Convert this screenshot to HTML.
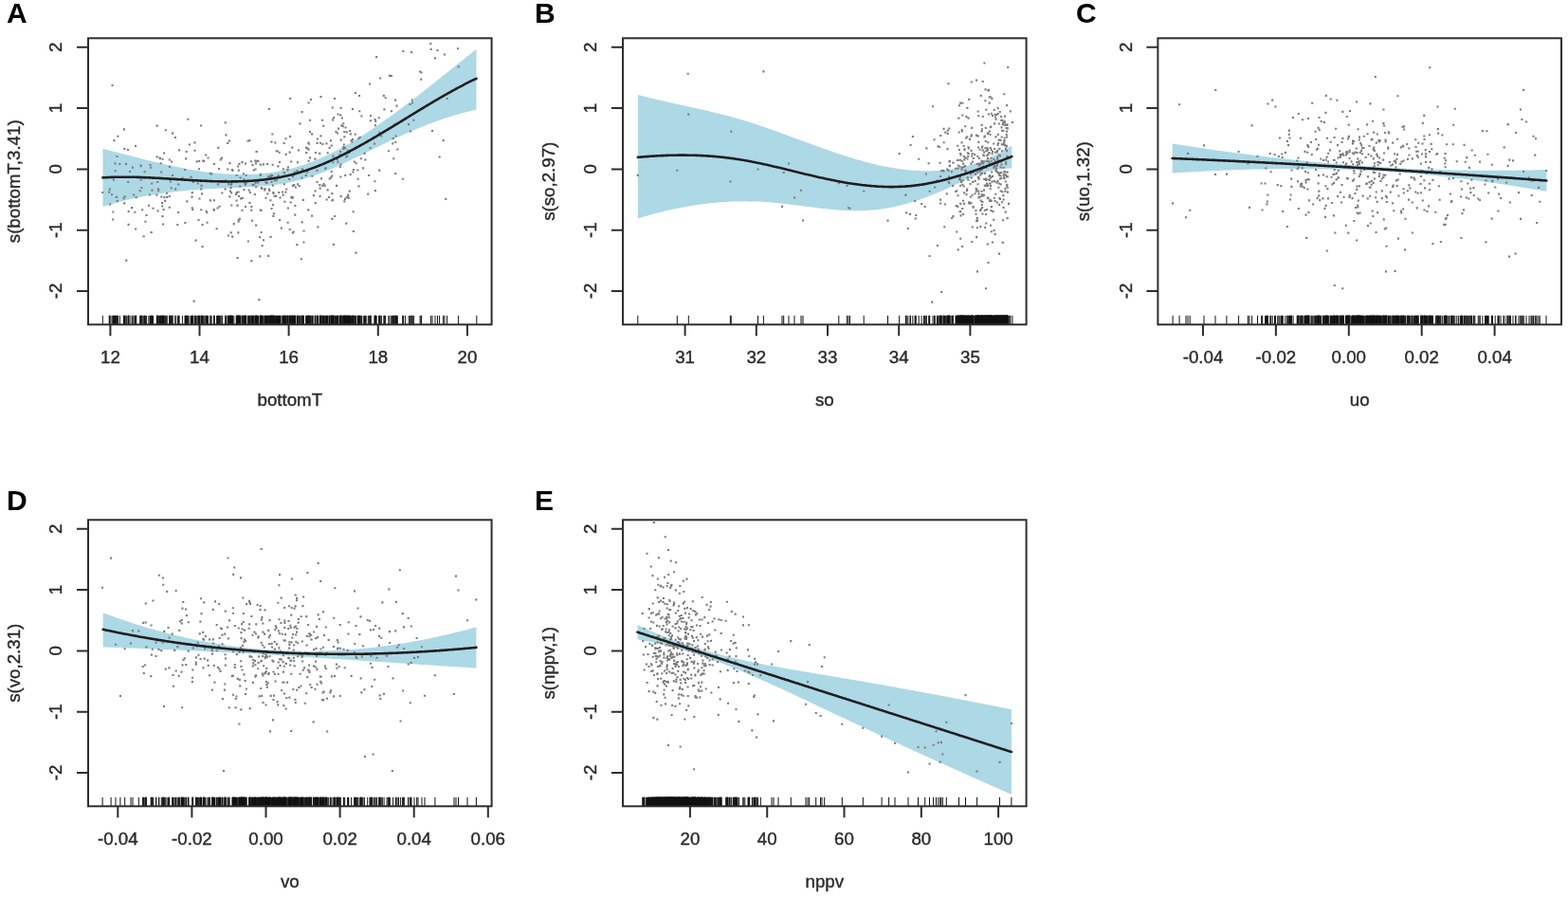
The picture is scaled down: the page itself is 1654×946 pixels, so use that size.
<!DOCTYPE html><html><head><meta charset="utf-8"><title>GAM smooths</title><style>html,body{margin:0;padding:0;background:#fff;}svg{display:block;}text{font-family:"Liberation Sans",Arial,sans-serif;}text.t{stroke:#2a2a2a;stroke-width:0.4px;}</style></head><body><svg width="1654" height="946" viewBox="0 0 1654 946"><defs><filter id="bl" x="0" y="0" width="1" height="1"><feGaussianBlur stdDeviation="0.0"/></filter></defs><rect width="1654" height="946" fill="#ffffff"/><g><g><path d="M108.5 156.9 L109.5 157.1 L110.5 157.4 L111.5 157.6 L112.5 157.9 L113.5 158.1 L114.5 158.4 L115.5 158.7 L116.5 158.9 L117.5 159.2 L118.5 159.4 L119.5 159.7 L120.5 159.9 L121.5 160.2 L122.5 160.5 L123.5 160.7 L124.5 161 L125.5 161.2 L126.5 161.5 L127.5 161.8 L128.5 162 L129.5 162.3 L130.5 162.5 L131.5 162.8 L132.5 163 L133.5 163.3 L134.5 163.6 L135.5 163.8 L136.5 164.1 L137.5 164.3 L138.5 164.6 L139.5 164.9 L140.5 165.1 L141.5 165.4 L142.5 165.6 L143.5 165.9 L144.5 166.1 L145.5 166.4 L146.5 166.6 L147.5 166.9 L148.5 167.2 L149.5 167.4 L150.5 167.7 L151.5 167.9 L152.5 168.2 L153.5 168.4 L154.5 168.7 L155.5 168.9 L156.5 169.2 L157.5 169.4 L158.5 169.6 L159.5 169.9 L160.5 170.1 L161.5 170.4 L162.5 170.6 L163.5 170.9 L164.5 171.1 L165.5 171.3 L166.5 171.6 L167.5 171.8 L168.5 172.1 L169.5 172.3 L170.5 172.5 L171.5 172.7 L172.5 173 L173.5 173.2 L174.5 173.4 L175.5 173.7 L176.5 173.9 L177.5 174.1 L178.5 174.3 L179.5 174.5 L180.5 174.8 L181.5 175 L182.5 175.2 L183.5 175.4 L184.5 175.6 L185.5 175.8 L186.5 176 L187.5 176.2 L188.5 176.4 L189.5 176.6 L190.5 176.8 L191.5 177 L192.5 177.2 L193.5 177.4 L194.5 177.6 L195.5 177.8 L196.5 178 L197.5 178.2 L198.5 178.4 L199.5 178.5 L200.5 178.7 L201.5 178.9 L202.5 179.1 L203.5 179.2 L204.5 179.4 L205.5 179.6 L206.5 179.7 L207.5 179.9 L208.5 180.1 L209.5 180.2 L210.5 180.4 L211.5 180.5 L212.5 180.7 L213.5 180.8 L214.5 181 L215.5 181.1 L216.5 181.2 L217.5 181.4 L218.5 181.5 L219.5 181.6 L220.5 181.7 L221.5 181.9 L222.5 182 L223.5 182.1 L224.5 182.2 L225.5 182.3 L226.5 182.4 L227.5 182.5 L228.5 182.6 L229.5 182.7 L230.5 182.8 L231.5 182.9 L232.5 183 L233.5 183.1 L234.5 183.2 L235.5 183.2 L236.5 183.3 L237.5 183.4 L238.5 183.5 L239.5 183.5 L240.5 183.6 L241.5 183.6 L242.5 183.7 L243.5 183.7 L244.5 183.8 L245.5 183.8 L246.5 183.9 L247.5 183.9 L248.5 183.9 L249.5 183.9 L250.5 184 L251.5 184 L252.5 184 L253.5 184 L254.5 184 L255.5 184 L256.5 184 L257.5 184 L258.5 184 L259.5 184 L260.5 184 L261.5 183.9 L262.5 183.9 L263.5 183.9 L264.5 183.8 L265.5 183.8 L266.5 183.7 L267.5 183.7 L268.5 183.6 L269.5 183.6 L270.5 183.5 L271.5 183.5 L272.5 183.4 L273.5 183.3 L274.5 183.2 L275.5 183.1 L276.5 183 L277.5 182.9 L278.5 182.8 L279.5 182.7 L280.5 182.6 L281.5 182.5 L282.5 182.4 L283.5 182.3 L284.5 182.1 L285.5 182 L286.5 181.8 L287.5 181.7 L288.5 181.5 L289.5 181.4 L290.5 181.2 L291.5 181.1 L292.5 180.9 L293.5 180.7 L294.5 180.5 L295.5 180.3 L296.5 180.1 L297.5 179.9 L298.5 179.7 L299.5 179.5 L300.5 179.3 L301.5 179.1 L302.5 178.8 L303.5 178.6 L304.5 178.4 L305.5 178.1 L306.5 177.9 L307.5 177.6 L308.5 177.4 L309.5 177.1 L310.5 176.8 L311.5 176.5 L312.5 176.2 L313.5 176 L314.5 175.7 L315.5 175.3 L316.5 175 L317.5 174.7 L318.5 174.4 L319.5 174.1 L320.5 173.7 L321.5 173.4 L322.5 173 L323.5 172.7 L324.5 172.3 L325.5 172 L326.5 171.6 L327.5 171.2 L328.5 170.8 L329.5 170.4 L330.5 170.1 L331.5 169.7 L332.5 169.2 L333.5 168.8 L334.5 168.4 L335.5 168 L336.5 167.6 L337.5 167.1 L338.5 166.7 L339.5 166.3 L340.5 165.8 L341.5 165.4 L342.5 164.9 L343.5 164.4 L344.5 164 L345.5 163.5 L346.5 163 L347.5 162.5 L348.5 162 L349.5 161.5 L350.5 161 L351.5 160.5 L352.5 160 L353.5 159.5 L354.5 159 L355.5 158.5 L356.5 158 L357.5 157.4 L358.5 156.9 L359.5 156.3 L360.5 155.8 L361.5 155.2 L362.5 154.7 L363.5 154.1 L364.5 153.6 L365.5 153 L366.5 152.4 L367.5 151.9 L368.5 151.3 L369.5 150.7 L370.5 150.1 L371.5 149.5 L372.5 148.9 L373.5 148.3 L374.5 147.7 L375.5 147.1 L376.5 146.5 L377.5 145.9 L378.5 145.3 L379.5 144.6 L380.5 144 L381.5 143.4 L382.5 142.7 L383.5 142.1 L384.5 141.5 L385.5 140.8 L386.5 140.2 L387.5 139.5 L388.5 138.9 L389.5 138.2 L390.5 137.5 L391.5 136.9 L392.5 136.2 L393.5 135.5 L394.5 134.9 L395.5 134.2 L396.5 133.5 L397.5 132.8 L398.5 132.1 L399.5 131.4 L400.5 130.7 L401.5 130 L402.5 129.3 L403.5 128.6 L404.5 127.9 L405.5 127.2 L406.5 126.5 L407.5 125.8 L408.5 125.1 L409.5 124.4 L410.5 123.7 L411.5 122.9 L412.5 122.2 L413.5 121.5 L414.5 120.8 L415.5 120 L416.5 119.3 L417.5 118.6 L418.5 117.8 L419.5 117.1 L420.5 116.3 L421.5 115.6 L422.5 114.8 L423.5 114.1 L424.5 113.3 L425.5 112.6 L426.5 111.8 L427.5 111.1 L428.5 110.3 L429.5 109.6 L430.5 108.8 L431.5 108 L432.5 107.3 L433.5 106.5 L434.5 105.7 L435.5 105 L436.5 104.2 L437.5 103.4 L438.5 102.6 L439.5 101.9 L440.5 101.1 L441.5 100.3 L442.5 99.5 L443.5 98.8 L444.5 98 L445.5 97.2 L446.5 96.4 L447.5 95.6 L448.5 94.8 L449.5 94 L450.5 93.3 L451.5 92.5 L452.5 91.7 L453.5 90.9 L454.5 90.1 L455.5 89.3 L456.5 88.5 L457.5 87.7 L458.5 86.9 L459.5 86.1 L460.5 85.3 L461.5 84.5 L462.5 83.7 L463.5 82.9 L464.5 82.2 L465.5 81.4 L466.5 80.6 L467.5 79.8 L468.5 79 L469.5 78.2 L470.5 77.4 L471.5 76.6 L472.5 75.8 L473.5 75 L474.5 74.2 L475.5 73.4 L476.5 72.6 L477.5 71.8 L478.5 71 L479.5 70.2 L480.5 69.4 L481.5 68.6 L482.5 67.8 L483.5 67 L484.5 66.2 L485.5 65.4 L486.5 64.6 L487.5 63.8 L488.5 63 L489.5 62.2 L490.5 61.4 L491.5 60.6 L492.5 59.8 L493.5 59 L494.5 58.2 L495.5 57.5 L496.5 56.7 L497.5 55.9 L498.5 55.1 L499.5 54.3 L500.5 53.5 L501.5 52.7 L502.5 52 L502.5 115.6 L501.5 115.8 L500.5 116.1 L499.5 116.3 L498.5 116.5 L497.5 116.7 L496.5 117 L495.5 117.2 L494.5 117.5 L493.5 117.7 L492.5 118 L491.5 118.2 L490.5 118.5 L489.5 118.8 L488.5 119 L487.5 119.3 L486.5 119.6 L485.5 119.8 L484.5 120.1 L483.5 120.4 L482.5 120.7 L481.5 121 L480.5 121.3 L479.5 121.6 L478.5 121.9 L477.5 122.2 L476.5 122.5 L475.5 122.8 L474.5 123.1 L473.5 123.5 L472.5 123.8 L471.5 124.1 L470.5 124.4 L469.5 124.8 L468.5 125.1 L467.5 125.4 L466.5 125.8 L465.5 126.1 L464.5 126.5 L463.5 126.8 L462.5 127.2 L461.5 127.5 L460.5 127.9 L459.5 128.2 L458.5 128.6 L457.5 129 L456.5 129.3 L455.5 129.7 L454.5 130.1 L453.5 130.5 L452.5 130.8 L451.5 131.2 L450.5 131.6 L449.5 132 L448.5 132.4 L447.5 132.8 L446.5 133.2 L445.5 133.6 L444.5 134 L443.5 134.4 L442.5 134.8 L441.5 135.2 L440.5 135.6 L439.5 136 L438.5 136.4 L437.5 136.9 L436.5 137.3 L435.5 137.7 L434.5 138.1 L433.5 138.6 L432.5 139 L431.5 139.4 L430.5 139.9 L429.5 140.3 L428.5 140.7 L427.5 141.2 L426.5 141.6 L425.5 142.1 L424.5 142.5 L423.5 143 L422.5 143.4 L421.5 143.9 L420.5 144.3 L419.5 144.8 L418.5 145.2 L417.5 145.7 L416.5 146.2 L415.5 146.6 L414.5 147.1 L413.5 147.6 L412.5 148 L411.5 148.5 L410.5 149 L409.5 149.5 L408.5 149.9 L407.5 150.4 L406.5 150.9 L405.5 151.4 L404.5 151.8 L403.5 152.3 L402.5 152.8 L401.5 153.3 L400.5 153.8 L399.5 154.3 L398.5 154.8 L397.5 155.3 L396.5 155.8 L395.5 156.3 L394.5 156.7 L393.5 157.2 L392.5 157.7 L391.5 158.2 L390.5 158.7 L389.5 159.2 L388.5 159.7 L387.5 160.2 L386.5 160.7 L385.5 161.2 L384.5 161.7 L383.5 162.2 L382.5 162.7 L381.5 163.2 L380.5 163.7 L379.5 164.2 L378.5 164.7 L377.5 165.2 L376.5 165.7 L375.5 166.1 L374.5 166.6 L373.5 167.1 L372.5 167.6 L371.5 168.1 L370.5 168.6 L369.5 169 L368.5 169.5 L367.5 170 L366.5 170.5 L365.5 170.9 L364.5 171.4 L363.5 171.9 L362.5 172.4 L361.5 172.8 L360.5 173.3 L359.5 173.7 L358.5 174.2 L357.5 174.6 L356.5 175.1 L355.5 175.5 L354.5 176 L353.5 176.4 L352.5 176.9 L351.5 177.3 L350.5 177.7 L349.5 178.2 L348.5 178.6 L347.5 179 L346.5 179.4 L345.5 179.8 L344.5 180.2 L343.5 180.7 L342.5 181.1 L341.5 181.4 L340.5 181.8 L339.5 182.2 L338.5 182.6 L337.5 183 L336.5 183.4 L335.5 183.7 L334.5 184.1 L333.5 184.5 L332.5 184.8 L331.5 185.2 L330.5 185.5 L329.5 185.9 L328.5 186.2 L327.5 186.5 L326.5 186.9 L325.5 187.2 L324.5 187.5 L323.5 187.8 L322.5 188.1 L321.5 188.4 L320.5 188.7 L319.5 189 L318.5 189.3 L317.5 189.6 L316.5 189.8 L315.5 190.1 L314.5 190.3 L313.5 190.6 L312.5 190.8 L311.5 191.1 L310.5 191.3 L309.5 191.5 L308.5 191.8 L307.5 192 L306.5 192.2 L305.5 192.4 L304.5 192.6 L303.5 192.8 L302.5 193 L301.5 193.2 L300.5 193.3 L299.5 193.5 L298.5 193.7 L297.5 193.8 L296.5 194 L295.5 194.2 L294.5 194.3 L293.5 194.5 L292.5 194.6 L291.5 194.7 L290.5 194.9 L289.5 195 L288.5 195.1 L287.5 195.3 L286.5 195.4 L285.5 195.5 L284.5 195.6 L283.5 195.7 L282.5 195.8 L281.5 195.9 L280.5 196 L279.5 196.1 L278.5 196.2 L277.5 196.3 L276.5 196.4 L275.5 196.5 L274.5 196.6 L273.5 196.6 L272.5 196.7 L271.5 196.8 L270.5 196.9 L269.5 196.9 L268.5 197 L267.5 197.1 L266.5 197.1 L265.5 197.2 L264.5 197.2 L263.5 197.3 L262.5 197.3 L261.5 197.4 L260.5 197.5 L259.5 197.5 L258.5 197.6 L257.5 197.6 L256.5 197.6 L255.5 197.7 L254.5 197.7 L253.5 197.8 L252.5 197.8 L251.5 197.9 L250.5 197.9 L249.5 197.9 L248.5 198 L247.5 198 L246.5 198.1 L245.5 198.1 L244.5 198.1 L243.5 198.2 L242.5 198.2 L241.5 198.3 L240.5 198.3 L239.5 198.3 L238.5 198.4 L237.5 198.4 L236.5 198.5 L235.5 198.5 L234.5 198.5 L233.5 198.6 L232.5 198.6 L231.5 198.7 L230.5 198.7 L229.5 198.8 L228.5 198.8 L227.5 198.8 L226.5 198.9 L225.5 198.9 L224.5 199 L223.5 199 L222.5 199.1 L221.5 199.2 L220.5 199.2 L219.5 199.3 L218.5 199.3 L217.5 199.4 L216.5 199.4 L215.5 199.5 L214.5 199.6 L213.5 199.6 L212.5 199.7 L211.5 199.8 L210.5 199.8 L209.5 199.9 L208.5 200 L207.5 200.1 L206.5 200.1 L205.5 200.2 L204.5 200.3 L203.5 200.4 L202.5 200.5 L201.5 200.5 L200.5 200.6 L199.5 200.7 L198.5 200.8 L197.5 200.9 L196.5 201 L195.5 201.1 L194.5 201.2 L193.5 201.3 L192.5 201.4 L191.5 201.5 L190.5 201.6 L189.5 201.7 L188.5 201.8 L187.5 201.9 L186.5 202 L185.5 202.1 L184.5 202.2 L183.5 202.3 L182.5 202.5 L181.5 202.6 L180.5 202.7 L179.5 202.8 L178.5 203 L177.5 203.1 L176.5 203.2 L175.5 203.3 L174.5 203.5 L173.5 203.6 L172.5 203.8 L171.5 203.9 L170.5 204 L169.5 204.2 L168.5 204.3 L167.5 204.5 L166.5 204.6 L165.5 204.8 L164.5 204.9 L163.5 205.1 L162.5 205.3 L161.5 205.4 L160.5 205.6 L159.5 205.8 L158.5 205.9 L157.5 206.1 L156.5 206.3 L155.5 206.5 L154.5 206.7 L153.5 206.8 L152.5 207 L151.5 207.2 L150.5 207.4 L149.5 207.6 L148.5 207.8 L147.5 208 L146.5 208.2 L145.5 208.4 L144.5 208.6 L143.5 208.8 L142.5 209 L141.5 209.3 L140.5 209.5 L139.5 209.7 L138.5 209.9 L137.5 210.1 L136.5 210.4 L135.5 210.6 L134.5 210.8 L133.5 211.1 L132.5 211.3 L131.5 211.6 L130.5 211.8 L129.5 212.1 L128.5 212.3 L127.5 212.6 L126.5 212.8 L125.5 213.1 L124.5 213.4 L123.5 213.6 L122.5 213.9 L121.5 214.2 L120.5 214.5 L119.5 214.8 L118.5 215 L117.5 215.3 L116.5 215.6 L115.5 215.9 L114.5 216.2 L113.5 216.5 L112.5 216.8 L111.5 217.1 L110.5 217.4 L109.5 217.8 L108.5 218.1Z" fill="#add8e6"/><path d="M107.2 202h2.1v2.1h-2.1zM453.2 45h2.1v2.1h-2.1zM454.9 137h2.1v2.1h-2.1zM457.9 60.3h2.1v2.1h-2.1zM460.4 51.9h2.1v2.1h-2.1zM462.6 164.5h2.1v2.1h-2.1zM466.6 147.1h2.1v2.1h-2.1zM467.9 56.4h2.1v2.1h-2.1zM470.6 102.9h2.1v2.1h-2.1zM482.6 69.5h2.1v2.1h-2.1zM123.3 142.7h2.1v2.1h-2.1zM209.1 169h2.1v2.1h-2.1zM167.4 165.4h2.1v2.1h-2.1zM202.2 220h2.1v2.1h-2.1zM233.3 202.4h2.1v2.1h-2.1zM179.6 197.2h2.1v2.1h-2.1zM175.1 206.8h2.1v2.1h-2.1zM122.7 210.9h2.1v2.1h-2.1zM146.7 200.2h2.1v2.1h-2.1zM174.9 202.7h2.1v2.1h-2.1zM196.8 188.8h2.1v2.1h-2.1zM212 203.3h2.1v2.1h-2.1zM160.4 218.7h2.1v2.1h-2.1zM122 206.9h2.1v2.1h-2.1zM149.1 220.2h2.1v2.1h-2.1zM224.9 220.7h2.1v2.1h-2.1zM140 204.5h2.1v2.1h-2.1zM169.1 180.4h2.1v2.1h-2.1zM227.6 240.2h2.1v2.1h-2.1zM117 204.2h2.1v2.1h-2.1zM187.2 193.5h2.1v2.1h-2.1zM229.9 177h2.1v2.1h-2.1zM142 153h2.1v2.1h-2.1zM180.9 183.9h2.1v2.1h-2.1zM224.9 171.9h2.1v2.1h-2.1zM130.2 155.9h2.1v2.1h-2.1zM177.8 205.9h2.1v2.1h-2.1zM205.5 252.6h2.1v2.1h-2.1zM195.6 158.9h2.1v2.1h-2.1zM171 235.4h2.1v2.1h-2.1zM138.9 175.6h2.1v2.1h-2.1zM173.8 136.2h2.1v2.1h-2.1zM159.4 199.6h2.1v2.1h-2.1zM172.2 207.1h2.1v2.1h-2.1zM158.6 243.9h2.1v2.1h-2.1zM216.2 162.5h2.1v2.1h-2.1zM207.7 192.4h2.1v2.1h-2.1zM152.3 232.7h2.1v2.1h-2.1zM183.8 143.9h2.1v2.1h-2.1zM147.6 188.7h2.1v2.1h-2.1zM169.2 206.5h2.1v2.1h-2.1zM157 204.4h2.1v2.1h-2.1zM194.2 177.9h2.1v2.1h-2.1zM159.1 192.5h2.1v2.1h-2.1zM170 213.1h2.1v2.1h-2.1zM201.7 218.2h2.1v2.1h-2.1zM164.3 204.6h2.1v2.1h-2.1zM224.5 219.8h2.1v2.1h-2.1zM136 180h2.1v2.1h-2.1zM204.4 149.3h2.1v2.1h-2.1zM165.5 221.3h2.1v2.1h-2.1zM166 198.2h2.1v2.1h-2.1zM191.3 186.8h2.1v2.1h-2.1zM177.7 217.7h2.1v2.1h-2.1zM164.6 131.6h2.1v2.1h-2.1zM114.1 201.6h2.1v2.1h-2.1zM125.2 171.9h2.1v2.1h-2.1zM200.5 185.7h2.1v2.1h-2.1zM177.9 174.8h2.1v2.1h-2.1zM198.9 151.5h2.1v2.1h-2.1zM230.5 216.7h2.1v2.1h-2.1zM197.3 124.7h2.1v2.1h-2.1zM120.4 171.3h2.1v2.1h-2.1zM151.6 180.2h2.1v2.1h-2.1zM186.2 236h2.1v2.1h-2.1zM142.6 207.1h2.1v2.1h-2.1zM231.7 167.3h2.1v2.1h-2.1zM229.2 154.8h2.1v2.1h-2.1zM217.5 233.7h2.1v2.1h-2.1zM171.6 219.9h2.1v2.1h-2.1zM216.6 221.7h2.1v2.1h-2.1zM129.9 135.3h2.1v2.1h-2.1zM151.6 186.3h2.1v2.1h-2.1zM170.4 227.1h2.1v2.1h-2.1zM204.5 157.7h2.1v2.1h-2.1zM173.2 210.8h2.1v2.1h-2.1zM130.6 206.2h2.1v2.1h-2.1zM155.9 215.7h2.1v2.1h-2.1zM153.5 226h2.1v2.1h-2.1zM150.6 248.2h2.1v2.1h-2.1zM134.1 191h2.1v2.1h-2.1zM164.6 164.3h2.1v2.1h-2.1zM168.6 171.2h2.1v2.1h-2.1zM208.5 231h2.1v2.1h-2.1zM211.1 131.5h2.1v2.1h-2.1zM177.7 167.4h2.1v2.1h-2.1zM170.1 216.4h2.1v2.1h-2.1zM208.9 177.2h2.1v2.1h-2.1zM222.2 182.4h2.1v2.1h-2.1zM196.3 211.3h2.1v2.1h-2.1zM211.6 194.8h2.1v2.1h-2.1zM228.5 218.4h2.1v2.1h-2.1zM118.9 188.6h2.1v2.1h-2.1zM220.8 181.8h2.1v2.1h-2.1zM147.7 174.2h2.1v2.1h-2.1zM172 160.4h2.1v2.1h-2.1zM211.2 198.3h2.1v2.1h-2.1zM201.5 206.6h2.1v2.1h-2.1zM131.9 171.8h2.1v2.1h-2.1zM194.3 234h2.1v2.1h-2.1zM122.4 164h2.1v2.1h-2.1zM157.5 172.9h2.1v2.1h-2.1zM213.1 168.5h2.1v2.1h-2.1zM166.1 200.2h2.1v2.1h-2.1zM187.1 222.9h2.1v2.1h-2.1zM202.8 191h2.1v2.1h-2.1zM214.1 168.8h2.1v2.1h-2.1zM206.7 169.3h2.1v2.1h-2.1zM114.8 198.6h2.1v2.1h-2.1zM165.2 191h2.1v2.1h-2.1zM170.5 166.7h2.1v2.1h-2.1zM120.7 179.2h2.1v2.1h-2.1zM180 169.4h2.1v2.1h-2.1zM188.1 157.3h2.1v2.1h-2.1zM215 189.5h2.1v2.1h-2.1zM228.9 193.3h2.1v2.1h-2.1zM129.6 208.1h2.1v2.1h-2.1zM142.1 240.4h2.1v2.1h-2.1zM194.4 188.4h2.1v2.1h-2.1zM130.1 213.3h2.1v2.1h-2.1zM141.3 222.7h2.1v2.1h-2.1zM184.1 198.3h2.1v2.1h-2.1zM134.6 222h2.1v2.1h-2.1zM209.4 208.4h2.1v2.1h-2.1zM218.5 165.4h2.1v2.1h-2.1zM118.1 230.4h2.1v2.1h-2.1zM178.9 190.3h2.1v2.1h-2.1zM211.2 220.2h2.1v2.1h-2.1zM232.9 165.6h2.1v2.1h-2.1zM147.4 173.5h2.1v2.1h-2.1zM134.6 185.9h2.1v2.1h-2.1zM220.9 210.3h2.1v2.1h-2.1zM224.9 210.2h2.1v2.1h-2.1zM138 218.1h2.1v2.1h-2.1zM167.8 166.1h2.1v2.1h-2.1zM201.7 202.1h2.1v2.1h-2.1zM217.1 223.2h2.1v2.1h-2.1zM134.5 235.8h2.1v2.1h-2.1zM195.1 166.3h2.1v2.1h-2.1zM212.5 236h2.1v2.1h-2.1zM181 139.6h2.1v2.1h-2.1zM134 156.9h2.1v2.1h-2.1zM118.3 222.4h2.1v2.1h-2.1zM148.3 196.9h2.1v2.1h-2.1zM212.5 259.1h2.1v2.1h-2.1zM119.4 147.1h2.1v2.1h-2.1zM115 214.5h2.1v2.1h-2.1zM158.1 175.7h2.1v2.1h-2.1zM121.7 206.8h2.1v2.1h-2.1zM132.2 273.6h2.1v2.1h-2.1zM239.1 150h2.1v2.1h-2.1zM307.8 194.8h2.1v2.1h-2.1zM331.4 166.6h2.1v2.1h-2.1zM294.5 207.4h2.1v2.1h-2.1zM254.4 220.7h2.1v2.1h-2.1zM281.3 203.3h2.1v2.1h-2.1zM316.8 272.2h2.1v2.1h-2.1zM364.8 138.2h2.1v2.1h-2.1zM371.9 178h2.1v2.1h-2.1zM269 171.3h2.1v2.1h-2.1zM237.4 141.3h2.1v2.1h-2.1zM349.7 112.4h2.1v2.1h-2.1zM362.9 209h2.1v2.1h-2.1zM298.8 193.2h2.1v2.1h-2.1zM341.6 194.8h2.1v2.1h-2.1zM354.6 166.9h2.1v2.1h-2.1zM319.5 242.4h2.1v2.1h-2.1zM355.5 119.5h2.1v2.1h-2.1zM239.2 177.5h2.1v2.1h-2.1zM273.2 269.3h2.1v2.1h-2.1zM273.9 182.7h2.1v2.1h-2.1zM252.5 186.4h2.1v2.1h-2.1zM360.7 132.1h2.1v2.1h-2.1zM240.1 192.9h2.1v2.1h-2.1zM328.1 140.3h2.1v2.1h-2.1zM245.7 235.1h2.1v2.1h-2.1zM285.4 190.9h2.1v2.1h-2.1zM293.2 202h2.1v2.1h-2.1zM260.8 253.4h2.1v2.1h-2.1zM307.3 208h2.1v2.1h-2.1zM309.2 194.1h2.1v2.1h-2.1zM279.4 207.7h2.1v2.1h-2.1zM336.9 149.7h2.1v2.1h-2.1zM257.9 217.1h2.1v2.1h-2.1zM262.3 147.1h2.1v2.1h-2.1zM284.5 248.8h2.1v2.1h-2.1zM287.8 224.3h2.1v2.1h-2.1zM264.2 220.7h2.1v2.1h-2.1zM361.8 151.5h2.1v2.1h-2.1zM349.4 229.8h2.1v2.1h-2.1zM250.6 232.7h2.1v2.1h-2.1zM286.6 172.7h2.1v2.1h-2.1zM267.8 204h2.1v2.1h-2.1zM297.7 177.3h2.1v2.1h-2.1zM273.8 172.6h2.1v2.1h-2.1zM304.7 241h2.1v2.1h-2.1zM362.3 143.3h2.1v2.1h-2.1zM288.4 205.7h2.1v2.1h-2.1zM325 150.7h2.1v2.1h-2.1zM317.6 233.3h2.1v2.1h-2.1zM339 125.7h2.1v2.1h-2.1zM244.4 178.8h2.1v2.1h-2.1zM338 187.3h2.1v2.1h-2.1zM365.6 157.8h2.1v2.1h-2.1zM318.6 179.5h2.1v2.1h-2.1zM275.3 198h2.1v2.1h-2.1zM328.1 226.6h2.1v2.1h-2.1zM333.5 149.8h2.1v2.1h-2.1zM325.9 125.7h2.1v2.1h-2.1zM256.1 189h2.1v2.1h-2.1zM369.3 147.2h2.1v2.1h-2.1zM366.8 207.9h2.1v2.1h-2.1zM294.1 231.1h2.1v2.1h-2.1zM317.3 186.4h2.1v2.1h-2.1zM241.4 171.1h2.1v2.1h-2.1zM371.4 180.5h2.1v2.1h-2.1zM348.1 186.3h2.1v2.1h-2.1zM323.2 180.5h2.1v2.1h-2.1zM340.2 131.7h2.1v2.1h-2.1zM261.7 199.6h2.1v2.1h-2.1zM278.1 199.4h2.1v2.1h-2.1zM269.7 159h2.1v2.1h-2.1zM317.6 117.1h2.1v2.1h-2.1zM248.5 210.5h2.1v2.1h-2.1zM358.6 112.9h2.1v2.1h-2.1zM299.3 211.7h2.1v2.1h-2.1zM296.9 201.5h2.1v2.1h-2.1zM250.3 244.3h2.1v2.1h-2.1zM329.8 205.1h2.1v2.1h-2.1zM347.9 147.3h2.1v2.1h-2.1zM322.2 160h2.1v2.1h-2.1zM269.1 196.2h2.1v2.1h-2.1zM343.6 209.4h2.1v2.1h-2.1zM255.9 182.2h2.1v2.1h-2.1zM349.3 203.1h2.1v2.1h-2.1zM315.5 129.3h2.1v2.1h-2.1zM275.6 257.9h2.1v2.1h-2.1zM306.3 206.8h2.1v2.1h-2.1zM322.1 154.8h2.1v2.1h-2.1zM271.4 168.8h2.1v2.1h-2.1zM352 103h2.1v2.1h-2.1zM293.7 159.7h2.1v2.1h-2.1zM358.2 120.3h2.1v2.1h-2.1zM350.4 163.6h2.1v2.1h-2.1zM249.6 215.7h2.1v2.1h-2.1zM324.5 156.6h2.1v2.1h-2.1zM278.5 198.1h2.1v2.1h-2.1zM339.3 151h2.1v2.1h-2.1zM310.3 216h2.1v2.1h-2.1zM298.6 149.9h2.1v2.1h-2.1zM358.6 206.1h2.1v2.1h-2.1zM243.8 177.9h2.1v2.1h-2.1zM312.3 257.1h2.1v2.1h-2.1zM280.9 172h2.1v2.1h-2.1zM240.8 147.6h2.1v2.1h-2.1zM339.2 194.7h2.1v2.1h-2.1zM312.9 170.2h2.1v2.1h-2.1zM358.4 172.6h2.1v2.1h-2.1zM317.9 177.3h2.1v2.1h-2.1zM282.1 185h2.1v2.1h-2.1zM370.9 114h2.1v2.1h-2.1zM251.8 229.8h2.1v2.1h-2.1zM243.2 215.4h2.1v2.1h-2.1zM336.3 194.1h2.1v2.1h-2.1zM286.8 194.6h2.1v2.1h-2.1zM285.5 218.9h2.1v2.1h-2.1zM356 134.6h2.1v2.1h-2.1zM280.8 191.7h2.1v2.1h-2.1zM357.7 175h2.1v2.1h-2.1zM324.2 220.3h2.1v2.1h-2.1zM281 187.5h2.1v2.1h-2.1zM244.1 248.6h2.1v2.1h-2.1zM269.5 158.9h2.1v2.1h-2.1zM368.6 183.1h2.1v2.1h-2.1zM291.5 158.2h2.1v2.1h-2.1zM257.9 171.5h2.1v2.1h-2.1zM276.8 172.3h2.1v2.1h-2.1zM359.2 131.3h2.1v2.1h-2.1zM258.6 183.7h2.1v2.1h-2.1zM342.5 176.2h2.1v2.1h-2.1zM254.4 170.1h2.1v2.1h-2.1zM367.7 200.6h2.1v2.1h-2.1zM308.6 243.4h2.1v2.1h-2.1zM241.9 200.6h2.1v2.1h-2.1zM363.5 133.5h2.1v2.1h-2.1zM285 185.2h2.1v2.1h-2.1zM336.2 160.8h2.1v2.1h-2.1zM307.7 206.9h2.1v2.1h-2.1zM248.6 183.9h2.1v2.1h-2.1zM250.5 201.5h2.1v2.1h-2.1zM256.4 199.1h2.1v2.1h-2.1zM258 192.1h2.1v2.1h-2.1zM243.2 192.6h2.1v2.1h-2.1zM242.4 193.9h2.1v2.1h-2.1zM365.9 206.6h2.1v2.1h-2.1zM248.5 202.1h2.1v2.1h-2.1zM305.6 212.4h2.1v2.1h-2.1zM252.2 195.5h2.1v2.1h-2.1zM265.4 172.9h2.1v2.1h-2.1zM340.5 193.1h2.1v2.1h-2.1zM364.5 207.2h2.1v2.1h-2.1zM300.3 201.6h2.1v2.1h-2.1zM236.7 128.3h2.1v2.1h-2.1zM372.8 169.5h2.1v2.1h-2.1zM242.5 197.1h2.1v2.1h-2.1zM289.3 149.5h2.1v2.1h-2.1zM309.8 181.8h2.1v2.1h-2.1zM358.1 159h2.1v2.1h-2.1zM348.7 152.5h2.1v2.1h-2.1zM319.4 254.4h2.1v2.1h-2.1zM290.6 189.1h2.1v2.1h-2.1zM350.3 170.2h2.1v2.1h-2.1zM355 139.4h2.1v2.1h-2.1zM355.4 169.6h2.1v2.1h-2.1zM334.3 238.3h2.1v2.1h-2.1zM249.3 215.4h2.1v2.1h-2.1zM276.9 252.2h2.1v2.1h-2.1zM302.5 177.9h2.1v2.1h-2.1zM305.1 103h2.1v2.1h-2.1zM350.1 125.3h2.1v2.1h-2.1zM268.5 177.5h2.1v2.1h-2.1zM327 104h2.1v2.1h-2.1zM287.2 201.9h2.1v2.1h-2.1zM342.2 176.8h2.1v2.1h-2.1zM262.8 201.9h2.1v2.1h-2.1zM301.2 198.4h2.1v2.1h-2.1zM250.1 174.5h2.1v2.1h-2.1zM265 231.7h2.1v2.1h-2.1zM364.1 164.5h2.1v2.1h-2.1zM279.2 190.9h2.1v2.1h-2.1zM358.3 185.5h2.1v2.1h-2.1zM307.8 244.5h2.1v2.1h-2.1zM241.3 206.3h2.1v2.1h-2.1zM344.6 199.3h2.1v2.1h-2.1zM243.1 202.5h2.1v2.1h-2.1zM349.2 184.6h2.1v2.1h-2.1zM237.2 189.4h2.1v2.1h-2.1zM328.3 184.7h2.1v2.1h-2.1zM258.7 191.7h2.1v2.1h-2.1zM282.9 113.9h2.1v2.1h-2.1zM366.5 158.5h2.1v2.1h-2.1zM302.6 233.7h2.1v2.1h-2.1zM326 165.3h2.1v2.1h-2.1zM337.4 100.9h2.1v2.1h-2.1zM251 205.9h2.1v2.1h-2.1zM350.9 256.8h2.1v2.1h-2.1zM361.2 129.2h2.1v2.1h-2.1zM257.2 192.7h2.1v2.1h-2.1zM310.8 196.4h2.1v2.1h-2.1zM274.8 197.1h2.1v2.1h-2.1zM337.4 142.3h2.1v2.1h-2.1zM239.8 247.5h2.1v2.1h-2.1zM306.2 169.5h2.1v2.1h-2.1zM344.6 160.2h2.1v2.1h-2.1zM336.6 197.6h2.1v2.1h-2.1zM250.8 178.6h2.1v2.1h-2.1zM350.1 209.7h2.1v2.1h-2.1zM268.5 192.1h2.1v2.1h-2.1zM346.6 187.5h2.1v2.1h-2.1zM304.1 187.9h2.1v2.1h-2.1zM258 193.6h2.1v2.1h-2.1zM336.5 205.9h2.1v2.1h-2.1zM346.6 154.8h2.1v2.1h-2.1zM331.7 213.1h2.1v2.1h-2.1zM368.1 136.9h2.1v2.1h-2.1zM271 191.3h2.1v2.1h-2.1zM268.2 168.6h2.1v2.1h-2.1zM256.1 188.4h2.1v2.1h-2.1zM309.8 180.5h2.1v2.1h-2.1zM290.7 158.3h2.1v2.1h-2.1zM284.8 183.8h2.1v2.1h-2.1zM299 180.9h2.1v2.1h-2.1zM273.6 183.9h2.1v2.1h-2.1zM236.5 198.5h2.1v2.1h-2.1zM300.6 161.8h2.1v2.1h-2.1zM273.7 220.5h2.1v2.1h-2.1zM297.6 204.6h2.1v2.1h-2.1zM363.2 184h2.1v2.1h-2.1zM260.5 147.7h2.1v2.1h-2.1zM323.3 155.5h2.1v2.1h-2.1zM324.2 149.5h2.1v2.1h-2.1zM274.5 220.9h2.1v2.1h-2.1zM300.5 145.2h2.1v2.1h-2.1zM368.8 140.3h2.1v2.1h-2.1zM282.9 198.4h2.1v2.1h-2.1zM333.5 178.8h2.1v2.1h-2.1zM351.1 123h2.1v2.1h-2.1zM285.4 148.6h2.1v2.1h-2.1zM371.6 222.2h2.1v2.1h-2.1zM321.7 183.8h2.1v2.1h-2.1zM304.6 159.6h2.1v2.1h-2.1zM333.9 145.5h2.1v2.1h-2.1zM294 169.9h2.1v2.1h-2.1zM333.5 191h2.1v2.1h-2.1zM273.6 172.7h2.1v2.1h-2.1zM363 155.1h2.1v2.1h-2.1zM310.2 225.6h2.1v2.1h-2.1zM269.1 236.6h2.1v2.1h-2.1zM295.8 239.6h2.1v2.1h-2.1zM358.6 146.6h2.1v2.1h-2.1zM302.3 178.1h2.1v2.1h-2.1zM284.1 186.6h2.1v2.1h-2.1zM287.5 202.8h2.1v2.1h-2.1zM370.4 148.5h2.1v2.1h-2.1zM251.3 171.8h2.1v2.1h-2.1zM357.7 162.1h2.1v2.1h-2.1zM353.4 137.8h2.1v2.1h-2.1zM266.7 193.9h2.1v2.1h-2.1zM283.8 185.5h2.1v2.1h-2.1zM314 157.5h2.1v2.1h-2.1zM345.9 206.9h2.1v2.1h-2.1zM366.2 204.5h2.1v2.1h-2.1zM371.8 243h2.1v2.1h-2.1zM274.5 243.9h2.1v2.1h-2.1zM262.3 212.8h2.1v2.1h-2.1zM302.8 218.4h2.1v2.1h-2.1zM312.3 179h2.1v2.1h-2.1zM325.9 137.9h2.1v2.1h-2.1zM250.7 231h2.1v2.1h-2.1zM324.5 107.4h2.1v2.1h-2.1zM362.2 137.9h2.1v2.1h-2.1zM361.3 156h2.1v2.1h-2.1zM365.2 163.6h2.1v2.1h-2.1zM362.3 211.3h2.1v2.1h-2.1zM367.6 159.3h2.1v2.1h-2.1zM242.6 244.3h2.1v2.1h-2.1zM361.4 154.1h2.1v2.1h-2.1zM273.1 249.1h2.1v2.1h-2.1zM279.9 191.9h2.1v2.1h-2.1zM298.8 181.1h2.1v2.1h-2.1zM366.8 159.9h2.1v2.1h-2.1zM318.8 209.8h2.1v2.1h-2.1zM284.3 210.2h2.1v2.1h-2.1zM287.2 227h2.1v2.1h-2.1zM359.9 123.5h2.1v2.1h-2.1zM348.6 179.9h2.1v2.1h-2.1zM254.8 208h2.1v2.1h-2.1zM270 189.3h2.1v2.1h-2.1zM286.9 215.1h2.1v2.1h-2.1zM265.6 193.8h2.1v2.1h-2.1zM313.1 193.3h2.1v2.1h-2.1zM266.6 178.4h2.1v2.1h-2.1zM314.7 195.2h2.1v2.1h-2.1zM364.2 234.6h2.1v2.1h-2.1zM352.2 227h2.1v2.1h-2.1zM249.5 271.1h2.1v2.1h-2.1zM264.3 216.9h2.1v2.1h-2.1zM292.5 183.8h2.1v2.1h-2.1zM324.5 168.7h2.1v2.1h-2.1zM288.9 189.3h2.1v2.1h-2.1zM270.4 168.8h2.1v2.1h-2.1zM283.2 199.9h2.1v2.1h-2.1zM263.9 169.2h2.1v2.1h-2.1zM354 194.8h2.1v2.1h-2.1zM331.5 200.5h2.1v2.1h-2.1zM292.3 174.3h2.1v2.1h-2.1zM331.9 160h2.1v2.1h-2.1zM307.2 154.6h2.1v2.1h-2.1zM308 185.1h2.1v2.1h-2.1zM286.3 140.5h2.1v2.1h-2.1zM302.8 175.3h2.1v2.1h-2.1zM371 145.9h2.1v2.1h-2.1zM343.4 150.3h2.1v2.1h-2.1zM349.3 210.5h2.1v2.1h-2.1zM253 208.4h2.1v2.1h-2.1zM305 142.8h2.1v2.1h-2.1zM286.2 184.1h2.1v2.1h-2.1zM248.1 204h2.1v2.1h-2.1zM290.1 205.8h2.1v2.1h-2.1zM376.3 178.5h2.1v2.1h-2.1zM383.5 160.8h2.1v2.1h-2.1zM408.9 158.2h2.1v2.1h-2.1zM403.8 99.8h2.1v2.1h-2.1zM404.4 114.3h2.1v2.1h-2.1zM376.5 187.7h2.1v2.1h-2.1zM380.3 121.4h2.1v2.1h-2.1zM373.9 96.9h2.1v2.1h-2.1zM377.3 144.8h2.1v2.1h-2.1zM377.5 195.3h2.1v2.1h-2.1zM416.2 181.9h2.1v2.1h-2.1zM413.2 150.3h2.1v2.1h-2.1zM382.1 176.3h2.1v2.1h-2.1zM384.4 167.4h2.1v2.1h-2.1zM416.2 149h2.1v2.1h-2.1zM398.6 123.2h2.1v2.1h-2.1zM389.5 155h2.1v2.1h-2.1zM393.9 150.6h2.1v2.1h-2.1zM385.2 148.8h2.1v2.1h-2.1zM399.2 178.6h2.1v2.1h-2.1zM405.6 102.2h2.1v2.1h-2.1zM396.1 59.1h2.1v2.1h-2.1zM409.9 78.8h2.1v2.1h-2.1zM378 99.9h2.1v2.1h-2.1zM400.1 81.5h2.1v2.1h-2.1zM417.5 110.6h2.1v2.1h-2.1zM379.7 166.2h2.1v2.1h-2.1zM395.2 126.8h2.1v2.1h-2.1zM401.3 142.5h2.1v2.1h-2.1zM388.1 184h2.1v2.1h-2.1zM416.4 142.4h2.1v2.1h-2.1zM394.8 200.1h2.1v2.1h-2.1zM394.5 125h2.1v2.1h-2.1zM413.6 145.1h2.1v2.1h-2.1zM373.7 140.7h2.1v2.1h-2.1zM412 116.2h2.1v2.1h-2.1zM378.8 143.7h2.1v2.1h-2.1zM390 120.9h2.1v2.1h-2.1zM394.9 131.2h2.1v2.1h-2.1zM394.4 190.2h2.1v2.1h-2.1zM374.7 171.2h2.1v2.1h-2.1zM387.2 203.6h2.1v2.1h-2.1zM389 87.4h2.1v2.1h-2.1zM416 104.6h2.1v2.1h-2.1zM414.2 166.2h2.1v2.1h-2.1zM399.2 138.7h2.1v2.1h-2.1zM415 130.4h2.1v2.1h-2.1zM411.8 79h2.1v2.1h-2.1zM389.9 126.2h2.1v2.1h-2.1zM378.2 116.2h2.1v2.1h-2.1zM433.7 104.5h2.1v2.1h-2.1zM426.3 124.6h2.1v2.1h-2.1zM418.2 156.5h2.1v2.1h-2.1zM443.5 75.4h2.1v2.1h-2.1zM443.2 82.6h2.1v2.1h-2.1zM431.9 137.5h2.1v2.1h-2.1zM434 107.4h2.1v2.1h-2.1zM435.3 125.7h2.1v2.1h-2.1zM442 74.5h2.1v2.1h-2.1zM430.1 130.1h2.1v2.1h-2.1zM433.1 54.1h2.1v2.1h-2.1zM423.8 187.7h2.1v2.1h-2.1zM424.3 52.9h2.1v2.1h-2.1zM431.5 109h2.1v2.1h-2.1zM423.9 126.5h2.1v2.1h-2.1zM203.6 316.6h2.1v2.1h-2.1zM272.2 315.1h2.1v2.1h-2.1zM117.5 89h2.1v2.1h-2.1zM453.6 50.8h2.1v2.1h-2.1zM481.9 50.2h2.1v2.1h-2.1zM374.4 265.6h2.1v2.1h-2.1zM469.2 208.8h2.1v2.1h-2.1zM264.3 274.1h2.1v2.1h-2.1zM282.1 268.8h2.1v2.1h-2.1z" fill="#7d7d7d"/><path d="M108.5 187.4 L109.5 187.3 L110.5 187.3 L111.5 187.2 L112.5 187.1 L113.5 187.1 L114.5 187 L115.5 187 L116.5 187 L117.5 186.9 L118.5 186.9 L119.5 186.9 L120.5 186.8 L121.5 186.8 L122.5 186.8 L123.5 186.7 L124.5 186.7 L125.5 186.7 L126.5 186.7 L127.5 186.7 L128.5 186.7 L129.5 186.7 L130.5 186.7 L131.5 186.7 L132.5 186.7 L133.5 186.7 L134.5 186.7 L135.5 186.7 L136.5 186.7 L137.5 186.7 L138.5 186.7 L139.5 186.7 L140.5 186.8 L141.5 186.8 L142.5 186.8 L143.5 186.8 L144.5 186.9 L145.5 186.9 L146.5 186.9 L147.5 187 L148.5 187 L149.5 187 L150.5 187.1 L151.5 187.1 L152.5 187.1 L153.5 187.2 L154.5 187.2 L155.5 187.3 L156.5 187.3 L157.5 187.4 L158.5 187.4 L159.5 187.5 L160.5 187.5 L161.5 187.6 L162.5 187.6 L163.5 187.7 L164.5 187.7 L165.5 187.8 L166.5 187.8 L167.5 187.9 L168.5 187.9 L169.5 188 L170.5 188.1 L171.5 188.1 L172.5 188.2 L173.5 188.2 L174.5 188.3 L175.5 188.4 L176.5 188.4 L177.5 188.5 L178.5 188.6 L179.5 188.6 L180.5 188.7 L181.5 188.8 L182.5 188.8 L183.5 188.9 L184.5 188.9 L185.5 189 L186.5 189.1 L187.5 189.1 L188.5 189.2 L189.5 189.3 L190.5 189.3 L191.5 189.4 L192.5 189.5 L193.5 189.5 L194.5 189.6 L195.5 189.7 L196.5 189.7 L197.5 189.8 L198.5 189.8 L199.5 189.9 L200.5 190 L201.5 190 L202.5 190.1 L203.5 190.1 L204.5 190.2 L205.5 190.3 L206.5 190.3 L207.5 190.4 L208.5 190.4 L209.5 190.5 L210.5 190.5 L211.5 190.6 L212.5 190.6 L213.5 190.7 L214.5 190.7 L215.5 190.8 L216.5 190.8 L217.5 190.9 L218.5 190.9 L219.5 191 L220.5 191 L221.5 191 L222.5 191.1 L223.5 191.1 L224.5 191.2 L225.5 191.2 L226.5 191.2 L227.5 191.3 L228.5 191.3 L229.5 191.3 L230.5 191.3 L231.5 191.4 L232.5 191.4 L233.5 191.4 L234.5 191.4 L235.5 191.4 L236.5 191.4 L237.5 191.4 L238.5 191.5 L239.5 191.5 L240.5 191.5 L241.5 191.5 L242.5 191.5 L243.5 191.5 L244.5 191.4 L245.5 191.4 L246.5 191.4 L247.5 191.4 L248.5 191.4 L249.5 191.4 L250.5 191.4 L251.5 191.3 L252.5 191.3 L253.5 191.3 L254.5 191.2 L255.5 191.2 L256.5 191.2 L257.5 191.1 L258.5 191.1 L259.5 191 L260.5 191 L261.5 190.9 L262.5 190.9 L263.5 190.8 L264.5 190.7 L265.5 190.7 L266.5 190.6 L267.5 190.5 L268.5 190.5 L269.5 190.4 L270.5 190.3 L271.5 190.2 L272.5 190.1 L273.5 190 L274.5 189.9 L275.5 189.8 L276.5 189.7 L277.5 189.6 L278.5 189.5 L279.5 189.3 L280.5 189.2 L281.5 189.1 L282.5 189 L283.5 188.8 L284.5 188.7 L285.5 188.5 L286.5 188.4 L287.5 188.2 L288.5 188.1 L289.5 187.9 L290.5 187.8 L291.5 187.6 L292.5 187.4 L293.5 187.2 L294.5 187.1 L295.5 186.9 L296.5 186.7 L297.5 186.5 L298.5 186.3 L299.5 186.1 L300.5 185.8 L301.5 185.6 L302.5 185.4 L303.5 185.2 L304.5 184.9 L305.5 184.7 L306.5 184.5 L307.5 184.2 L308.5 184 L309.5 183.7 L310.5 183.4 L311.5 183.2 L312.5 182.9 L313.5 182.6 L314.5 182.3 L315.5 182 L316.5 181.7 L317.5 181.4 L318.5 181.1 L319.5 180.8 L320.5 180.5 L321.5 180.2 L322.5 179.9 L323.5 179.5 L324.5 179.2 L325.5 178.8 L326.5 178.5 L327.5 178.1 L328.5 177.8 L329.5 177.4 L330.5 177 L331.5 176.7 L332.5 176.3 L333.5 175.9 L334.5 175.5 L335.5 175.1 L336.5 174.7 L337.5 174.3 L338.5 173.9 L339.5 173.5 L340.5 173.1 L341.5 172.6 L342.5 172.2 L343.5 171.8 L344.5 171.3 L345.5 170.9 L346.5 170.5 L347.5 170 L348.5 169.6 L349.5 169.1 L350.5 168.6 L351.5 168.2 L352.5 167.7 L353.5 167.2 L354.5 166.8 L355.5 166.3 L356.5 165.8 L357.5 165.3 L358.5 164.8 L359.5 164.3 L360.5 163.8 L361.5 163.3 L362.5 162.8 L363.5 162.3 L364.5 161.8 L365.5 161.3 L366.5 160.8 L367.5 160.3 L368.5 159.7 L369.5 159.2 L370.5 158.7 L371.5 158.2 L372.5 157.6 L373.5 157.1 L374.5 156.5 L375.5 156 L376.5 155.5 L377.5 154.9 L378.5 154.4 L379.5 153.8 L380.5 153.2 L381.5 152.7 L382.5 152.1 L383.5 151.6 L384.5 151 L385.5 150.4 L386.5 149.9 L387.5 149.3 L388.5 148.7 L389.5 148.1 L390.5 147.6 L391.5 147 L392.5 146.4 L393.5 145.8 L394.5 145.2 L395.5 144.6 L396.5 144.1 L397.5 143.5 L398.5 142.9 L399.5 142.3 L400.5 141.7 L401.5 141.1 L402.5 140.5 L403.5 139.9 L404.5 139.3 L405.5 138.7 L406.5 138.1 L407.5 137.5 L408.5 136.9 L409.5 136.3 L410.5 135.7 L411.5 135.1 L412.5 134.5 L413.5 133.9 L414.5 133.3 L415.5 132.6 L416.5 132 L417.5 131.4 L418.5 130.8 L419.5 130.2 L420.5 129.6 L421.5 129 L422.5 128.4 L423.5 127.7 L424.5 127.1 L425.5 126.5 L426.5 125.9 L427.5 125.3 L428.5 124.7 L429.5 124.1 L430.5 123.5 L431.5 122.8 L432.5 122.2 L433.5 121.6 L434.5 121 L435.5 120.4 L436.5 119.8 L437.5 119.2 L438.5 118.6 L439.5 117.9 L440.5 117.3 L441.5 116.7 L442.5 116.1 L443.5 115.5 L444.5 114.9 L445.5 114.3 L446.5 113.7 L447.5 113.1 L448.5 112.5 L449.5 111.9 L450.5 111.3 L451.5 110.7 L452.5 110.1 L453.5 109.5 L454.5 108.9 L455.5 108.3 L456.5 107.7 L457.5 107.1 L458.5 106.5 L459.5 105.9 L460.5 105.3 L461.5 104.8 L462.5 104.2 L463.5 103.6 L464.5 103 L465.5 102.4 L466.5 101.9 L467.5 101.3 L468.5 100.7 L469.5 100.1 L470.5 99.6 L471.5 99 L472.5 98.4 L473.5 97.9 L474.5 97.3 L475.5 96.8 L476.5 96.2 L477.5 95.7 L478.5 95.1 L479.5 94.6 L480.5 94 L481.5 93.5 L482.5 92.9 L483.5 92.4 L484.5 91.9 L485.5 91.3 L486.5 90.8 L487.5 90.3 L488.5 89.8 L489.5 89.2 L490.5 88.7 L491.5 88.2 L492.5 87.7 L493.5 87.2 L494.5 86.7 L495.5 86.2 L496.5 85.7 L497.5 85.2 L498.5 84.7 L499.5 84.2 L500.5 83.8 L501.5 83.3 L502.5 82.8" fill="none" stroke="#1e1e1e" stroke-width="2.6" stroke-linejoin="round" stroke-linecap="round"/><path d="M108.3 332.8v9.5M454.3 332.8v9.5M456 332.8v9.5M459 332.8v9.5M461.5 332.8v9.5M463.6 332.8v9.5M467.6 332.8v9.5M469 332.8v9.5M471.6 332.8v9.5M483.6 332.8v9.5M502.8 332.8v9.5M124.3 332.8v9.5M210.2 332.8v9.5M168.5 332.8v9.5M203.3 332.8v9.5M234.3 332.8v9.5M180.7 332.8v9.5M176.1 332.8v9.5M123.8 332.8v9.5M147.7 332.8v9.5M176 332.8v9.5M197.9 332.8v9.5M213.1 332.8v9.5M161.5 332.8v9.5M123 332.8v9.5M150.2 332.8v9.5M226 332.8v9.5M141 332.8v9.5M170.2 332.8v9.5M228.6 332.8v9.5M118 332.8v9.5M188.3 332.8v9.5M230.9 332.8v9.5M143.1 332.8v9.5M181.9 332.8v9.5M225.9 332.8v9.5M131.2 332.8v9.5M178.9 332.8v9.5M206.6 332.8v9.5M196.6 332.8v9.5M172.1 332.8v9.5M140 332.8v9.5M174.9 332.8v9.5M160.4 332.8v9.5M173.2 332.8v9.5M159.6 332.8v9.5M217.2 332.8v9.5M208.8 332.8v9.5M153.3 332.8v9.5M184.9 332.8v9.5M148.7 332.8v9.5M170.2 332.8v9.5M158.1 332.8v9.5M195.2 332.8v9.5M160.2 332.8v9.5M171 332.8v9.5M202.8 332.8v9.5M165.4 332.8v9.5M225.6 332.8v9.5M137 332.8v9.5M205.4 332.8v9.5M166.5 332.8v9.5M167 332.8v9.5M192.4 332.8v9.5M178.8 332.8v9.5M165.6 332.8v9.5M115.2 332.8v9.5M126.3 332.8v9.5M201.5 332.8v9.5M179 332.8v9.5M199.9 332.8v9.5M231.6 332.8v9.5M198.3 332.8v9.5M121.5 332.8v9.5M152.7 332.8v9.5M187.3 332.8v9.5M143.7 332.8v9.5M232.7 332.8v9.5M230.3 332.8v9.5M218.5 332.8v9.5M172.6 332.8v9.5M217.7 332.8v9.5M131 332.8v9.5M152.7 332.8v9.5M171.5 332.8v9.5M205.5 332.8v9.5M174.3 332.8v9.5M131.7 332.8v9.5M156.9 332.8v9.5M154.6 332.8v9.5M151.7 332.8v9.5M135.2 332.8v9.5M165.6 332.8v9.5M169.7 332.8v9.5M209.5 332.8v9.5M212.2 332.8v9.5M178.7 332.8v9.5M171.2 332.8v9.5M209.9 332.8v9.5M223.2 332.8v9.5M197.3 332.8v9.5M212.7 332.8v9.5M229.6 332.8v9.5M120 332.8v9.5M221.8 332.8v9.5M148.7 332.8v9.5M173 332.8v9.5M212.2 332.8v9.5M202.5 332.8v9.5M133 332.8v9.5M195.4 332.8v9.5M123.4 332.8v9.5M158.6 332.8v9.5M214.2 332.8v9.5M167.2 332.8v9.5M188.2 332.8v9.5M203.8 332.8v9.5M215.2 332.8v9.5M207.8 332.8v9.5M115.9 332.8v9.5M166.3 332.8v9.5M171.5 332.8v9.5M121.8 332.8v9.5M181.1 332.8v9.5M189.1 332.8v9.5M216.1 332.8v9.5M229.9 332.8v9.5M130.6 332.8v9.5M143.1 332.8v9.5M195.4 332.8v9.5M131.2 332.8v9.5M142.3 332.8v9.5M185.1 332.8v9.5M135.7 332.8v9.5M210.4 332.8v9.5M219.6 332.8v9.5M119.1 332.8v9.5M180 332.8v9.5M212.2 332.8v9.5M234 332.8v9.5M148.5 332.8v9.5M135.6 332.8v9.5M222 332.8v9.5M225.9 332.8v9.5M139.1 332.8v9.5M168.9 332.8v9.5M202.7 332.8v9.5M218.1 332.8v9.5M135.5 332.8v9.5M196.1 332.8v9.5M213.6 332.8v9.5M182.1 332.8v9.5M135.1 332.8v9.5M119.3 332.8v9.5M149.3 332.8v9.5M213.6 332.8v9.5M120.5 332.8v9.5M116 332.8v9.5M159.1 332.8v9.5M122.8 332.8v9.5M133.2 332.8v9.5M240.2 332.8v9.5M308.9 332.8v9.5M332.4 332.8v9.5M295.5 332.8v9.5M255.4 332.8v9.5M282.4 332.8v9.5M317.9 332.8v9.5M365.9 332.8v9.5M373 332.8v9.5M270.1 332.8v9.5M238.4 332.8v9.5M350.8 332.8v9.5M363.9 332.8v9.5M299.8 332.8v9.5M342.7 332.8v9.5M355.7 332.8v9.5M320.5 332.8v9.5M356.5 332.8v9.5M240.3 332.8v9.5M274.2 332.8v9.5M275 332.8v9.5M253.5 332.8v9.5M361.8 332.8v9.5M241.2 332.8v9.5M329.1 332.8v9.5M246.8 332.8v9.5M286.4 332.8v9.5M294.3 332.8v9.5M261.9 332.8v9.5M308.4 332.8v9.5M310.3 332.8v9.5M280.4 332.8v9.5M338 332.8v9.5M258.9 332.8v9.5M263.4 332.8v9.5M285.6 332.8v9.5M288.8 332.8v9.5M265.3 332.8v9.5M362.9 332.8v9.5M350.4 332.8v9.5M251.6 332.8v9.5M287.6 332.8v9.5M268.9 332.8v9.5M298.8 332.8v9.5M274.9 332.8v9.5M305.7 332.8v9.5M363.4 332.8v9.5M289.4 332.8v9.5M326.1 332.8v9.5M318.6 332.8v9.5M340 332.8v9.5M245.4 332.8v9.5M339 332.8v9.5M366.6 332.8v9.5M319.7 332.8v9.5M276.4 332.8v9.5M329.1 332.8v9.5M334.6 332.8v9.5M326.9 332.8v9.5M257.1 332.8v9.5M370.4 332.8v9.5M367.9 332.8v9.5M295.2 332.8v9.5M318.3 332.8v9.5M242.4 332.8v9.5M372.4 332.8v9.5M349.2 332.8v9.5M324.2 332.8v9.5M341.3 332.8v9.5M262.8 332.8v9.5M279.1 332.8v9.5M270.8 332.8v9.5M318.7 332.8v9.5M249.6 332.8v9.5M359.7 332.8v9.5M300.3 332.8v9.5M297.9 332.8v9.5M251.3 332.8v9.5M330.8 332.8v9.5M348.9 332.8v9.5M323.2 332.8v9.5M270.2 332.8v9.5M344.6 332.8v9.5M257 332.8v9.5M350.3 332.8v9.5M316.6 332.8v9.5M276.6 332.8v9.5M307.3 332.8v9.5M323.2 332.8v9.5M272.4 332.8v9.5M353 332.8v9.5M294.7 332.8v9.5M359.3 332.8v9.5M351.5 332.8v9.5M250.6 332.8v9.5M325.5 332.8v9.5M279.5 332.8v9.5M340.3 332.8v9.5M311.3 332.8v9.5M299.7 332.8v9.5M359.7 332.8v9.5M244.8 332.8v9.5M313.4 332.8v9.5M281.9 332.8v9.5M241.8 332.8v9.5M340.2 332.8v9.5M314 332.8v9.5M359.5 332.8v9.5M319 332.8v9.5M283.2 332.8v9.5M372 332.8v9.5M252.9 332.8v9.5M244.2 332.8v9.5M337.4 332.8v9.5M287.8 332.8v9.5M286.5 332.8v9.5M357.1 332.8v9.5M281.8 332.8v9.5M358.8 332.8v9.5M325.2 332.8v9.5M282.1 332.8v9.5M245.2 332.8v9.5M270.6 332.8v9.5M369.7 332.8v9.5M292.5 332.8v9.5M258.9 332.8v9.5M277.8 332.8v9.5M360.2 332.8v9.5M259.6 332.8v9.5M343.6 332.8v9.5M255.5 332.8v9.5M368.7 332.8v9.5M309.6 332.8v9.5M242.9 332.8v9.5M364.5 332.8v9.5M286.1 332.8v9.5M337.2 332.8v9.5M308.7 332.8v9.5M249.7 332.8v9.5M251.5 332.8v9.5M257.4 332.8v9.5M259.1 332.8v9.5M244.2 332.8v9.5M243.4 332.8v9.5M366.9 332.8v9.5M249.5 332.8v9.5M306.6 332.8v9.5M253.3 332.8v9.5M266.4 332.8v9.5M341.5 332.8v9.5M365.5 332.8v9.5M301.4 332.8v9.5M237.8 332.8v9.5M373.9 332.8v9.5M243.5 332.8v9.5M290.4 332.8v9.5M310.9 332.8v9.5M359.2 332.8v9.5M349.8 332.8v9.5M320.5 332.8v9.5M291.6 332.8v9.5M351.3 332.8v9.5M356.1 332.8v9.5M356.5 332.8v9.5M335.3 332.8v9.5M250.4 332.8v9.5M277.9 332.8v9.5M303.6 332.8v9.5M306.2 332.8v9.5M351.1 332.8v9.5M269.6 332.8v9.5M328 332.8v9.5M288.3 332.8v9.5M343.2 332.8v9.5M263.8 332.8v9.5M302.3 332.8v9.5M251.2 332.8v9.5M266 332.8v9.5M365.1 332.8v9.5M280.3 332.8v9.5M359.3 332.8v9.5M308.8 332.8v9.5M242.3 332.8v9.5M345.6 332.8v9.5M244.1 332.8v9.5M350.3 332.8v9.5M238.2 332.8v9.5M329.4 332.8v9.5M259.7 332.8v9.5M284 332.8v9.5M367.5 332.8v9.5M303.6 332.8v9.5M327.1 332.8v9.5M338.5 332.8v9.5M252.1 332.8v9.5M351.9 332.8v9.5M362.2 332.8v9.5M258.3 332.8v9.5M311.8 332.8v9.5M275.8 332.8v9.5M338.5 332.8v9.5M240.9 332.8v9.5M307.2 332.8v9.5M345.6 332.8v9.5M337.7 332.8v9.5M251.8 332.8v9.5M351.1 332.8v9.5M269.6 332.8v9.5M347.7 332.8v9.5M305.1 332.8v9.5M259 332.8v9.5M337.6 332.8v9.5M347.7 332.8v9.5M332.7 332.8v9.5M369.2 332.8v9.5M272.1 332.8v9.5M269.3 332.8v9.5M257.2 332.8v9.5M310.9 332.8v9.5M291.7 332.8v9.5M285.9 332.8v9.5M300.1 332.8v9.5M274.6 332.8v9.5M237.6 332.8v9.5M301.6 332.8v9.5M274.8 332.8v9.5M298.6 332.8v9.5M364.3 332.8v9.5M261.5 332.8v9.5M324.3 332.8v9.5M325.3 332.8v9.5M275.5 332.8v9.5M301.5 332.8v9.5M369.8 332.8v9.5M283.9 332.8v9.5M334.6 332.8v9.5M352.1 332.8v9.5M286.4 332.8v9.5M372.6 332.8v9.5M322.7 332.8v9.5M305.6 332.8v9.5M334.9 332.8v9.5M295.1 332.8v9.5M334.6 332.8v9.5M274.6 332.8v9.5M364 332.8v9.5M311.2 332.8v9.5M270.1 332.8v9.5M296.9 332.8v9.5M359.6 332.8v9.5M347.6 332.8v9.5M303.4 332.8v9.5M285.2 332.8v9.5M288.5 332.8v9.5M371.4 332.8v9.5M252.4 332.8v9.5M358.8 332.8v9.5M354.5 332.8v9.5M267.7 332.8v9.5M284.9 332.8v9.5M315 332.8v9.5M346.9 332.8v9.5M367.2 332.8v9.5M372.9 332.8v9.5M275.5 332.8v9.5M263.4 332.8v9.5M303.8 332.8v9.5M313.4 332.8v9.5M327 332.8v9.5M251.7 332.8v9.5M325.6 332.8v9.5M363.2 332.8v9.5M362.4 332.8v9.5M366.3 332.8v9.5M363.4 332.8v9.5M368.6 332.8v9.5M243.7 332.8v9.5M362.5 332.8v9.5M274.2 332.8v9.5M280.9 332.8v9.5M299.8 332.8v9.5M367.9 332.8v9.5M319.9 332.8v9.5M285.3 332.8v9.5M288.3 332.8v9.5M361 332.8v9.5M349.7 332.8v9.5M255.8 332.8v9.5M271.1 332.8v9.5M288 332.8v9.5M266.7 332.8v9.5M314.2 332.8v9.5M267.6 332.8v9.5M315.8 332.8v9.5M365.2 332.8v9.5M353.3 332.8v9.5M250.6 332.8v9.5M265.3 332.8v9.5M293.5 332.8v9.5M325.5 332.8v9.5M290 332.8v9.5M271.5 332.8v9.5M284.2 332.8v9.5M264.9 332.8v9.5M355.1 332.8v9.5M332.5 332.8v9.5M293.3 332.8v9.5M333 332.8v9.5M308.2 332.8v9.5M309.1 332.8v9.5M287.3 332.8v9.5M303.9 332.8v9.5M372 332.8v9.5M344.5 332.8v9.5M350.4 332.8v9.5M254 332.8v9.5M306.1 332.8v9.5M287.3 332.8v9.5M249.2 332.8v9.5M291.2 332.8v9.5M377.3 332.8v9.5M384.5 332.8v9.5M409.9 332.8v9.5M404.9 332.8v9.5M405.4 332.8v9.5M377.6 332.8v9.5M381.4 332.8v9.5M375 332.8v9.5M378.4 332.8v9.5M378.6 332.8v9.5M417.2 332.8v9.5M414.2 332.8v9.5M383.2 332.8v9.5M385.4 332.8v9.5M417.2 332.8v9.5M399.6 332.8v9.5M390.6 332.8v9.5M395 332.8v9.5M386.2 332.8v9.5M400.3 332.8v9.5M406.6 332.8v9.5M397.2 332.8v9.5M410.9 332.8v9.5M379.1 332.8v9.5M401.2 332.8v9.5M418.5 332.8v9.5M380.7 332.8v9.5M396.3 332.8v9.5M402.4 332.8v9.5M389.2 332.8v9.5M417.4 332.8v9.5M395.8 332.8v9.5M395.5 332.8v9.5M414.6 332.8v9.5M374.7 332.8v9.5M413.1 332.8v9.5M379.8 332.8v9.5M391.1 332.8v9.5M396 332.8v9.5M395.4 332.8v9.5M375.8 332.8v9.5M388.3 332.8v9.5M390.1 332.8v9.5M417 332.8v9.5M415.3 332.8v9.5M400.3 332.8v9.5M416 332.8v9.5M412.9 332.8v9.5M390.9 332.8v9.5M379.3 332.8v9.5M434.8 332.8v9.5M427.4 332.8v9.5M419.3 332.8v9.5M444.5 332.8v9.5M444.2 332.8v9.5M433 332.8v9.5M435.1 332.8v9.5M436.4 332.8v9.5M443.1 332.8v9.5M431.2 332.8v9.5M434.2 332.8v9.5M424.9 332.8v9.5M425.3 332.8v9.5M432.6 332.8v9.5M425 332.8v9.5" stroke="#111" stroke-width="1.0" fill="none"/><rect x="93" y="40.3" width="425.6" height="302" fill="none" stroke="#2e2e2e" stroke-width="2"/><text class="t" x="65.3" y="307" transform="rotate(-90 65.3 307)" text-anchor="middle" font-size="18.7" fill="#2a2a2a">-2</text><text class="t" x="65.3" y="242.7" transform="rotate(-90 65.3 242.7)" text-anchor="middle" font-size="18.7" fill="#2a2a2a">-1</text><text class="t" x="65.3" y="178.4" transform="rotate(-90 65.3 178.4)" text-anchor="middle" font-size="18.7" fill="#2a2a2a">0</text><text class="t" x="65.3" y="114.1" transform="rotate(-90 65.3 114.1)" text-anchor="middle" font-size="18.7" fill="#2a2a2a">1</text><text class="t" x="65.3" y="49.8" transform="rotate(-90 65.3 49.8)" text-anchor="middle" font-size="18.7" fill="#2a2a2a">2</text><text class="t" x="116.4" y="383" text-anchor="middle" font-size="18.7" fill="#2a2a2a">12</text><text class="t" x="210.5" y="383" text-anchor="middle" font-size="18.7" fill="#2a2a2a">14</text><text class="t" x="304.6" y="383" text-anchor="middle" font-size="18.7" fill="#2a2a2a">16</text><text class="t" x="398.8" y="383" text-anchor="middle" font-size="18.7" fill="#2a2a2a">18</text><text class="t" x="492.9" y="383" text-anchor="middle" font-size="18.7" fill="#2a2a2a">20</text><path d="M81 307H93M81 242.7H93M81 178.4H93M81 114.1H93M81 49.8H93M116.4 342.3V354.3M210.5 342.3V354.3M304.6 342.3V354.3M398.8 342.3V354.3M492.9 342.3V354.3" stroke="#2e2e2e" stroke-width="2" fill="none"/><text class="t" x="305.8" y="427.9" text-anchor="middle" font-size="18.7" fill="#2a2a2a">bottomT</text><text class="t" x="21" y="191.3" transform="rotate(-90 21 191.3)" text-anchor="middle" font-size="18.7" fill="#2a2a2a">s(bottomT,3.41)</text></g><g><path d="M672.9 99.9 L673.9 100.2 L674.9 100.5 L675.9 100.7 L676.9 101 L677.9 101.3 L678.9 101.5 L679.9 101.8 L680.9 102 L681.9 102.3 L682.9 102.5 L683.9 102.8 L684.9 103 L685.9 103.3 L686.9 103.5 L687.9 103.8 L688.9 104 L689.9 104.2 L690.9 104.5 L691.9 104.7 L692.9 105 L693.9 105.2 L694.9 105.4 L695.9 105.7 L696.9 105.9 L697.9 106.1 L698.9 106.4 L699.9 106.6 L700.9 106.8 L701.9 107 L702.9 107.3 L703.9 107.5 L704.9 107.7 L705.9 107.9 L706.9 108.2 L707.9 108.4 L708.9 108.6 L709.9 108.8 L710.9 109 L711.9 109.3 L712.9 109.5 L713.9 109.7 L714.9 109.9 L715.9 110.1 L716.9 110.4 L717.9 110.6 L718.9 110.8 L719.9 111 L720.9 111.2 L721.9 111.5 L722.9 111.7 L723.9 111.9 L724.9 112.1 L725.9 112.3 L726.9 112.6 L727.9 112.8 L728.9 113 L729.9 113.2 L730.9 113.4 L731.9 113.7 L732.9 113.9 L733.9 114.1 L734.9 114.3 L735.9 114.6 L736.9 114.8 L737.9 115 L738.9 115.2 L739.9 115.5 L740.9 115.7 L741.9 115.9 L742.9 116.1 L743.9 116.4 L744.9 116.6 L745.9 116.8 L746.9 117.1 L747.9 117.3 L748.9 117.5 L749.9 117.8 L750.9 118 L751.9 118.2 L752.9 118.5 L753.9 118.7 L754.9 119 L755.9 119.2 L756.9 119.5 L757.9 119.7 L758.9 119.9 L759.9 120.2 L760.9 120.4 L761.9 120.7 L762.9 121 L763.9 121.2 L764.9 121.5 L765.9 121.7 L766.9 122 L767.9 122.3 L768.9 122.5 L769.9 122.8 L770.9 123.1 L771.9 123.3 L772.9 123.6 L773.9 123.9 L774.9 124.2 L775.9 124.5 L776.9 124.7 L777.9 125 L778.9 125.3 L779.9 125.6 L780.9 125.9 L781.9 126.2 L782.9 126.5 L783.9 126.8 L784.9 127.1 L785.9 127.4 L786.9 127.7 L787.9 128 L788.9 128.3 L789.9 128.6 L790.9 129 L791.9 129.3 L792.9 129.6 L793.9 129.9 L794.9 130.2 L795.9 130.6 L796.9 130.9 L797.9 131.2 L798.9 131.6 L799.9 131.9 L800.9 132.2 L801.9 132.6 L802.9 132.9 L803.9 133.2 L804.9 133.6 L805.9 133.9 L806.9 134.3 L807.9 134.6 L808.9 135 L809.9 135.3 L810.9 135.7 L811.9 136 L812.9 136.4 L813.9 136.7 L814.9 137.1 L815.9 137.4 L816.9 137.8 L817.9 138.1 L818.9 138.5 L819.9 138.8 L820.9 139.2 L821.9 139.6 L822.9 139.9 L823.9 140.3 L824.9 140.7 L825.9 141 L826.9 141.4 L827.9 141.8 L828.9 142.1 L829.9 142.5 L830.9 142.8 L831.9 143.2 L832.9 143.6 L833.9 144 L834.9 144.3 L835.9 144.7 L836.9 145.1 L837.9 145.4 L838.9 145.8 L839.9 146.2 L840.9 146.5 L841.9 146.9 L842.9 147.3 L843.9 147.6 L844.9 148 L845.9 148.4 L846.9 148.7 L847.9 149.1 L848.9 149.5 L849.9 149.9 L850.9 150.2 L851.9 150.6 L852.9 151 L853.9 151.3 L854.9 151.7 L855.9 152.1 L856.9 152.4 L857.9 152.8 L858.9 153.1 L859.9 153.5 L860.9 153.9 L861.9 154.2 L862.9 154.6 L863.9 155 L864.9 155.3 L865.9 155.7 L866.9 156 L867.9 156.4 L868.9 156.7 L869.9 157.1 L870.9 157.4 L871.9 157.8 L872.9 158.1 L873.9 158.5 L874.9 158.8 L875.9 159.2 L876.9 159.5 L877.9 159.9 L878.9 160.2 L879.9 160.6 L880.9 160.9 L881.9 161.2 L882.9 161.6 L883.9 161.9 L884.9 162.2 L885.9 162.6 L886.9 162.9 L887.9 163.2 L888.9 163.6 L889.9 163.9 L890.9 164.2 L891.9 164.5 L892.9 164.8 L893.9 165.2 L894.9 165.5 L895.9 165.8 L896.9 166.1 L897.9 166.4 L898.9 166.7 L899.9 167 L900.9 167.3 L901.9 167.6 L902.9 167.9 L903.9 168.2 L904.9 168.5 L905.9 168.8 L906.9 169.1 L907.9 169.3 L908.9 169.6 L909.9 169.9 L910.9 170.2 L911.9 170.4 L912.9 170.7 L913.9 171 L914.9 171.2 L915.9 171.5 L916.9 171.8 L917.9 172 L918.9 172.3 L919.9 172.5 L920.9 172.8 L921.9 173 L922.9 173.2 L923.9 173.5 L924.9 173.7 L925.9 173.9 L926.9 174.2 L927.9 174.4 L928.9 174.6 L929.9 174.8 L930.9 175 L931.9 175.2 L932.9 175.4 L933.9 175.6 L934.9 175.8 L935.9 176 L936.9 176.2 L937.9 176.4 L938.9 176.6 L939.9 176.8 L940.9 176.9 L941.9 177.1 L942.9 177.3 L943.9 177.4 L944.9 177.6 L945.9 177.8 L946.9 177.9 L947.9 178.1 L948.9 178.2 L949.9 178.3 L950.9 178.5 L951.9 178.6 L952.9 178.7 L953.9 178.8 L954.9 178.9 L955.9 179.1 L956.9 179.2 L957.9 179.3 L958.9 179.4 L959.9 179.5 L960.9 179.5 L961.9 179.6 L962.9 179.7 L963.9 179.8 L964.9 179.8 L965.9 179.9 L966.9 180 L967.9 180 L968.9 180.1 L969.9 180.1 L970.9 180.2 L971.9 180.2 L972.9 180.2 L973.9 180.2 L974.9 180.3 L975.9 180.3 L976.9 180.3 L977.9 180.3 L978.9 180.3 L979.9 180.3 L980.9 180.2 L981.9 180.2 L982.9 180.2 L983.9 180.2 L984.9 180.1 L985.9 180.1 L986.9 180 L987.9 180 L988.9 179.9 L989.9 179.8 L990.9 179.8 L991.9 179.7 L992.9 179.6 L993.9 179.5 L994.9 179.4 L995.9 179.3 L996.9 179.2 L997.9 179.1 L998.9 179 L999.9 178.8 L1000.9 178.7 L1001.9 178.6 L1002.9 178.4 L1003.9 178.3 L1004.9 178.1 L1005.9 177.9 L1006.9 177.8 L1007.9 177.6 L1008.9 177.4 L1009.9 177.2 L1010.9 177 L1011.9 176.8 L1012.9 176.6 L1013.9 176.4 L1014.9 176.1 L1015.9 175.9 L1016.9 175.7 L1017.9 175.4 L1018.9 175.2 L1019.9 174.9 L1020.9 174.6 L1021.9 174.4 L1022.9 174.1 L1023.9 173.8 L1024.9 173.5 L1025.9 173.2 L1026.9 172.9 L1027.9 172.6 L1028.9 172.2 L1029.9 171.9 L1030.9 171.5 L1031.9 171.2 L1032.9 170.8 L1033.9 170.5 L1034.9 170.1 L1035.9 169.7 L1036.9 169.3 L1037.9 168.9 L1038.9 168.5 L1039.9 168.1 L1040.9 167.7 L1041.9 167.3 L1042.9 166.8 L1043.9 166.4 L1044.9 165.9 L1045.9 165.5 L1046.9 165 L1047.9 164.5 L1048.9 164.1 L1049.9 163.6 L1050.9 163.1 L1051.9 162.5 L1052.9 162 L1053.9 161.5 L1054.9 161 L1055.9 160.4 L1056.9 159.9 L1057.9 159.3 L1058.9 158.7 L1059.9 158.2 L1060.9 157.6 L1061.9 157 L1062.9 156.4 L1063.9 155.8 L1064.9 155.1 L1065.9 154.5 L1066.9 153.9 L1067.3 153.6 L1067.3 177.7 L1066.9 177.7 L1065.9 177.6 L1064.9 177.6 L1063.9 177.6 L1062.9 177.6 L1061.9 177.7 L1060.9 177.7 L1059.9 177.8 L1058.9 177.8 L1057.9 177.9 L1056.9 178 L1055.9 178.2 L1054.9 178.3 L1053.9 178.4 L1052.9 178.6 L1051.9 178.7 L1050.9 178.9 L1049.9 179.1 L1048.9 179.3 L1047.9 179.5 L1046.9 179.8 L1045.9 180 L1044.9 180.3 L1043.9 180.5 L1042.9 180.8 L1041.9 181.1 L1040.9 181.4 L1039.9 181.7 L1038.9 182 L1037.9 182.3 L1036.9 182.6 L1035.9 183 L1034.9 183.3 L1033.9 183.7 L1032.9 184 L1031.9 184.4 L1030.9 184.8 L1029.9 185.2 L1028.9 185.5 L1027.9 185.9 L1026.9 186.3 L1025.9 186.7 L1024.9 187.1 L1023.9 187.6 L1022.9 188 L1021.9 188.4 L1020.9 188.8 L1019.9 189.3 L1018.9 189.7 L1017.9 190.2 L1016.9 190.6 L1015.9 191 L1014.9 191.5 L1013.9 192 L1012.9 192.4 L1011.9 192.9 L1010.9 193.3 L1009.9 193.8 L1008.9 194.2 L1007.9 194.7 L1006.9 195.2 L1005.9 195.6 L1004.9 196.1 L1003.9 196.6 L1002.9 197 L1001.9 197.5 L1000.9 197.9 L999.9 198.4 L998.9 198.9 L997.9 199.3 L996.9 199.8 L995.9 200.2 L994.9 200.7 L993.9 201.1 L992.9 201.5 L991.9 202 L990.9 202.4 L989.9 202.8 L988.9 203.3 L987.9 203.7 L986.9 204.1 L985.9 204.5 L984.9 204.9 L983.9 205.3 L982.9 205.7 L981.9 206.1 L980.9 206.5 L979.9 206.9 L978.9 207.3 L977.9 207.7 L976.9 208.1 L975.9 208.4 L974.9 208.8 L973.9 209.2 L972.9 209.5 L971.9 209.9 L970.9 210.2 L969.9 210.6 L968.9 210.9 L967.9 211.2 L966.9 211.6 L965.9 211.9 L964.9 212.2 L963.9 212.5 L962.9 212.9 L961.9 213.2 L960.9 213.5 L959.9 213.8 L958.9 214.1 L957.9 214.4 L956.9 214.6 L955.9 214.9 L954.9 215.2 L953.9 215.5 L952.9 215.7 L951.9 216 L950.9 216.2 L949.9 216.5 L948.9 216.7 L947.9 217 L946.9 217.2 L945.9 217.5 L944.9 217.7 L943.9 217.9 L942.9 218.1 L941.9 218.3 L940.9 218.5 L939.9 218.7 L938.9 218.9 L937.9 219.1 L936.9 219.3 L935.9 219.5 L934.9 219.6 L933.9 219.8 L932.9 220 L931.9 220.1 L930.9 220.3 L929.9 220.4 L928.9 220.6 L927.9 220.7 L926.9 220.8 L925.9 221 L924.9 221.1 L923.9 221.2 L922.9 221.3 L921.9 221.4 L920.9 221.5 L919.9 221.6 L918.9 221.6 L917.9 221.7 L916.9 221.8 L915.9 221.9 L914.9 221.9 L913.9 222 L912.9 222 L911.9 222.1 L910.9 222.1 L909.9 222.1 L908.9 222.2 L907.9 222.2 L906.9 222.2 L905.9 222.2 L904.9 222.2 L903.9 222.2 L902.9 222.2 L901.9 222.2 L900.9 222.2 L899.9 222.2 L898.9 222.2 L897.9 222.2 L896.9 222.1 L895.9 222.1 L894.9 222.1 L893.9 222 L892.9 222 L891.9 221.9 L890.9 221.9 L889.9 221.8 L888.9 221.8 L887.9 221.7 L886.9 221.7 L885.9 221.6 L884.9 221.5 L883.9 221.4 L882.9 221.4 L881.9 221.3 L880.9 221.2 L879.9 221.1 L878.9 221 L877.9 220.9 L876.9 220.8 L875.9 220.8 L874.9 220.7 L873.9 220.6 L872.9 220.5 L871.9 220.3 L870.9 220.2 L869.9 220.1 L868.9 220 L867.9 219.9 L866.9 219.8 L865.9 219.7 L864.9 219.6 L863.9 219.4 L862.9 219.3 L861.9 219.2 L860.9 219.1 L859.9 219 L858.9 218.8 L857.9 218.7 L856.9 218.6 L855.9 218.5 L854.9 218.3 L853.9 218.2 L852.9 218.1 L851.9 218 L850.9 217.8 L849.9 217.7 L848.9 217.6 L847.9 217.4 L846.9 217.3 L845.9 217.2 L844.9 217 L843.9 216.9 L842.9 216.8 L841.9 216.7 L840.9 216.5 L839.9 216.4 L838.9 216.3 L837.9 216.1 L836.9 216 L835.9 215.9 L834.9 215.8 L833.9 215.7 L832.9 215.5 L831.9 215.4 L830.9 215.3 L829.9 215.2 L828.9 215.1 L827.9 214.9 L826.9 214.8 L825.9 214.7 L824.9 214.6 L823.9 214.5 L822.9 214.4 L821.9 214.3 L820.9 214.2 L819.9 214.1 L818.9 214 L817.9 213.9 L816.9 213.8 L815.9 213.7 L814.9 213.6 L813.9 213.5 L812.9 213.4 L811.9 213.4 L810.9 213.3 L809.9 213.2 L808.9 213.1 L807.9 213.1 L806.9 213 L805.9 213 L804.9 212.9 L803.9 212.8 L802.9 212.8 L801.9 212.7 L800.9 212.7 L799.9 212.6 L798.9 212.6 L797.9 212.6 L796.9 212.5 L795.9 212.5 L794.9 212.5 L793.9 212.4 L792.9 212.4 L791.9 212.4 L790.9 212.4 L789.9 212.4 L788.9 212.4 L787.9 212.4 L786.9 212.3 L785.9 212.3 L784.9 212.3 L783.9 212.4 L782.9 212.4 L781.9 212.4 L780.9 212.4 L779.9 212.4 L778.9 212.4 L777.9 212.4 L776.9 212.5 L775.9 212.5 L774.9 212.5 L773.9 212.6 L772.9 212.6 L771.9 212.6 L770.9 212.7 L769.9 212.7 L768.9 212.8 L767.9 212.8 L766.9 212.9 L765.9 212.9 L764.9 213 L763.9 213 L762.9 213.1 L761.9 213.2 L760.9 213.3 L759.9 213.3 L758.9 213.4 L757.9 213.5 L756.9 213.6 L755.9 213.7 L754.9 213.7 L753.9 213.8 L752.9 213.9 L751.9 214 L750.9 214.1 L749.9 214.2 L748.9 214.3 L747.9 214.4 L746.9 214.6 L745.9 214.7 L744.9 214.8 L743.9 214.9 L742.9 215 L741.9 215.2 L740.9 215.3 L739.9 215.4 L738.9 215.5 L737.9 215.7 L736.9 215.8 L735.9 216 L734.9 216.1 L733.9 216.3 L732.9 216.4 L731.9 216.6 L730.9 216.7 L729.9 216.9 L728.9 217 L727.9 217.2 L726.9 217.4 L725.9 217.5 L724.9 217.7 L723.9 217.9 L722.9 218.1 L721.9 218.3 L720.9 218.4 L719.9 218.6 L718.9 218.8 L717.9 219 L716.9 219.2 L715.9 219.4 L714.9 219.6 L713.9 219.8 L712.9 220 L711.9 220.2 L710.9 220.4 L709.9 220.6 L708.9 220.9 L707.9 221.1 L706.9 221.3 L705.9 221.5 L704.9 221.8 L703.9 222 L702.9 222.2 L701.9 222.5 L700.9 222.7 L699.9 222.9 L698.9 223.2 L697.9 223.4 L696.9 223.7 L695.9 223.9 L694.9 224.2 L693.9 224.4 L692.9 224.7 L691.9 225 L690.9 225.2 L689.9 225.5 L688.9 225.8 L687.9 226 L686.9 226.3 L685.9 226.6 L684.9 226.9 L683.9 227.2 L682.9 227.5 L681.9 227.7 L680.9 228 L679.9 228.3 L678.9 228.6 L677.9 228.9 L676.9 229.2 L675.9 229.5 L674.9 229.8 L673.9 230.2 L672.9 230.5Z" fill="#add8e6"/><path d="M671.8 183.8h2.1v2.1h-2.1zM713.2 178.7h2.1v2.1h-2.1zM725.2 119.6h2.1v2.1h-2.1zM769.4 190.4h2.1v2.1h-2.1zM770.2 137.7h2.1v2.1h-2.1zM798.5 177.5h2.1v2.1h-2.1zM804.4 74.3h2.1v2.1h-2.1zM824 216.8h2.1v2.1h-2.1zM825.7 181h2.1v2.1h-2.1zM831 171.4h2.1v2.1h-2.1zM837 207.5h2.1v2.1h-2.1zM844 199.7h2.1v2.1h-2.1zM846 231.5h2.1v2.1h-2.1zM883.8 192.1h2.1v2.1h-2.1zM892.4 194.8h2.1v2.1h-2.1zM894 218.2h2.1v2.1h-2.1zM895.4 218.7h2.1v2.1h-2.1zM910.2 200.4h2.1v2.1h-2.1zM935.5 231.6h2.1v2.1h-2.1zM947.6 161h2.1v2.1h-2.1zM964.7 229.5h2.1v2.1h-2.1zM956.8 240h2.1v2.1h-2.1zM959.5 151.9h2.1v2.1h-2.1zM955.1 223.3h2.1v2.1h-2.1zM954.4 204.6h2.1v2.1h-2.1zM959 224.8h2.1v2.1h-2.1zM976.3 155.3h2.1v2.1h-2.1zM978.6 171.2h2.1v2.1h-2.1zM961.8 143h2.1v2.1h-2.1zM985.1 196.4h2.1v2.1h-2.1zM979.6 200.7h2.1v2.1h-2.1zM964.1 211h2.1v2.1h-2.1zM979.5 269h2.1v2.1h-2.1zM988.4 153.2h2.1v2.1h-2.1zM968.2 166.7h2.1v2.1h-2.1zM987.4 189.5h2.1v2.1h-2.1zM987.8 257.9h2.1v2.1h-2.1zM984.5 146.2h2.1v2.1h-2.1zM974.6 217h2.1v2.1h-2.1zM973.4 193.6h2.1v2.1h-2.1zM971.1 213.9h2.1v2.1h-2.1zM983 111.2h2.1v2.1h-2.1zM965.2 226h2.1v2.1h-2.1zM975.9 182.5h2.1v2.1h-2.1zM999.9 185.4h2.1v2.1h-2.1zM1007.6 216.1h2.1v2.1h-2.1zM1007.1 176.7h2.1v2.1h-2.1zM998.6 139.8h2.1v2.1h-2.1zM1000.9 169h2.1v2.1h-2.1zM1003.1 228.9h2.1v2.1h-2.1zM999.8 190.9h2.1v2.1h-2.1zM994.6 149.2h2.1v2.1h-2.1zM992.1 307h2.1v2.1h-2.1zM1000.2 134.4h2.1v2.1h-2.1zM997.7 203.3h2.1v2.1h-2.1zM994.4 179.4h2.1v2.1h-2.1zM995.8 214.5h2.1v2.1h-2.1zM989.8 153.9h2.1v2.1h-2.1zM1000.1 192h2.1v2.1h-2.1zM990.5 170.7h2.1v2.1h-2.1zM991.1 185h2.1v2.1h-2.1zM1004.4 227.1h2.1v2.1h-2.1zM991.1 213.5h2.1v2.1h-2.1zM1002.9 180.2h2.1v2.1h-2.1zM998.7 136.6h2.1v2.1h-2.1zM993.8 178.7h2.1v2.1h-2.1zM1000.4 169.5h2.1v2.1h-2.1zM999.4 87.2h2.1v2.1h-2.1zM1007.2 201h2.1v2.1h-2.1zM1008.2 200.2h2.1v2.1h-2.1zM998.2 177.4h2.1v2.1h-2.1zM996.2 138.6h2.1v2.1h-2.1zM1000.7 173.6h2.1v2.1h-2.1zM991.2 142h2.1v2.1h-2.1zM999.5 178.8h2.1v2.1h-2.1zM991 209.6h2.1v2.1h-2.1zM994.5 134.8h2.1v2.1h-2.1zM1004.1 194.9h2.1v2.1h-2.1zM1004.4 170.6h2.1v2.1h-2.1zM998.5 156.1h2.1v2.1h-2.1zM1008.2 243.5h2.1v2.1h-2.1zM992 179.2h2.1v2.1h-2.1zM995.2 238.2h2.1v2.1h-2.1zM1000.8 174.1h2.1v2.1h-2.1zM1017.9 144.5h2.1v2.1h-2.1zM1021.9 212.7h2.1v2.1h-2.1zM1010.7 157h2.1v2.1h-2.1zM1023.3 171.6h2.1v2.1h-2.1zM1012.2 221.9h2.1v2.1h-2.1zM1014.4 193.7h2.1v2.1h-2.1zM1012.5 226.3h2.1v2.1h-2.1zM1023.4 142.7h2.1v2.1h-2.1zM1009.7 173.5h2.1v2.1h-2.1zM1028.5 224.7h2.1v2.1h-2.1zM1016.4 157.2h2.1v2.1h-2.1zM1013.6 168.8h2.1v2.1h-2.1zM1015.5 175h2.1v2.1h-2.1zM1018.9 199.8h2.1v2.1h-2.1zM1013.6 175.6h2.1v2.1h-2.1zM1024.2 254h2.1v2.1h-2.1zM1024.1 163.4h2.1v2.1h-2.1zM1021.5 213.7h2.1v2.1h-2.1zM1027.1 162h2.1v2.1h-2.1zM1023.4 213.2h2.1v2.1h-2.1zM1012.2 160.9h2.1v2.1h-2.1zM1014.2 120.4h2.1v2.1h-2.1zM1018.5 204.2h2.1v2.1h-2.1zM1015.1 225h2.1v2.1h-2.1zM1016.9 174.1h2.1v2.1h-2.1zM1018.4 122.1h2.1v2.1h-2.1zM1024.6 204.7h2.1v2.1h-2.1zM1019.8 160.2h2.1v2.1h-2.1zM1025.7 166h2.1v2.1h-2.1zM1021.1 212.3h2.1v2.1h-2.1zM1009.1 185.1h2.1v2.1h-2.1zM1028.7 200.6h2.1v2.1h-2.1zM1011.9 167.7h2.1v2.1h-2.1zM1016.9 178.7h2.1v2.1h-2.1zM1009.3 216.8h2.1v2.1h-2.1zM1019.4 166.4h2.1v2.1h-2.1zM1022.5 192.9h2.1v2.1h-2.1zM1014.7 189.3h2.1v2.1h-2.1zM1027.5 203.2h2.1v2.1h-2.1zM1011.9 185.7h2.1v2.1h-2.1zM1027.9 182.6h2.1v2.1h-2.1zM1024.7 238.5h2.1v2.1h-2.1zM1012 194.7h2.1v2.1h-2.1zM1011 187.7h2.1v2.1h-2.1zM1010.3 123.6h2.1v2.1h-2.1zM1020.5 154.2h2.1v2.1h-2.1zM1014 259h2.1v2.1h-2.1zM1028.4 221h2.1v2.1h-2.1zM1011.3 174.5h2.1v2.1h-2.1zM1025.1 190.8h2.1v2.1h-2.1zM1016.5 156.2h2.1v2.1h-2.1zM1009.2 152.7h2.1v2.1h-2.1zM1023.7 141.2h2.1v2.1h-2.1zM1020.7 155.3h2.1v2.1h-2.1zM1013.5 149.3h2.1v2.1h-2.1zM1016.1 202.3h2.1v2.1h-2.1zM1012 188.8h2.1v2.1h-2.1zM1011.6 222.2h2.1v2.1h-2.1zM1020.3 188.7h2.1v2.1h-2.1zM1019.7 186.3h2.1v2.1h-2.1zM1013 191h2.1v2.1h-2.1zM1014.9 210.7h2.1v2.1h-2.1zM1028.9 141.5h2.1v2.1h-2.1zM1016 213.8h2.1v2.1h-2.1zM1018.7 181.2h2.1v2.1h-2.1zM1012.1 107.6h2.1v2.1h-2.1zM1009.4 176.5h2.1v2.1h-2.1zM1021.2 103.8h2.1v2.1h-2.1zM1013.8 137.4h2.1v2.1h-2.1zM1023.8 85.4h2.1v2.1h-2.1zM1013.6 136h2.1v2.1h-2.1zM1016.3 167.3h2.1v2.1h-2.1zM1021.9 145.8h2.1v2.1h-2.1zM1022.8 206.7h2.1v2.1h-2.1zM1015.8 164.1h2.1v2.1h-2.1zM1023.5 157.8h2.1v2.1h-2.1zM1020.2 163.8h2.1v2.1h-2.1zM1025.3 180.9h2.1v2.1h-2.1zM1024.1 133.8h2.1v2.1h-2.1zM1025.4 217.1h2.1v2.1h-2.1zM1014.2 218.9h2.1v2.1h-2.1zM1010.6 138.5h2.1v2.1h-2.1zM1009 168h2.1v2.1h-2.1zM1015.6 195.4h2.1v2.1h-2.1zM1017.2 132.2h2.1v2.1h-2.1zM1014.3 107.7h2.1v2.1h-2.1zM1012.2 213.8h2.1v2.1h-2.1zM1017.5 165.2h2.1v2.1h-2.1zM1015.1 171.6h2.1v2.1h-2.1zM1009.6 168h2.1v2.1h-2.1zM1025.7 217.6h2.1v2.1h-2.1zM1019.3 112.8h2.1v2.1h-2.1zM1012.5 162.5h2.1v2.1h-2.1zM1015.6 153h2.1v2.1h-2.1zM1020.5 123.6h2.1v2.1h-2.1zM1010.9 110.2h2.1v2.1h-2.1zM1019.3 143.3h2.1v2.1h-2.1zM1023.7 186.4h2.1v2.1h-2.1zM1012.2 250.7h2.1v2.1h-2.1zM1019.1 198.6h2.1v2.1h-2.1zM1026.9 178.9h2.1v2.1h-2.1zM1023 182.3h2.1v2.1h-2.1zM1017.9 179.3h2.1v2.1h-2.1zM1009.5 205.2h2.1v2.1h-2.1zM1027.6 189.8h2.1v2.1h-2.1zM1028.6 197.8h2.1v2.1h-2.1zM1024.6 160.9h2.1v2.1h-2.1zM1013.5 177.6h2.1v2.1h-2.1zM1020.6 160.9h2.1v2.1h-2.1zM1025 169.4h2.1v2.1h-2.1zM1046.5 222.1h2.1v2.1h-2.1zM1061 143.5h2.1v2.1h-2.1zM1048.6 245.8h2.1v2.1h-2.1zM1029.1 249.1h2.1v2.1h-2.1zM1038.8 195h2.1v2.1h-2.1zM1061.8 184.9h2.1v2.1h-2.1zM1061.3 193.8h2.1v2.1h-2.1zM1059.4 197.8h2.1v2.1h-2.1zM1035.7 121.9h2.1v2.1h-2.1zM1037.3 143.4h2.1v2.1h-2.1zM1048.9 122.4h2.1v2.1h-2.1zM1030.1 180.7h2.1v2.1h-2.1zM1058.4 187.1h2.1v2.1h-2.1zM1045.1 180.5h2.1v2.1h-2.1zM1053.1 214.8h2.1v2.1h-2.1zM1049.2 203.7h2.1v2.1h-2.1zM1040.9 166h2.1v2.1h-2.1zM1058.7 144.5h2.1v2.1h-2.1zM1037 163.2h2.1v2.1h-2.1zM1045.9 254.5h2.1v2.1h-2.1zM1042.8 188.8h2.1v2.1h-2.1zM1052.7 162.5h2.1v2.1h-2.1zM1052.3 196.7h2.1v2.1h-2.1zM1043.8 132.4h2.1v2.1h-2.1zM1039.9 192.6h2.1v2.1h-2.1zM1035.8 174.6h2.1v2.1h-2.1zM1030.5 193.2h2.1v2.1h-2.1zM1043.5 192.4h2.1v2.1h-2.1zM1029 83.6h2.1v2.1h-2.1zM1040.6 155.4h2.1v2.1h-2.1zM1060.9 185.5h2.1v2.1h-2.1zM1050.5 174h2.1v2.1h-2.1zM1042.6 107.6h2.1v2.1h-2.1zM1060.1 171.9h2.1v2.1h-2.1zM1061.8 185.5h2.1v2.1h-2.1zM1054.6 200.5h2.1v2.1h-2.1zM1039 187.5h2.1v2.1h-2.1zM1058.2 98.2h2.1v2.1h-2.1zM1055.1 122h2.1v2.1h-2.1zM1050.4 120h2.1v2.1h-2.1zM1044.4 221.1h2.1v2.1h-2.1zM1037.8 181.8h2.1v2.1h-2.1zM1038.8 147.9h2.1v2.1h-2.1zM1046 159h2.1v2.1h-2.1zM1045.6 161.2h2.1v2.1h-2.1zM1043.9 195.1h2.1v2.1h-2.1zM1055.2 186.9h2.1v2.1h-2.1zM1037.2 159.6h2.1v2.1h-2.1zM1033 220.9h2.1v2.1h-2.1zM1034.6 170.9h2.1v2.1h-2.1zM1049.4 143.3h2.1v2.1h-2.1zM1030 231.8h2.1v2.1h-2.1zM1039.2 114.7h2.1v2.1h-2.1zM1034.6 130.8h2.1v2.1h-2.1zM1029.8 239.2h2.1v2.1h-2.1zM1060.1 169.9h2.1v2.1h-2.1zM1041 162.4h2.1v2.1h-2.1zM1058.7 126.7h2.1v2.1h-2.1zM1044.8 157h2.1v2.1h-2.1zM1061 153.4h2.1v2.1h-2.1zM1033.5 171.7h2.1v2.1h-2.1zM1041.2 94.4h2.1v2.1h-2.1zM1037.2 169.3h2.1v2.1h-2.1zM1053.7 116.9h2.1v2.1h-2.1zM1037 175.8h2.1v2.1h-2.1zM1047.4 166.9h2.1v2.1h-2.1zM1035.2 153.6h2.1v2.1h-2.1zM1031.2 121.2h2.1v2.1h-2.1zM1058.3 179.9h2.1v2.1h-2.1zM1054.4 146.8h2.1v2.1h-2.1zM1055.1 181.1h2.1v2.1h-2.1zM1061.9 196.7h2.1v2.1h-2.1zM1057 231.2h2.1v2.1h-2.1zM1031.3 148.8h2.1v2.1h-2.1zM1038.3 105.2h2.1v2.1h-2.1zM1042.6 171.4h2.1v2.1h-2.1zM1060.3 156.9h2.1v2.1h-2.1zM1029.6 142.2h2.1v2.1h-2.1zM1053.3 155.8h2.1v2.1h-2.1zM1031.1 187.2h2.1v2.1h-2.1zM1034.6 137.4h2.1v2.1h-2.1zM1037.1 187.9h2.1v2.1h-2.1zM1043.6 198.2h2.1v2.1h-2.1zM1058.8 152.3h2.1v2.1h-2.1zM1057.3 205.1h2.1v2.1h-2.1zM1039.4 158h2.1v2.1h-2.1zM1061.4 130.2h2.1v2.1h-2.1zM1031 186.1h2.1v2.1h-2.1zM1030.9 154.4h2.1v2.1h-2.1zM1044.8 118.7h2.1v2.1h-2.1zM1040.2 188.5h2.1v2.1h-2.1zM1057.7 184.3h2.1v2.1h-2.1zM1029.8 172h2.1v2.1h-2.1zM1058.1 186.6h2.1v2.1h-2.1zM1038.3 155.2h2.1v2.1h-2.1zM1055 200.5h2.1v2.1h-2.1zM1029.5 199.3h2.1v2.1h-2.1zM1059.1 151.7h2.1v2.1h-2.1zM1056.2 136.8h2.1v2.1h-2.1zM1048.2 155.9h2.1v2.1h-2.1zM1056.4 201.2h2.1v2.1h-2.1zM1055.4 133.5h2.1v2.1h-2.1zM1057.2 129.7h2.1v2.1h-2.1zM1051.5 189.8h2.1v2.1h-2.1zM1061 158.1h2.1v2.1h-2.1zM1048 129.3h2.1v2.1h-2.1zM1052 150h2.1v2.1h-2.1zM1044.6 169.2h2.1v2.1h-2.1zM1061.6 180.6h2.1v2.1h-2.1zM1029.7 229.5h2.1v2.1h-2.1zM1053.3 208h2.1v2.1h-2.1zM1036.9 204.8h2.1v2.1h-2.1zM1051.2 166.4h2.1v2.1h-2.1zM1034.8 135.3h2.1v2.1h-2.1zM1040.2 168.8h2.1v2.1h-2.1zM1051.6 113.1h2.1v2.1h-2.1zM1042.4 185h2.1v2.1h-2.1zM1050.9 212.5h2.1v2.1h-2.1zM1050.3 191.3h2.1v2.1h-2.1zM1032.7 179.6h2.1v2.1h-2.1zM1051.8 140.8h2.1v2.1h-2.1zM1038.1 238.9h2.1v2.1h-2.1zM1043 210.8h2.1v2.1h-2.1zM1045.9 120.9h2.1v2.1h-2.1zM1041.5 207.9h2.1v2.1h-2.1zM1037.7 194.5h2.1v2.1h-2.1zM1034.3 177.9h2.1v2.1h-2.1zM1049.6 174.7h2.1v2.1h-2.1zM1053.9 163.3h2.1v2.1h-2.1zM1035.3 211.9h2.1v2.1h-2.1zM1048.9 159.7h2.1v2.1h-2.1zM1033.3 183.7h2.1v2.1h-2.1zM1050.2 179.4h2.1v2.1h-2.1zM1038.8 133.9h2.1v2.1h-2.1zM1040.8 256.4h2.1v2.1h-2.1zM1051.1 164.8h2.1v2.1h-2.1zM1044.3 186h2.1v2.1h-2.1zM1043.8 155h2.1v2.1h-2.1zM1039 224.9h2.1v2.1h-2.1zM1055.8 151.3h2.1v2.1h-2.1zM1039 188.9h2.1v2.1h-2.1zM1050.3 158.9h2.1v2.1h-2.1zM1030.9 142.5h2.1v2.1h-2.1zM1059 121.6h2.1v2.1h-2.1zM1060.8 140.9h2.1v2.1h-2.1zM1035 169.3h2.1v2.1h-2.1zM1043.5 140.9h2.1v2.1h-2.1zM1032.5 156.7h2.1v2.1h-2.1zM1042.6 188.3h2.1v2.1h-2.1zM1057.6 209.4h2.1v2.1h-2.1zM1048.5 119.7h2.1v2.1h-2.1zM1033.5 210.5h2.1v2.1h-2.1zM1060.9 194.9h2.1v2.1h-2.1zM1047.3 171.2h2.1v2.1h-2.1zM1031.4 207.5h2.1v2.1h-2.1zM1041 157.2h2.1v2.1h-2.1zM1033.8 219.5h2.1v2.1h-2.1zM1058.1 148.8h2.1v2.1h-2.1zM1041.9 119.5h2.1v2.1h-2.1zM1045.4 102.9h2.1v2.1h-2.1zM1056.7 254.8h2.1v2.1h-2.1zM1047.7 115h2.1v2.1h-2.1zM1030.6 116.4h2.1v2.1h-2.1zM1031.4 172.2h2.1v2.1h-2.1zM1034.7 204.1h2.1v2.1h-2.1zM1051.2 180.8h2.1v2.1h-2.1zM1049.3 179h2.1v2.1h-2.1zM1040.8 207.5h2.1v2.1h-2.1zM1039.3 175.7h2.1v2.1h-2.1zM1031.6 186.6h2.1v2.1h-2.1zM1031.2 200.7h2.1v2.1h-2.1zM1049.9 176.9h2.1v2.1h-2.1zM1055.2 125.9h2.1v2.1h-2.1zM1045.5 190.6h2.1v2.1h-2.1zM1051.7 119h2.1v2.1h-2.1zM1043.7 209.9h2.1v2.1h-2.1zM1030.7 185.7h2.1v2.1h-2.1zM1029 232.2h2.1v2.1h-2.1zM1055.4 172.5h2.1v2.1h-2.1zM1057.6 175.7h2.1v2.1h-2.1zM1061.4 131h2.1v2.1h-2.1zM1039.1 188.2h2.1v2.1h-2.1zM1053.2 183.9h2.1v2.1h-2.1zM1053.4 181.3h2.1v2.1h-2.1zM1050.9 159.5h2.1v2.1h-2.1zM1056 158.2h2.1v2.1h-2.1zM1060.5 134h2.1v2.1h-2.1zM1035.6 157.3h2.1v2.1h-2.1zM1053 266.6h2.1v2.1h-2.1zM1042.6 192.7h2.1v2.1h-2.1zM1056.3 125.8h2.1v2.1h-2.1zM1059.1 128.4h2.1v2.1h-2.1zM1060 183.6h2.1v2.1h-2.1zM1053.9 209h2.1v2.1h-2.1zM1059.3 180.2h2.1v2.1h-2.1zM1032.8 206.4h2.1v2.1h-2.1zM1032 173.3h2.1v2.1h-2.1zM1042.7 101.5h2.1v2.1h-2.1zM1052.7 129.5h2.1v2.1h-2.1zM1055.6 143.5h2.1v2.1h-2.1zM1056.6 130.4h2.1v2.1h-2.1zM1033.3 238.1h2.1v2.1h-2.1zM1051.5 151.8h2.1v2.1h-2.1zM1047.2 230.7h2.1v2.1h-2.1zM1034.5 168.4h2.1v2.1h-2.1zM1044.6 210.9h2.1v2.1h-2.1zM1054.5 169.7h2.1v2.1h-2.1zM1034.4 200.7h2.1v2.1h-2.1zM1058.5 147.1h2.1v2.1h-2.1zM1034.4 181.8h2.1v2.1h-2.1zM1031.6 187.6h2.1v2.1h-2.1zM1040.9 194.8h2.1v2.1h-2.1zM1054.6 193.3h2.1v2.1h-2.1zM1054.5 184.4h2.1v2.1h-2.1zM1057.5 217.8h2.1v2.1h-2.1zM1034.9 211.7h2.1v2.1h-2.1zM1036.1 162.5h2.1v2.1h-2.1zM1035.7 85h2.1v2.1h-2.1zM1035.8 171.2h2.1v2.1h-2.1zM1042.9 137.5h2.1v2.1h-2.1zM1061.8 134.3h2.1v2.1h-2.1zM1051.3 157.7h2.1v2.1h-2.1zM1040.2 163.1h2.1v2.1h-2.1zM1060.6 152.7h2.1v2.1h-2.1zM1047.5 242h2.1v2.1h-2.1zM1030.2 164h2.1v2.1h-2.1zM1031.4 207h2.1v2.1h-2.1zM1047.2 150.5h2.1v2.1h-2.1zM1035.4 224.5h2.1v2.1h-2.1zM1037.8 220.7h2.1v2.1h-2.1zM1041.2 149.2h2.1v2.1h-2.1zM1048.6 210.9h2.1v2.1h-2.1zM1059.7 155.8h2.1v2.1h-2.1zM1031.9 206.8h2.1v2.1h-2.1zM1059.4 200.6h2.1v2.1h-2.1zM1043.1 183.9h2.1v2.1h-2.1zM1039.2 234.4h2.1v2.1h-2.1zM1038.5 93.3h2.1v2.1h-2.1zM1040.7 140.1h2.1v2.1h-2.1zM1042.8 160.3h2.1v2.1h-2.1zM1042 94.1h2.1v2.1h-2.1zM1056.9 128.4h2.1v2.1h-2.1zM1040.1 155h2.1v2.1h-2.1zM1036.9 199.6h2.1v2.1h-2.1zM1059.7 222.6h2.1v2.1h-2.1zM1054.6 175.4h2.1v2.1h-2.1zM1029.9 178h2.1v2.1h-2.1zM1047.3 175.8h2.1v2.1h-2.1zM1049.6 124.7h2.1v2.1h-2.1zM1033.8 99.8h2.1v2.1h-2.1zM1039.9 220.1h2.1v2.1h-2.1zM1034.9 181.8h2.1v2.1h-2.1zM1031.8 165.9h2.1v2.1h-2.1zM1045.9 184.8h2.1v2.1h-2.1zM1031.4 203.3h2.1v2.1h-2.1zM1044.2 133.1h2.1v2.1h-2.1zM1044.7 243.2h2.1v2.1h-2.1zM1048.6 169.1h2.1v2.1h-2.1zM1057.2 136.9h2.1v2.1h-2.1zM1029.8 229h2.1v2.1h-2.1zM1034.8 215.1h2.1v2.1h-2.1zM1051 172.3h2.1v2.1h-2.1zM1043.1 173h2.1v2.1h-2.1zM1034.9 177.3h2.1v2.1h-2.1zM1035.2 206h2.1v2.1h-2.1zM1035.1 218h2.1v2.1h-2.1zM1059.3 130.9h2.1v2.1h-2.1zM1041.5 276h2.1v2.1h-2.1zM1047.9 190.1h2.1v2.1h-2.1zM1047.8 207.7h2.1v2.1h-2.1zM1053.9 187.5h2.1v2.1h-2.1zM1044.9 217.1h2.1v2.1h-2.1zM1041.7 169.2h2.1v2.1h-2.1zM1052.5 146.6h2.1v2.1h-2.1zM1039.7 157.9h2.1v2.1h-2.1zM1032.2 173.7h2.1v2.1h-2.1zM1061.9 201.6h2.1v2.1h-2.1zM1059.7 190.4h2.1v2.1h-2.1zM1044 236.7h2.1v2.1h-2.1zM1052.8 182.4h2.1v2.1h-2.1zM1055.9 212.2h2.1v2.1h-2.1zM1041.5 139.1h2.1v2.1h-2.1zM1034.9 154.4h2.1v2.1h-2.1zM1034.2 177.3h2.1v2.1h-2.1zM1057.9 182.5h2.1v2.1h-2.1zM1061.6 229.1h2.1v2.1h-2.1zM1043.8 101.3h2.1v2.1h-2.1zM1061.3 163.8h2.1v2.1h-2.1zM1044.6 165.7h2.1v2.1h-2.1zM1043.9 186.1h2.1v2.1h-2.1zM1037.8 142.5h2.1v2.1h-2.1zM1047.7 174h2.1v2.1h-2.1zM1041.8 160.3h2.1v2.1h-2.1zM1057.6 151.1h2.1v2.1h-2.1zM1060.4 152.7h2.1v2.1h-2.1zM1052.5 192.5h2.1v2.1h-2.1zM1043.4 172h2.1v2.1h-2.1zM1041 208.2h2.1v2.1h-2.1zM1061 110.1h2.1v2.1h-2.1zM1051.4 167.6h2.1v2.1h-2.1zM1064.7 116.3h2.1v2.1h-2.1zM1061 137.6h2.1v2.1h-2.1zM1066.9 127.9h2.1v2.1h-2.1zM1063 213.8h2.1v2.1h-2.1zM1064 165.2h2.1v2.1h-2.1zM1037.4 65.5h2.1v2.1h-2.1zM1062.2 70h2.1v2.1h-2.1zM724.6 76.7h2.1v2.1h-2.1zM982.2 317.6h2.1v2.1h-2.1zM1039 303.2h2.1v2.1h-2.1zM1030 285.3h2.1v2.1h-2.1zM1009.6 262.3h2.1v2.1h-2.1z" fill="#7d7d7d"/><path d="M672.9 165.9 L673.9 165.8 L674.9 165.7 L675.9 165.6 L676.9 165.5 L677.9 165.5 L678.9 165.4 L679.9 165.3 L680.9 165.2 L681.9 165.1 L682.9 165.1 L683.9 165 L684.9 164.9 L685.9 164.8 L686.9 164.8 L687.9 164.7 L688.9 164.6 L689.9 164.6 L690.9 164.5 L691.9 164.5 L692.9 164.4 L693.9 164.3 L694.9 164.3 L695.9 164.2 L696.9 164.2 L697.9 164.1 L698.9 164.1 L699.9 164.1 L700.9 164 L701.9 164 L702.9 163.9 L703.9 163.9 L704.9 163.9 L705.9 163.8 L706.9 163.8 L707.9 163.8 L708.9 163.8 L709.9 163.7 L710.9 163.7 L711.9 163.7 L712.9 163.7 L713.9 163.7 L714.9 163.6 L715.9 163.6 L716.9 163.6 L717.9 163.6 L718.9 163.6 L719.9 163.6 L720.9 163.6 L721.9 163.6 L722.9 163.6 L723.9 163.6 L724.9 163.7 L725.9 163.7 L726.9 163.7 L727.9 163.7 L728.9 163.7 L729.9 163.7 L730.9 163.8 L731.9 163.8 L732.9 163.8 L733.9 163.9 L734.9 163.9 L735.9 163.9 L736.9 164 L737.9 164 L738.9 164 L739.9 164.1 L740.9 164.1 L741.9 164.2 L742.9 164.3 L743.9 164.3 L744.9 164.4 L745.9 164.4 L746.9 164.5 L747.9 164.6 L748.9 164.6 L749.9 164.7 L750.9 164.8 L751.9 164.9 L752.9 164.9 L753.9 165 L754.9 165.1 L755.9 165.2 L756.9 165.3 L757.9 165.4 L758.9 165.5 L759.9 165.6 L760.9 165.7 L761.9 165.8 L762.9 165.9 L763.9 166 L764.9 166.1 L765.9 166.2 L766.9 166.4 L767.9 166.5 L768.9 166.6 L769.9 166.7 L770.9 166.9 L771.9 167 L772.9 167.1 L773.9 167.3 L774.9 167.4 L775.9 167.6 L776.9 167.7 L777.9 167.9 L778.9 168 L779.9 168.2 L780.9 168.3 L781.9 168.5 L782.9 168.7 L783.9 168.8 L784.9 169 L785.9 169.2 L786.9 169.3 L787.9 169.5 L788.9 169.7 L789.9 169.9 L790.9 170.1 L791.9 170.3 L792.9 170.5 L793.9 170.7 L794.9 170.9 L795.9 171.1 L796.9 171.3 L797.9 171.5 L798.9 171.7 L799.9 171.9 L800.9 172.1 L801.9 172.3 L802.9 172.5 L803.9 172.7 L804.9 172.9 L805.9 173.2 L806.9 173.4 L807.9 173.6 L808.9 173.8 L809.9 174 L810.9 174.3 L811.9 174.5 L812.9 174.7 L813.9 175 L814.9 175.2 L815.9 175.4 L816.9 175.7 L817.9 175.9 L818.9 176.1 L819.9 176.4 L820.9 176.6 L821.9 176.8 L822.9 177.1 L823.9 177.3 L824.9 177.6 L825.9 177.8 L826.9 178 L827.9 178.3 L828.9 178.5 L829.9 178.8 L830.9 179 L831.9 179.3 L832.9 179.5 L833.9 179.7 L834.9 180 L835.9 180.2 L836.9 180.5 L837.9 180.7 L838.9 181 L839.9 181.2 L840.9 181.5 L841.9 181.7 L842.9 182 L843.9 182.2 L844.9 182.4 L845.9 182.7 L846.9 182.9 L847.9 183.2 L848.9 183.4 L849.9 183.7 L850.9 183.9 L851.9 184.1 L852.9 184.4 L853.9 184.6 L854.9 184.8 L855.9 185.1 L856.9 185.3 L857.9 185.6 L858.9 185.8 L859.9 186 L860.9 186.2 L861.9 186.5 L862.9 186.7 L863.9 186.9 L864.9 187.2 L865.9 187.4 L866.9 187.6 L867.9 187.8 L868.9 188 L869.9 188.3 L870.9 188.5 L871.9 188.7 L872.9 188.9 L873.9 189.1 L874.9 189.3 L875.9 189.5 L876.9 189.7 L877.9 189.9 L878.9 190.1 L879.9 190.3 L880.9 190.5 L881.9 190.7 L882.9 190.9 L883.9 191.1 L884.9 191.3 L885.9 191.5 L886.9 191.7 L887.9 191.9 L888.9 192 L889.9 192.2 L890.9 192.4 L891.9 192.6 L892.9 192.7 L893.9 192.9 L894.9 193.1 L895.9 193.2 L896.9 193.4 L897.9 193.5 L898.9 193.7 L899.9 193.8 L900.9 194 L901.9 194.1 L902.9 194.3 L903.9 194.4 L904.9 194.5 L905.9 194.7 L906.9 194.8 L907.9 194.9 L908.9 195.1 L909.9 195.2 L910.9 195.3 L911.9 195.4 L912.9 195.5 L913.9 195.6 L914.9 195.7 L915.9 195.8 L916.9 195.9 L917.9 196 L918.9 196.1 L919.9 196.2 L920.9 196.3 L921.9 196.3 L922.9 196.4 L923.9 196.5 L924.9 196.6 L925.9 196.6 L926.9 196.7 L927.9 196.7 L928.9 196.8 L929.9 196.8 L930.9 196.9 L931.9 196.9 L932.9 197 L933.9 197 L934.9 197 L935.9 197 L936.9 197 L937.9 197.1 L938.9 197.1 L939.9 197.1 L940.9 197.1 L941.9 197.1 L942.9 197.1 L943.9 197 L944.9 197 L945.9 197 L946.9 197 L947.9 196.9 L948.9 196.9 L949.9 196.9 L950.9 196.8 L951.9 196.8 L952.9 196.7 L953.9 196.7 L954.9 196.6 L955.9 196.5 L956.9 196.4 L957.9 196.4 L958.9 196.3 L959.9 196.2 L960.9 196.1 L961.9 196 L962.9 195.9 L963.9 195.8 L964.9 195.6 L965.9 195.5 L966.9 195.4 L967.9 195.3 L968.9 195.1 L969.9 195 L970.9 194.8 L971.9 194.7 L972.9 194.5 L973.9 194.4 L974.9 194.2 L975.9 194 L976.9 193.9 L977.9 193.7 L978.9 193.5 L979.9 193.3 L980.9 193.1 L981.9 192.9 L982.9 192.7 L983.9 192.5 L984.9 192.3 L985.9 192.1 L986.9 191.9 L987.9 191.6 L988.9 191.4 L989.9 191.2 L990.9 191 L991.9 190.7 L992.9 190.5 L993.9 190.2 L994.9 190 L995.9 189.7 L996.9 189.5 L997.9 189.2 L998.9 188.9 L999.9 188.7 L1000.9 188.4 L1001.9 188.1 L1002.9 187.9 L1003.9 187.6 L1004.9 187.3 L1005.9 187 L1006.9 186.7 L1007.9 186.4 L1008.9 186.1 L1009.9 185.8 L1010.9 185.5 L1011.9 185.2 L1012.9 184.9 L1013.9 184.6 L1014.9 184.3 L1015.9 184 L1016.9 183.7 L1017.9 183.3 L1018.9 183 L1019.9 182.7 L1020.9 182.4 L1021.9 182 L1022.9 181.7 L1023.9 181.3 L1024.9 181 L1025.9 180.7 L1026.9 180.3 L1027.9 180 L1028.9 179.6 L1029.9 179.3 L1030.9 178.9 L1031.9 178.6 L1032.9 178.2 L1033.9 177.9 L1034.9 177.5 L1035.9 177.1 L1036.9 176.8 L1037.9 176.4 L1038.9 176 L1039.9 175.7 L1040.9 175.3 L1041.9 174.9 L1042.9 174.5 L1043.9 174.2 L1044.9 173.8 L1045.9 173.4 L1046.9 173 L1047.9 172.6 L1048.9 172.3 L1049.9 171.9 L1050.9 171.5 L1051.9 171.1 L1052.9 170.7 L1053.9 170.3 L1054.9 169.9 L1055.9 169.5 L1056.9 169.2 L1057.9 168.8 L1058.9 168.4 L1059.9 168 L1060.9 167.6 L1061.9 167.2 L1062.9 166.8 L1063.9 166.4 L1064.9 166 L1065.9 165.6 L1066.9 165.2 L1067.3 165" fill="none" stroke="#1e1e1e" stroke-width="2.6" stroke-linejoin="round" stroke-linecap="round"/><path d="M672.8 332.8v9.5M714.3 332.8v9.5M726.3 332.8v9.5M770.4 332.8v9.5M771.2 332.8v9.5M799.5 332.8v9.5M805.4 332.8v9.5M825 332.8v9.5M826.7 332.8v9.5M832 332.8v9.5M838 332.8v9.5M845 332.8v9.5M847 332.8v9.5M884.8 332.8v9.5M893.4 332.8v9.5M895 332.8v9.5M896.4 332.8v9.5M911.2 332.8v9.5M936.5 332.8v9.5M948.6 332.8v9.5M965.7 332.8v9.5M957.8 332.8v9.5M960.5 332.8v9.5M956.2 332.8v9.5M955.5 332.8v9.5M960 332.8v9.5M977.3 332.8v9.5M979.7 332.8v9.5M962.8 332.8v9.5M986.2 332.8v9.5M980.7 332.8v9.5M965.1 332.8v9.5M980.5 332.8v9.5M989.4 332.8v9.5M969.2 332.8v9.5M988.4 332.8v9.5M988.9 332.8v9.5M985.6 332.8v9.5M975.7 332.8v9.5M974.5 332.8v9.5M972.1 332.8v9.5M984 332.8v9.5M966.2 332.8v9.5M976.9 332.8v9.5M1000.9 332.8v9.5M1008.6 332.8v9.5M1008.2 332.8v9.5M999.7 332.8v9.5M1002 332.8v9.5M1004.1 332.8v9.5M1000.9 332.8v9.5M995.7 332.8v9.5M993.2 332.8v9.5M1001.3 332.8v9.5M998.7 332.8v9.5M995.4 332.8v9.5M996.9 332.8v9.5M990.8 332.8v9.5M1001.1 332.8v9.5M991.5 332.8v9.5M992.1 332.8v9.5M1005.4 332.8v9.5M992.2 332.8v9.5M1004 332.8v9.5M999.8 332.8v9.5M994.9 332.8v9.5M1001.4 332.8v9.5M1000.4 332.8v9.5M1008.2 332.8v9.5M1009.3 332.8v9.5M999.3 332.8v9.5M997.3 332.8v9.5M1001.7 332.8v9.5M992.2 332.8v9.5M1000.6 332.8v9.5M992 332.8v9.5M995.5 332.8v9.5M1005.2 332.8v9.5M1005.4 332.8v9.5M999.5 332.8v9.5M1009.3 332.8v9.5M993 332.8v9.5M996.3 332.8v9.5M1001.8 332.8v9.5M1018.9 332.8v9.5M1023 332.8v9.5M1011.8 332.8v9.5M1024.4 332.8v9.5M1013.3 332.8v9.5M1015.4 332.8v9.5M1013.6 332.8v9.5M1024.4 332.8v9.5M1010.8 332.8v9.5M1029.5 332.8v9.5M1017.5 332.8v9.5M1014.7 332.8v9.5M1016.5 332.8v9.5M1019.9 332.8v9.5M1014.6 332.8v9.5M1025.2 332.8v9.5M1025.1 332.8v9.5M1022.6 332.8v9.5M1028.1 332.8v9.5M1024.4 332.8v9.5M1013.2 332.8v9.5M1015.3 332.8v9.5M1019.5 332.8v9.5M1016.2 332.8v9.5M1017.9 332.8v9.5M1019.5 332.8v9.5M1025.7 332.8v9.5M1020.9 332.8v9.5M1026.8 332.8v9.5M1022.2 332.8v9.5M1010.1 332.8v9.5M1029.8 332.8v9.5M1012.9 332.8v9.5M1017.9 332.8v9.5M1010.4 332.8v9.5M1020.5 332.8v9.5M1023.6 332.8v9.5M1015.8 332.8v9.5M1028.6 332.8v9.5M1013 332.8v9.5M1029 332.8v9.5M1025.7 332.8v9.5M1013 332.8v9.5M1012.1 332.8v9.5M1011.3 332.8v9.5M1021.6 332.8v9.5M1015 332.8v9.5M1029.4 332.8v9.5M1012.3 332.8v9.5M1026.2 332.8v9.5M1017.5 332.8v9.5M1010.3 332.8v9.5M1024.7 332.8v9.5M1021.7 332.8v9.5M1014.6 332.8v9.5M1017.1 332.8v9.5M1013 332.8v9.5M1012.7 332.8v9.5M1021.4 332.8v9.5M1020.8 332.8v9.5M1014.1 332.8v9.5M1015.9 332.8v9.5M1029.9 332.8v9.5M1017.1 332.8v9.5M1019.7 332.8v9.5M1013.2 332.8v9.5M1010.5 332.8v9.5M1022.2 332.8v9.5M1014.8 332.8v9.5M1024.9 332.8v9.5M1014.6 332.8v9.5M1017.4 332.8v9.5M1022.9 332.8v9.5M1023.8 332.8v9.5M1016.9 332.8v9.5M1024.5 332.8v9.5M1021.3 332.8v9.5M1026.3 332.8v9.5M1025.1 332.8v9.5M1026.4 332.8v9.5M1015.3 332.8v9.5M1011.6 332.8v9.5M1010.1 332.8v9.5M1016.6 332.8v9.5M1018.3 332.8v9.5M1015.3 332.8v9.5M1013.2 332.8v9.5M1018.5 332.8v9.5M1016.1 332.8v9.5M1010.6 332.8v9.5M1026.7 332.8v9.5M1020.4 332.8v9.5M1013.5 332.8v9.5M1016.6 332.8v9.5M1021.5 332.8v9.5M1011.9 332.8v9.5M1020.4 332.8v9.5M1024.7 332.8v9.5M1013.3 332.8v9.5M1020.2 332.8v9.5M1027.9 332.8v9.5M1024.1 332.8v9.5M1018.9 332.8v9.5M1010.5 332.8v9.5M1028.6 332.8v9.5M1029.6 332.8v9.5M1025.7 332.8v9.5M1014.6 332.8v9.5M1021.7 332.8v9.5M1026.1 332.8v9.5M1047.5 332.8v9.5M1062 332.8v9.5M1049.7 332.8v9.5M1030.2 332.8v9.5M1039.8 332.8v9.5M1062.9 332.8v9.5M1062.4 332.8v9.5M1060.5 332.8v9.5M1036.8 332.8v9.5M1038.4 332.8v9.5M1050 332.8v9.5M1031.1 332.8v9.5M1059.4 332.8v9.5M1046.2 332.8v9.5M1054.1 332.8v9.5M1050.2 332.8v9.5M1041.9 332.8v9.5M1059.8 332.8v9.5M1038.1 332.8v9.5M1046.9 332.8v9.5M1043.9 332.8v9.5M1053.7 332.8v9.5M1053.3 332.8v9.5M1044.9 332.8v9.5M1040.9 332.8v9.5M1036.9 332.8v9.5M1031.5 332.8v9.5M1044.5 332.8v9.5M1030.1 332.8v9.5M1041.7 332.8v9.5M1062 332.8v9.5M1051.5 332.8v9.5M1043.7 332.8v9.5M1061.2 332.8v9.5M1062.8 332.8v9.5M1055.6 332.8v9.5M1040 332.8v9.5M1059.2 332.8v9.5M1056.1 332.8v9.5M1051.4 332.8v9.5M1045.5 332.8v9.5M1038.9 332.8v9.5M1039.8 332.8v9.5M1047.1 332.8v9.5M1046.7 332.8v9.5M1044.9 332.8v9.5M1056.3 332.8v9.5M1038.2 332.8v9.5M1034.1 332.8v9.5M1035.7 332.8v9.5M1050.5 332.8v9.5M1031.1 332.8v9.5M1040.3 332.8v9.5M1035.6 332.8v9.5M1030.9 332.8v9.5M1061.1 332.8v9.5M1042 332.8v9.5M1059.7 332.8v9.5M1045.9 332.8v9.5M1062 332.8v9.5M1034.6 332.8v9.5M1042.2 332.8v9.5M1038.2 332.8v9.5M1054.7 332.8v9.5M1038 332.8v9.5M1048.5 332.8v9.5M1036.2 332.8v9.5M1032.2 332.8v9.5M1059.4 332.8v9.5M1055.5 332.8v9.5M1056.2 332.8v9.5M1062.9 332.8v9.5M1058.1 332.8v9.5M1032.3 332.8v9.5M1039.3 332.8v9.5M1043.6 332.8v9.5M1061.3 332.8v9.5M1030.7 332.8v9.5M1054.4 332.8v9.5M1032.2 332.8v9.5M1035.7 332.8v9.5M1038.1 332.8v9.5M1044.7 332.8v9.5M1059.8 332.8v9.5M1058.3 332.8v9.5M1040.4 332.8v9.5M1062.5 332.8v9.5M1032 332.8v9.5M1031.9 332.8v9.5M1045.9 332.8v9.5M1041.2 332.8v9.5M1058.7 332.8v9.5M1030.8 332.8v9.5M1059.2 332.8v9.5M1039.3 332.8v9.5M1056.1 332.8v9.5M1030.5 332.8v9.5M1060.2 332.8v9.5M1057.3 332.8v9.5M1049.2 332.8v9.5M1057.5 332.8v9.5M1056.5 332.8v9.5M1058.2 332.8v9.5M1052.6 332.8v9.5M1062 332.8v9.5M1049.1 332.8v9.5M1053 332.8v9.5M1045.7 332.8v9.5M1062.6 332.8v9.5M1030.7 332.8v9.5M1054.3 332.8v9.5M1038 332.8v9.5M1052.2 332.8v9.5M1035.8 332.8v9.5M1041.3 332.8v9.5M1052.7 332.8v9.5M1043.5 332.8v9.5M1051.9 332.8v9.5M1051.3 332.8v9.5M1033.8 332.8v9.5M1052.9 332.8v9.5M1039.2 332.8v9.5M1044 332.8v9.5M1046.9 332.8v9.5M1042.5 332.8v9.5M1038.7 332.8v9.5M1035.4 332.8v9.5M1050.7 332.8v9.5M1054.9 332.8v9.5M1036.3 332.8v9.5M1049.9 332.8v9.5M1034.3 332.8v9.5M1051.3 332.8v9.5M1039.8 332.8v9.5M1041.8 332.8v9.5M1052.1 332.8v9.5M1045.3 332.8v9.5M1044.8 332.8v9.5M1040 332.8v9.5M1056.8 332.8v9.5M1040 332.8v9.5M1051.4 332.8v9.5M1032 332.8v9.5M1060 332.8v9.5M1061.9 332.8v9.5M1036 332.8v9.5M1044.6 332.8v9.5M1033.6 332.8v9.5M1043.7 332.8v9.5M1058.6 332.8v9.5M1049.6 332.8v9.5M1034.5 332.8v9.5M1062 332.8v9.5M1048.4 332.8v9.5M1032.5 332.8v9.5M1042.1 332.8v9.5M1034.8 332.8v9.5M1059.1 332.8v9.5M1042.9 332.8v9.5M1046.5 332.8v9.5M1057.7 332.8v9.5M1048.7 332.8v9.5M1031.6 332.8v9.5M1032.5 332.8v9.5M1035.7 332.8v9.5M1052.3 332.8v9.5M1050.4 332.8v9.5M1041.8 332.8v9.5M1040.3 332.8v9.5M1032.6 332.8v9.5M1032.3 332.8v9.5M1051 332.8v9.5M1056.2 332.8v9.5M1046.6 332.8v9.5M1052.7 332.8v9.5M1044.8 332.8v9.5M1031.8 332.8v9.5M1030.1 332.8v9.5M1056.4 332.8v9.5M1058.6 332.8v9.5M1062.5 332.8v9.5M1040.1 332.8v9.5M1054.2 332.8v9.5M1054.4 332.8v9.5M1052 332.8v9.5M1057.1 332.8v9.5M1061.5 332.8v9.5M1036.7 332.8v9.5M1054 332.8v9.5M1043.6 332.8v9.5M1057.3 332.8v9.5M1060.1 332.8v9.5M1061.1 332.8v9.5M1055 332.8v9.5M1060.3 332.8v9.5M1033.9 332.8v9.5M1033.1 332.8v9.5M1043.8 332.8v9.5M1053.8 332.8v9.5M1056.6 332.8v9.5M1057.6 332.8v9.5M1034.3 332.8v9.5M1052.6 332.8v9.5M1048.3 332.8v9.5M1035.5 332.8v9.5M1045.7 332.8v9.5M1055.6 332.8v9.5M1035.5 332.8v9.5M1059.5 332.8v9.5M1035.4 332.8v9.5M1032.7 332.8v9.5M1042 332.8v9.5M1055.7 332.8v9.5M1055.6 332.8v9.5M1058.5 332.8v9.5M1035.9 332.8v9.5M1037.2 332.8v9.5M1036.8 332.8v9.5M1036.8 332.8v9.5M1043.9 332.8v9.5M1062.8 332.8v9.5M1052.4 332.8v9.5M1041.2 332.8v9.5M1061.7 332.8v9.5M1048.6 332.8v9.5M1031.3 332.8v9.5M1032.4 332.8v9.5M1048.3 332.8v9.5M1036.4 332.8v9.5M1038.9 332.8v9.5M1042.3 332.8v9.5M1049.7 332.8v9.5M1060.7 332.8v9.5M1032.9 332.8v9.5M1060.5 332.8v9.5M1044.2 332.8v9.5M1040.3 332.8v9.5M1039.5 332.8v9.5M1041.8 332.8v9.5M1043.9 332.8v9.5M1043.1 332.8v9.5M1057.9 332.8v9.5M1041.2 332.8v9.5M1037.9 332.8v9.5M1060.7 332.8v9.5M1055.7 332.8v9.5M1030.9 332.8v9.5M1048.3 332.8v9.5M1050.7 332.8v9.5M1034.9 332.8v9.5M1041 332.8v9.5M1036 332.8v9.5M1032.8 332.8v9.5M1046.9 332.8v9.5M1032.4 332.8v9.5M1045.2 332.8v9.5M1045.8 332.8v9.5M1049.7 332.8v9.5M1058.2 332.8v9.5M1030.9 332.8v9.5M1035.9 332.8v9.5M1052 332.8v9.5M1044.1 332.8v9.5M1035.9 332.8v9.5M1036.3 332.8v9.5M1036.2 332.8v9.5M1060.4 332.8v9.5M1042.6 332.8v9.5M1049 332.8v9.5M1048.9 332.8v9.5M1054.9 332.8v9.5M1045.9 332.8v9.5M1042.7 332.8v9.5M1053.5 332.8v9.5M1040.7 332.8v9.5M1033.2 332.8v9.5M1062.9 332.8v9.5M1060.8 332.8v9.5M1045.1 332.8v9.5M1053.9 332.8v9.5M1057 332.8v9.5M1042.6 332.8v9.5M1036 332.8v9.5M1035.3 332.8v9.5M1059 332.8v9.5M1062.7 332.8v9.5M1044.8 332.8v9.5M1062.3 332.8v9.5M1045.6 332.8v9.5M1044.9 332.8v9.5M1038.9 332.8v9.5M1048.7 332.8v9.5M1042.9 332.8v9.5M1058.6 332.8v9.5M1061.4 332.8v9.5M1053.5 332.8v9.5M1044.4 332.8v9.5M1042.1 332.8v9.5M1062.1 332.8v9.5M1052.4 332.8v9.5M1065.8 332.8v9.5M1062 332.8v9.5M1067.9 332.8v9.5M1064 332.8v9.5M1065 332.8v9.5" stroke="#111" stroke-width="1.0" fill="none"/><rect x="657" y="40.3" width="425.6" height="302" fill="none" stroke="#2e2e2e" stroke-width="2"/><text class="t" x="629.3" y="307" transform="rotate(-90 629.3 307)" text-anchor="middle" font-size="18.7" fill="#2a2a2a">-2</text><text class="t" x="629.3" y="242.7" transform="rotate(-90 629.3 242.7)" text-anchor="middle" font-size="18.7" fill="#2a2a2a">-1</text><text class="t" x="629.3" y="178.4" transform="rotate(-90 629.3 178.4)" text-anchor="middle" font-size="18.7" fill="#2a2a2a">0</text><text class="t" x="629.3" y="114.1" transform="rotate(-90 629.3 114.1)" text-anchor="middle" font-size="18.7" fill="#2a2a2a">1</text><text class="t" x="629.3" y="49.8" transform="rotate(-90 629.3 49.8)" text-anchor="middle" font-size="18.7" fill="#2a2a2a">2</text><text class="t" x="722.6" y="383" text-anchor="middle" font-size="18.7" fill="#2a2a2a">31</text><text class="t" x="797.8" y="383" text-anchor="middle" font-size="18.7" fill="#2a2a2a">32</text><text class="t" x="873" y="383" text-anchor="middle" font-size="18.7" fill="#2a2a2a">33</text><text class="t" x="948.2" y="383" text-anchor="middle" font-size="18.7" fill="#2a2a2a">34</text><text class="t" x="1023.4" y="383" text-anchor="middle" font-size="18.7" fill="#2a2a2a">35</text><path d="M645 307H657M645 242.7H657M645 178.4H657M645 114.1H657M645 49.8H657M722.6 342.3V354.3M797.8 342.3V354.3M873 342.3V354.3M948.2 342.3V354.3M1023.4 342.3V354.3" stroke="#2e2e2e" stroke-width="2" fill="none"/><text class="t" x="869.8" y="427.9" text-anchor="middle" font-size="18.7" fill="#2a2a2a">so</text><text class="t" x="585" y="191.3" transform="rotate(-90 585 191.3)" text-anchor="middle" font-size="18.7" fill="#2a2a2a">s(so,2.97)</text></g><g><path d="M1236.7 151.4 L1237.7 151.6 L1238.7 151.7 L1239.7 151.9 L1240.7 152 L1241.7 152.2 L1242.7 152.4 L1243.7 152.5 L1244.7 152.7 L1245.7 152.8 L1246.7 153 L1247.7 153.2 L1248.7 153.3 L1249.7 153.5 L1250.7 153.6 L1251.7 153.8 L1252.7 153.9 L1253.7 154.1 L1254.7 154.2 L1255.7 154.4 L1256.7 154.5 L1257.7 154.7 L1258.7 154.9 L1259.7 155 L1260.7 155.2 L1261.7 155.3 L1262.7 155.5 L1263.7 155.6 L1264.7 155.8 L1265.7 155.9 L1266.7 156.1 L1267.7 156.2 L1268.7 156.4 L1269.7 156.5 L1270.7 156.7 L1271.7 156.8 L1272.7 156.9 L1273.7 157.1 L1274.7 157.2 L1275.7 157.4 L1276.7 157.5 L1277.7 157.7 L1278.7 157.8 L1279.7 158 L1280.7 158.1 L1281.7 158.2 L1282.7 158.4 L1283.7 158.5 L1284.7 158.7 L1285.7 158.8 L1286.7 159 L1287.7 159.1 L1288.7 159.2 L1289.7 159.4 L1290.7 159.5 L1291.7 159.6 L1292.7 159.8 L1293.7 159.9 L1294.7 160.1 L1295.7 160.2 L1296.7 160.3 L1297.7 160.5 L1298.7 160.6 L1299.7 160.7 L1300.7 160.9 L1301.7 161 L1302.7 161.1 L1303.7 161.3 L1304.7 161.4 L1305.7 161.5 L1306.7 161.7 L1307.7 161.8 L1308.7 161.9 L1309.7 162.1 L1310.7 162.2 L1311.7 162.3 L1312.7 162.5 L1313.7 162.6 L1314.7 162.7 L1315.7 162.8 L1316.7 163 L1317.7 163.1 L1318.7 163.2 L1319.7 163.3 L1320.7 163.5 L1321.7 163.6 L1322.7 163.7 L1323.7 163.8 L1324.7 164 L1325.7 164.1 L1326.7 164.2 L1327.7 164.3 L1328.7 164.5 L1329.7 164.6 L1330.7 164.7 L1331.7 164.8 L1332.7 164.9 L1333.7 165.1 L1334.7 165.2 L1335.7 165.3 L1336.7 165.4 L1337.7 165.5 L1338.7 165.7 L1339.7 165.8 L1340.7 165.9 L1341.7 166 L1342.7 166.1 L1343.7 166.2 L1344.7 166.3 L1345.7 166.5 L1346.7 166.6 L1347.7 166.7 L1348.7 166.8 L1349.7 166.9 L1350.7 167 L1351.7 167.1 L1352.7 167.2 L1353.7 167.4 L1354.7 167.5 L1355.7 167.6 L1356.7 167.7 L1357.7 167.8 L1358.7 167.9 L1359.7 168 L1360.7 168.1 L1361.7 168.2 L1362.7 168.3 L1363.7 168.4 L1364.7 168.5 L1365.7 168.7 L1366.7 168.8 L1367.7 168.9 L1368.7 169 L1369.7 169.1 L1370.7 169.2 L1371.7 169.3 L1372.7 169.4 L1373.7 169.5 L1374.7 169.6 L1375.7 169.7 L1376.7 169.8 L1377.7 169.9 L1378.7 170 L1379.7 170.1 L1380.7 170.2 L1381.7 170.3 L1382.7 170.4 L1383.7 170.5 L1384.7 170.6 L1385.7 170.7 L1386.7 170.7 L1387.7 170.8 L1388.7 170.9 L1389.7 171 L1390.7 171.1 L1391.7 171.2 L1392.7 171.3 L1393.7 171.4 L1394.7 171.5 L1395.7 171.6 L1396.7 171.7 L1397.7 171.8 L1398.7 171.9 L1399.7 171.9 L1400.7 172 L1401.7 172.1 L1402.7 172.2 L1403.7 172.3 L1404.7 172.4 L1405.7 172.5 L1406.7 172.6 L1407.7 172.6 L1408.7 172.7 L1409.7 172.8 L1410.7 172.9 L1411.7 173 L1412.7 173.1 L1413.7 173.1 L1414.7 173.2 L1415.7 173.3 L1416.7 173.4 L1417.7 173.5 L1418.7 173.5 L1419.7 173.6 L1420.7 173.7 L1421.7 173.8 L1422.7 173.9 L1423.7 173.9 L1424.7 174 L1425.7 174.1 L1426.7 174.2 L1427.7 174.2 L1428.7 174.3 L1429.7 174.4 L1430.7 174.5 L1431.7 174.5 L1432.7 174.6 L1433.7 174.7 L1434.7 174.8 L1435.7 174.8 L1436.7 174.9 L1437.7 175 L1438.7 175 L1439.7 175.1 L1440.7 175.2 L1441.7 175.2 L1442.7 175.3 L1443.7 175.4 L1444.7 175.4 L1445.7 175.5 L1446.7 175.6 L1447.7 175.6 L1448.7 175.7 L1449.7 175.8 L1450.7 175.8 L1451.7 175.9 L1452.7 176 L1453.7 176 L1454.7 176.1 L1455.7 176.2 L1456.7 176.2 L1457.7 176.3 L1458.7 176.3 L1459.7 176.4 L1460.7 176.5 L1461.7 176.5 L1462.7 176.6 L1463.7 176.6 L1464.7 176.7 L1465.7 176.7 L1466.7 176.8 L1467.7 176.9 L1468.7 176.9 L1469.7 177 L1470.7 177 L1471.7 177.1 L1472.7 177.1 L1473.7 177.2 L1474.7 177.2 L1475.7 177.3 L1476.7 177.3 L1477.7 177.4 L1478.7 177.4 L1479.7 177.5 L1480.7 177.5 L1481.7 177.6 L1482.7 177.6 L1483.7 177.7 L1484.7 177.7 L1485.7 177.8 L1486.7 177.8 L1487.7 177.9 L1488.7 177.9 L1489.7 178 L1490.7 178 L1491.7 178 L1492.7 178.1 L1493.7 178.1 L1494.7 178.2 L1495.7 178.2 L1496.7 178.3 L1497.7 178.3 L1498.7 178.3 L1499.7 178.4 L1500.7 178.4 L1501.7 178.4 L1502.7 178.5 L1503.7 178.5 L1504.7 178.6 L1505.7 178.6 L1506.7 178.6 L1507.7 178.7 L1508.7 178.7 L1509.7 178.7 L1510.7 178.8 L1511.7 178.8 L1512.7 178.8 L1513.7 178.9 L1514.7 178.9 L1515.7 178.9 L1516.7 179 L1517.7 179 L1518.7 179 L1519.7 179.1 L1520.7 179.1 L1521.7 179.1 L1522.7 179.1 L1523.7 179.2 L1524.7 179.2 L1525.7 179.2 L1526.7 179.2 L1527.7 179.3 L1528.7 179.3 L1529.7 179.3 L1530.7 179.3 L1531.7 179.4 L1532.7 179.4 L1533.7 179.4 L1534.7 179.4 L1535.7 179.4 L1536.7 179.5 L1537.7 179.5 L1538.7 179.5 L1539.7 179.5 L1540.7 179.5 L1541.7 179.6 L1542.7 179.6 L1543.7 179.6 L1544.7 179.6 L1545.7 179.6 L1546.7 179.6 L1547.7 179.7 L1548.7 179.7 L1549.7 179.7 L1550.7 179.7 L1551.7 179.7 L1552.7 179.7 L1553.7 179.7 L1554.7 179.7 L1555.7 179.7 L1556.7 179.8 L1557.7 179.8 L1558.7 179.8 L1559.7 179.8 L1560.7 179.8 L1561.7 179.8 L1562.7 179.8 L1563.7 179.8 L1564.7 179.8 L1565.7 179.8 L1566.7 179.8 L1567.7 179.8 L1568.7 179.8 L1569.7 179.8 L1570.7 179.8 L1571.7 179.8 L1572.7 179.8 L1573.7 179.8 L1574.7 179.8 L1575.7 179.8 L1576.7 179.8 L1577.7 179.8 L1578.7 179.8 L1579.7 179.8 L1580.7 179.8 L1581.7 179.8 L1582.7 179.8 L1583.7 179.8 L1584.7 179.8 L1585.7 179.8 L1586.7 179.8 L1587.7 179.8 L1588.7 179.8 L1589.7 179.8 L1590.7 179.8 L1591.7 179.7 L1592.7 179.7 L1593.7 179.7 L1594.7 179.7 L1595.7 179.7 L1596.7 179.7 L1597.7 179.7 L1598.7 179.7 L1599.7 179.7 L1600.7 179.6 L1601.7 179.6 L1602.7 179.6 L1603.7 179.6 L1604.7 179.6 L1605.7 179.6 L1606.7 179.5 L1607.7 179.5 L1608.7 179.5 L1609.7 179.5 L1610.7 179.5 L1611.7 179.4 L1612.7 179.4 L1613.7 179.4 L1614.7 179.4 L1615.7 179.4 L1616.7 179.3 L1617.7 179.3 L1618.7 179.3 L1619.7 179.3 L1620.7 179.2 L1621.7 179.2 L1622.7 179.2 L1623.7 179.2 L1624.7 179.1 L1625.7 179.1 L1626.7 179.1 L1627.7 179 L1628.7 179 L1629.7 179 L1630.7 178.9 L1631.4 178.9 L1631.4 201.9 L1630.7 201.8 L1629.7 201.6 L1628.7 201.5 L1627.7 201.3 L1626.7 201.1 L1625.7 201 L1624.7 200.8 L1623.7 200.6 L1622.7 200.4 L1621.7 200.3 L1620.7 200.1 L1619.7 199.9 L1618.7 199.8 L1617.7 199.6 L1616.7 199.4 L1615.7 199.2 L1614.7 199.1 L1613.7 198.9 L1612.7 198.7 L1611.7 198.6 L1610.7 198.4 L1609.7 198.2 L1608.7 198.1 L1607.7 197.9 L1606.7 197.8 L1605.7 197.6 L1604.7 197.4 L1603.7 197.3 L1602.7 197.1 L1601.7 196.9 L1600.7 196.8 L1599.7 196.6 L1598.7 196.5 L1597.7 196.3 L1596.7 196.2 L1595.7 196 L1594.7 195.8 L1593.7 195.7 L1592.7 195.5 L1591.7 195.4 L1590.7 195.2 L1589.7 195.1 L1588.7 194.9 L1587.7 194.8 L1586.7 194.6 L1585.7 194.5 L1584.7 194.3 L1583.7 194.2 L1582.7 194 L1581.7 193.9 L1580.7 193.7 L1579.7 193.6 L1578.7 193.4 L1577.7 193.3 L1576.7 193.1 L1575.7 193 L1574.7 192.8 L1573.7 192.7 L1572.7 192.5 L1571.7 192.4 L1570.7 192.3 L1569.7 192.1 L1568.7 192 L1567.7 191.8 L1566.7 191.7 L1565.7 191.5 L1564.7 191.4 L1563.7 191.3 L1562.7 191.1 L1561.7 191 L1560.7 190.9 L1559.7 190.7 L1558.7 190.6 L1557.7 190.5 L1556.7 190.3 L1555.7 190.2 L1554.7 190.1 L1553.7 189.9 L1552.7 189.8 L1551.7 189.7 L1550.7 189.5 L1549.7 189.4 L1548.7 189.3 L1547.7 189.1 L1546.7 189 L1545.7 188.9 L1544.7 188.8 L1543.7 188.6 L1542.7 188.5 L1541.7 188.4 L1540.7 188.3 L1539.7 188.1 L1538.7 188 L1537.7 187.9 L1536.7 187.8 L1535.7 187.7 L1534.7 187.5 L1533.7 187.4 L1532.7 187.3 L1531.7 187.2 L1530.7 187.1 L1529.7 187 L1528.7 186.8 L1527.7 186.7 L1526.7 186.6 L1525.7 186.5 L1524.7 186.4 L1523.7 186.3 L1522.7 186.2 L1521.7 186.1 L1520.7 186 L1519.7 185.8 L1518.7 185.7 L1517.7 185.6 L1516.7 185.5 L1515.7 185.4 L1514.7 185.3 L1513.7 185.2 L1512.7 185.1 L1511.7 185 L1510.7 184.9 L1509.7 184.8 L1508.7 184.7 L1507.7 184.6 L1506.7 184.5 L1505.7 184.4 L1504.7 184.3 L1503.7 184.2 L1502.7 184.1 L1501.7 184 L1500.7 183.9 L1499.7 183.8 L1498.7 183.7 L1497.7 183.6 L1496.7 183.6 L1495.7 183.5 L1494.7 183.4 L1493.7 183.3 L1492.7 183.2 L1491.7 183.1 L1490.7 183 L1489.7 182.9 L1488.7 182.8 L1487.7 182.8 L1486.7 182.7 L1485.7 182.6 L1484.7 182.5 L1483.7 182.4 L1482.7 182.4 L1481.7 182.3 L1480.7 182.2 L1479.7 182.1 L1478.7 182 L1477.7 182 L1476.7 181.9 L1475.7 181.8 L1474.7 181.7 L1473.7 181.7 L1472.7 181.6 L1471.7 181.5 L1470.7 181.4 L1469.7 181.4 L1468.7 181.3 L1467.7 181.2 L1466.7 181.2 L1465.7 181.1 L1464.7 181 L1463.7 181 L1462.7 180.9 L1461.7 180.8 L1460.7 180.8 L1459.7 180.7 L1458.7 180.7 L1457.7 180.6 L1456.7 180.5 L1455.7 180.5 L1454.7 180.4 L1453.7 180.4 L1452.7 180.3 L1451.7 180.2 L1450.7 180.2 L1449.7 180.1 L1448.7 180.1 L1447.7 180 L1446.7 180 L1445.7 179.9 L1444.7 179.9 L1443.7 179.8 L1442.7 179.8 L1441.7 179.7 L1440.7 179.7 L1439.7 179.6 L1438.7 179.6 L1437.7 179.5 L1436.7 179.5 L1435.7 179.4 L1434.7 179.4 L1433.7 179.3 L1432.7 179.3 L1431.7 179.3 L1430.7 179.2 L1429.7 179.2 L1428.7 179.1 L1427.7 179.1 L1426.7 179.1 L1425.7 179 L1424.7 179 L1423.7 179 L1422.7 178.9 L1421.7 178.9 L1420.7 178.8 L1419.7 178.8 L1418.7 178.8 L1417.7 178.7 L1416.7 178.7 L1415.7 178.7 L1414.7 178.7 L1413.7 178.6 L1412.7 178.6 L1411.7 178.6 L1410.7 178.5 L1409.7 178.5 L1408.7 178.5 L1407.7 178.5 L1406.7 178.4 L1405.7 178.4 L1404.7 178.4 L1403.7 178.4 L1402.7 178.3 L1401.7 178.3 L1400.7 178.3 L1399.7 178.3 L1398.7 178.3 L1397.7 178.2 L1396.7 178.2 L1395.7 178.2 L1394.7 178.2 L1393.7 178.2 L1392.7 178.2 L1391.7 178.1 L1390.7 178.1 L1389.7 178.1 L1388.7 178.1 L1387.7 178.1 L1386.7 178.1 L1385.7 178.1 L1384.7 178.1 L1383.7 178.1 L1382.7 178 L1381.7 178 L1380.7 178 L1379.7 178 L1378.7 178 L1377.7 178 L1376.7 178 L1375.7 178 L1374.7 178 L1373.7 178 L1372.7 178 L1371.7 178 L1370.7 178 L1369.7 178 L1368.7 178 L1367.7 178 L1366.7 178 L1365.7 178 L1364.7 178 L1363.7 178 L1362.7 178 L1361.7 178 L1360.7 178 L1359.7 178 L1358.7 178 L1357.7 178 L1356.7 178 L1355.7 178 L1354.7 178 L1353.7 178 L1352.7 178.1 L1351.7 178.1 L1350.7 178.1 L1349.7 178.1 L1348.7 178.1 L1347.7 178.1 L1346.7 178.1 L1345.7 178.1 L1344.7 178.1 L1343.7 178.2 L1342.7 178.2 L1341.7 178.2 L1340.7 178.2 L1339.7 178.2 L1338.7 178.2 L1337.7 178.3 L1336.7 178.3 L1335.7 178.3 L1334.7 178.3 L1333.7 178.3 L1332.7 178.4 L1331.7 178.4 L1330.7 178.4 L1329.7 178.4 L1328.7 178.4 L1327.7 178.5 L1326.7 178.5 L1325.7 178.5 L1324.7 178.5 L1323.7 178.6 L1322.7 178.6 L1321.7 178.6 L1320.7 178.6 L1319.7 178.7 L1318.7 178.7 L1317.7 178.7 L1316.7 178.8 L1315.7 178.8 L1314.7 178.8 L1313.7 178.8 L1312.7 178.9 L1311.7 178.9 L1310.7 178.9 L1309.7 179 L1308.7 179 L1307.7 179 L1306.7 179.1 L1305.7 179.1 L1304.7 179.1 L1303.7 179.2 L1302.7 179.2 L1301.7 179.2 L1300.7 179.3 L1299.7 179.3 L1298.7 179.4 L1297.7 179.4 L1296.7 179.4 L1295.7 179.5 L1294.7 179.5 L1293.7 179.5 L1292.7 179.6 L1291.7 179.6 L1290.7 179.7 L1289.7 179.7 L1288.7 179.8 L1287.7 179.8 L1286.7 179.8 L1285.7 179.9 L1284.7 179.9 L1283.7 180 L1282.7 180 L1281.7 180.1 L1280.7 180.1 L1279.7 180.2 L1278.7 180.2 L1277.7 180.3 L1276.7 180.3 L1275.7 180.3 L1274.7 180.4 L1273.7 180.4 L1272.7 180.5 L1271.7 180.5 L1270.7 180.6 L1269.7 180.6 L1268.7 180.7 L1267.7 180.7 L1266.7 180.8 L1265.7 180.9 L1264.7 180.9 L1263.7 181 L1262.7 181 L1261.7 181.1 L1260.7 181.1 L1259.7 181.2 L1258.7 181.2 L1257.7 181.3 L1256.7 181.3 L1255.7 181.4 L1254.7 181.5 L1253.7 181.5 L1252.7 181.6 L1251.7 181.6 L1250.7 181.7 L1249.7 181.8 L1248.7 181.8 L1247.7 181.9 L1246.7 181.9 L1245.7 182 L1244.7 182.1 L1243.7 182.1 L1242.7 182.2 L1241.7 182.2 L1240.7 182.3 L1239.7 182.4 L1238.7 182.4 L1237.7 182.5 L1236.7 182.6Z" fill="#add8e6"/><path d="M1236 213.3h2.1v2.1h-2.1zM1243 109.2h2.1v2.1h-2.1zM1250 228.2h2.1v2.1h-2.1zM1252 160.8h2.1v2.1h-2.1zM1254.2 220.7h2.1v2.1h-2.1zM1269 152.3h2.1v2.1h-2.1zM1281 183h2.1v2.1h-2.1zM1292.9 182.6h2.1v2.1h-2.1zM1305.5 159h2.1v2.1h-2.1zM1315.4 171.4h2.1v2.1h-2.1zM1317 217.8h2.1v2.1h-2.1zM1319.5 131.3h2.1v2.1h-2.1zM1579 188h2.1v2.1h-2.1zM1582 208h2.1v2.1h-2.1zM1585 185.9h2.1v2.1h-2.1zM1588 191.4h2.1v2.1h-2.1zM1591 269.6h2.1v2.1h-2.1zM1595 168.3h2.1v2.1h-2.1zM1598 139h2.1v2.1h-2.1zM1601 202.1h2.1v2.1h-2.1zM1603 229.8h2.1v2.1h-2.1zM1606 180h2.1v2.1h-2.1zM1609 127.5h2.1v2.1h-2.1zM1612 186.5h2.1v2.1h-2.1zM1616 189.3h2.1v2.1h-2.1zM1619 145.2h2.1v2.1h-2.1zM1622 196.8h2.1v2.1h-2.1zM1630 178.9h2.1v2.1h-2.1zM1433.6 223.4h2.1v2.1h-2.1zM1421.2 244.6h2.1v2.1h-2.1zM1460.3 183.7h2.1v2.1h-2.1zM1494.8 164.6h2.1v2.1h-2.1zM1454.7 147.2h2.1v2.1h-2.1zM1461.4 258.7h2.1v2.1h-2.1zM1452.4 169.9h2.1v2.1h-2.1zM1347.9 163.9h2.1v2.1h-2.1zM1361.4 195.8h2.1v2.1h-2.1zM1427.3 231.9h2.1v2.1h-2.1zM1421.9 142.8h2.1v2.1h-2.1zM1460.6 148.3h2.1v2.1h-2.1zM1487.7 186.1h2.1v2.1h-2.1zM1410.4 186.6h2.1v2.1h-2.1zM1473.7 188.5h2.1v2.1h-2.1zM1427.2 161.2h2.1v2.1h-2.1zM1436.2 155.1h2.1v2.1h-2.1zM1379.8 188.5h2.1v2.1h-2.1zM1443.5 191.1h2.1v2.1h-2.1zM1513.3 222.7h2.1v2.1h-2.1zM1358.8 136.6h2.1v2.1h-2.1zM1431.7 210.6h2.1v2.1h-2.1zM1447.7 156.6h2.1v2.1h-2.1zM1444.7 234.5h2.1v2.1h-2.1zM1522.1 235.8h2.1v2.1h-2.1zM1479.5 198.2h2.1v2.1h-2.1zM1432.5 171.3h2.1v2.1h-2.1zM1499.5 150.4h2.1v2.1h-2.1zM1418.7 172.7h2.1v2.1h-2.1zM1421.1 175h2.1v2.1h-2.1zM1506 180.2h2.1v2.1h-2.1zM1530.3 211.1h2.1v2.1h-2.1zM1478.3 132.7h2.1v2.1h-2.1zM1389.6 192.3h2.1v2.1h-2.1zM1368 190.3h2.1v2.1h-2.1zM1492.2 146.2h2.1v2.1h-2.1zM1501.3 189.2h2.1v2.1h-2.1zM1408.6 181.8h2.1v2.1h-2.1zM1516.1 139.6h2.1v2.1h-2.1zM1419.7 121.9h2.1v2.1h-2.1zM1371 193.2h2.1v2.1h-2.1zM1446.6 221.5h2.1v2.1h-2.1zM1463.3 155.7h2.1v2.1h-2.1zM1387.9 156.7h2.1v2.1h-2.1zM1493.7 218.3h2.1v2.1h-2.1zM1427.2 188.3h2.1v2.1h-2.1zM1488.8 244.5h2.1v2.1h-2.1zM1468.1 195.8h2.1v2.1h-2.1zM1376.5 225.6h2.1v2.1h-2.1zM1382.7 162.1h2.1v2.1h-2.1zM1458.3 186h2.1v2.1h-2.1zM1430.2 198.8h2.1v2.1h-2.1zM1507.7 169.8h2.1v2.1h-2.1zM1447.2 176.2h2.1v2.1h-2.1zM1402 157.3h2.1v2.1h-2.1zM1540.4 250h2.1v2.1h-2.1zM1406.7 178h2.1v2.1h-2.1zM1399.9 208.3h2.1v2.1h-2.1zM1379 153.5h2.1v2.1h-2.1zM1509.2 156.2h2.1v2.1h-2.1zM1485.4 162.4h2.1v2.1h-2.1zM1418.9 162.4h2.1v2.1h-2.1zM1376.3 172.2h2.1v2.1h-2.1zM1472.6 194.9h2.1v2.1h-2.1zM1510.4 188.8h2.1v2.1h-2.1zM1422.6 157.4h2.1v2.1h-2.1zM1397.6 167.6h2.1v2.1h-2.1zM1431.8 224.1h2.1v2.1h-2.1zM1448.9 187.4h2.1v2.1h-2.1zM1445.9 189.9h2.1v2.1h-2.1zM1447.3 227h2.1v2.1h-2.1zM1413.1 162.9h2.1v2.1h-2.1zM1431.2 215.6h2.1v2.1h-2.1zM1508.6 150.8h2.1v2.1h-2.1zM1465.7 201.6h2.1v2.1h-2.1zM1569.2 202.5h2.1v2.1h-2.1zM1448.7 173.9h2.1v2.1h-2.1zM1427.1 147.9h2.1v2.1h-2.1zM1470.1 161.2h2.1v2.1h-2.1zM1515.5 111.4h2.1v2.1h-2.1zM1443.5 176.3h2.1v2.1h-2.1zM1453.3 146.9h2.1v2.1h-2.1zM1510.4 255.9h2.1v2.1h-2.1zM1459.8 240.3h2.1v2.1h-2.1zM1432.8 172.1h2.1v2.1h-2.1zM1378.7 181.2h2.1v2.1h-2.1zM1454.2 182.3h2.1v2.1h-2.1zM1359.4 144.5h2.1v2.1h-2.1zM1389.6 133.8h2.1v2.1h-2.1zM1410.1 206.1h2.1v2.1h-2.1zM1379 124h2.1v2.1h-2.1zM1408.6 188.3h2.1v2.1h-2.1zM1425.9 150.5h2.1v2.1h-2.1zM1424.5 169.3h2.1v2.1h-2.1zM1435.9 161.2h2.1v2.1h-2.1zM1479.1 219.4h2.1v2.1h-2.1zM1390 151.7h2.1v2.1h-2.1zM1506.8 192.7h2.1v2.1h-2.1zM1376 179.9h2.1v2.1h-2.1zM1378.2 159.7h2.1v2.1h-2.1zM1376.6 191.3h2.1v2.1h-2.1zM1473.9 250.6h2.1v2.1h-2.1zM1422.4 206.8h2.1v2.1h-2.1zM1419.8 159.1h2.1v2.1h-2.1zM1434.2 150.1h2.1v2.1h-2.1zM1501.5 220.4h2.1v2.1h-2.1zM1506.9 141.2h2.1v2.1h-2.1zM1477.2 223.4h2.1v2.1h-2.1zM1425.9 160.5h2.1v2.1h-2.1zM1406.4 182.9h2.1v2.1h-2.1zM1446.5 145.7h2.1v2.1h-2.1zM1506 216.3h2.1v2.1h-2.1zM1385.6 172.6h2.1v2.1h-2.1zM1450.5 244h2.1v2.1h-2.1zM1488.8 166.3h2.1v2.1h-2.1zM1461.5 194.2h2.1v2.1h-2.1zM1494.6 202.7h2.1v2.1h-2.1zM1430.1 252.5h2.1v2.1h-2.1zM1573.2 190.1h2.1v2.1h-2.1zM1407.3 244.5h2.1v2.1h-2.1zM1441 192.5h2.1v2.1h-2.1zM1481.4 229.7h2.1v2.1h-2.1zM1453.8 184.8h2.1v2.1h-2.1zM1410 152.1h2.1v2.1h-2.1zM1458.7 230.3h2.1v2.1h-2.1zM1515.8 135.1h2.1v2.1h-2.1zM1441.7 208.3h2.1v2.1h-2.1zM1421.7 143.3h2.1v2.1h-2.1zM1484 166.8h2.1v2.1h-2.1zM1549.9 197.7h2.1v2.1h-2.1zM1426.1 150h2.1v2.1h-2.1zM1418.8 236.7h2.1v2.1h-2.1zM1483.7 200.2h2.1v2.1h-2.1zM1566.4 254.3h2.1v2.1h-2.1zM1397.4 117.8h2.1v2.1h-2.1zM1475.6 182.5h2.1v2.1h-2.1zM1404.4 193.3h2.1v2.1h-2.1zM1404.1 213h2.1v2.1h-2.1zM1533.7 113.7h2.1v2.1h-2.1zM1398.6 164.6h2.1v2.1h-2.1zM1372.7 176.3h2.1v2.1h-2.1zM1514.2 161.7h2.1v2.1h-2.1zM1476.8 154.3h2.1v2.1h-2.1zM1435.9 170.4h2.1v2.1h-2.1zM1461.7 211.9h2.1v2.1h-2.1zM1464.2 139.3h2.1v2.1h-2.1zM1562.8 137.1h2.1v2.1h-2.1zM1421.7 130.6h2.1v2.1h-2.1zM1387.1 145.9h2.1v2.1h-2.1zM1447.8 180.6h2.1v2.1h-2.1zM1394.9 168h2.1v2.1h-2.1zM1420.8 145.4h2.1v2.1h-2.1zM1405.5 182.9h2.1v2.1h-2.1zM1408.1 134.7h2.1v2.1h-2.1zM1453.9 165.4h2.1v2.1h-2.1zM1430.4 160.1h2.1v2.1h-2.1zM1491.3 188.3h2.1v2.1h-2.1zM1358.7 141h2.1v2.1h-2.1zM1456.8 208.1h2.1v2.1h-2.1zM1408.9 181.4h2.1v2.1h-2.1zM1459 131.4h2.1v2.1h-2.1zM1399.3 198.1h2.1v2.1h-2.1zM1391.2 210.1h2.1v2.1h-2.1zM1466.1 173.4h2.1v2.1h-2.1zM1431.1 166.4h2.1v2.1h-2.1zM1451.2 161.6h2.1v2.1h-2.1zM1485.2 155.4h2.1v2.1h-2.1zM1432.8 146.5h2.1v2.1h-2.1zM1419.1 171.6h2.1v2.1h-2.1zM1451.8 140.5h2.1v2.1h-2.1zM1492.5 154h2.1v2.1h-2.1zM1433.7 168.4h2.1v2.1h-2.1zM1468.6 194.6h2.1v2.1h-2.1zM1390.3 200.6h2.1v2.1h-2.1zM1468 213.3h2.1v2.1h-2.1zM1484.9 209.6h2.1v2.1h-2.1zM1545.7 207.3h2.1v2.1h-2.1zM1518.8 253.9h2.1v2.1h-2.1zM1397.4 195.2h2.1v2.1h-2.1zM1414.5 193.9h2.1v2.1h-2.1zM1509.4 177.3h2.1v2.1h-2.1zM1468.2 149.6h2.1v2.1h-2.1zM1507 158.9h2.1v2.1h-2.1zM1343.5 162h2.1v2.1h-2.1zM1438.1 177.9h2.1v2.1h-2.1zM1430.4 195.6h2.1v2.1h-2.1zM1452 163.6h2.1v2.1h-2.1zM1410.8 186.2h2.1v2.1h-2.1zM1410.6 165.3h2.1v2.1h-2.1zM1422.4 159.5h2.1v2.1h-2.1zM1405.9 226.3h2.1v2.1h-2.1zM1415.3 116.8h2.1v2.1h-2.1zM1406.5 143.9h2.1v2.1h-2.1zM1397.8 99.8h2.1v2.1h-2.1zM1422.3 174.4h2.1v2.1h-2.1zM1499.7 210.4h2.1v2.1h-2.1zM1413 164.6h2.1v2.1h-2.1zM1420 186.9h2.1v2.1h-2.1zM1455.1 171h2.1v2.1h-2.1zM1403.5 185.7h2.1v2.1h-2.1zM1372.1 192.8h2.1v2.1h-2.1zM1441.9 237.1h2.1v2.1h-2.1zM1480 132.3h2.1v2.1h-2.1zM1368.7 119h2.1v2.1h-2.1zM1448.9 157.8h2.1v2.1h-2.1zM1441.5 140.2h2.1v2.1h-2.1zM1414.5 148.9h2.1v2.1h-2.1zM1497.8 171.6h2.1v2.1h-2.1zM1432.2 169.4h2.1v2.1h-2.1zM1432.9 195.2h2.1v2.1h-2.1zM1535.7 169.2h2.1v2.1h-2.1zM1433.7 183h2.1v2.1h-2.1zM1368.5 175.5h2.1v2.1h-2.1zM1566.4 189.3h2.1v2.1h-2.1zM1523.4 171.4h2.1v2.1h-2.1zM1493.7 163.1h2.1v2.1h-2.1zM1458.4 114.4h2.1v2.1h-2.1zM1499.8 179.5h2.1v2.1h-2.1zM1433.9 182.5h2.1v2.1h-2.1zM1493.1 158.7h2.1v2.1h-2.1zM1504.4 221.9h2.1v2.1h-2.1zM1459.9 139h2.1v2.1h-2.1zM1430.6 223.5h2.1v2.1h-2.1zM1429.7 155.6h2.1v2.1h-2.1zM1412.9 201.7h2.1v2.1h-2.1zM1427.6 181.4h2.1v2.1h-2.1zM1414.1 212.4h2.1v2.1h-2.1zM1450.8 149.6h2.1v2.1h-2.1zM1450.7 201.4h2.1v2.1h-2.1zM1425.9 189.6h2.1v2.1h-2.1zM1461.4 239.5h2.1v2.1h-2.1zM1551.3 188.6h2.1v2.1h-2.1zM1458.3 128.9h2.1v2.1h-2.1zM1440.4 192.6h2.1v2.1h-2.1zM1476.9 221.6h2.1v2.1h-2.1zM1360 209.5h2.1v2.1h-2.1zM1503 169.9h2.1v2.1h-2.1zM1453.9 148.3h2.1v2.1h-2.1zM1426 147.6h2.1v2.1h-2.1zM1485.3 194.3h2.1v2.1h-2.1zM1439.6 165h2.1v2.1h-2.1zM1399.9 169.4h2.1v2.1h-2.1zM1435.2 152.3h2.1v2.1h-2.1zM1402.6 103.5h2.1v2.1h-2.1zM1448.9 181.1h2.1v2.1h-2.1zM1433.7 159.8h2.1v2.1h-2.1zM1443.4 153h2.1v2.1h-2.1zM1383.1 107.7h2.1v2.1h-2.1zM1395.8 127.9h2.1v2.1h-2.1zM1524 168.2h2.1v2.1h-2.1zM1560 210h2.1v2.1h-2.1zM1497.9 202.2h2.1v2.1h-2.1zM1498.8 179.1h2.1v2.1h-2.1zM1523.8 230h2.1v2.1h-2.1zM1502.7 157h2.1v2.1h-2.1zM1498 184.9h2.1v2.1h-2.1zM1377.7 170.5h2.1v2.1h-2.1zM1448.1 138.6h2.1v2.1h-2.1zM1432.7 185.1h2.1v2.1h-2.1zM1477.5 169.6h2.1v2.1h-2.1zM1469.8 168.9h2.1v2.1h-2.1zM1447.7 192h2.1v2.1h-2.1zM1579.4 221.4h2.1v2.1h-2.1zM1501.5 146h2.1v2.1h-2.1zM1420 161h2.1v2.1h-2.1zM1450.1 207.2h2.1v2.1h-2.1zM1502.1 197.3h2.1v2.1h-2.1zM1435 157.8h2.1v2.1h-2.1zM1515.1 161.1h2.1v2.1h-2.1zM1471.2 170.6h2.1v2.1h-2.1zM1471.5 175.3h2.1v2.1h-2.1zM1452.1 223.1h2.1v2.1h-2.1zM1488.7 212.5h2.1v2.1h-2.1zM1396.3 218.8h2.1v2.1h-2.1zM1415.3 144.8h2.1v2.1h-2.1zM1406.5 167.8h2.1v2.1h-2.1zM1523.5 161h2.1v2.1h-2.1zM1428.4 159.4h2.1v2.1h-2.1zM1430.1 169.9h2.1v2.1h-2.1zM1440.2 193h2.1v2.1h-2.1zM1422.8 205.1h2.1v2.1h-2.1zM1348.9 144.5h2.1v2.1h-2.1zM1445.6 146.3h2.1v2.1h-2.1zM1398.6 185.2h2.1v2.1h-2.1zM1443.8 196.7h2.1v2.1h-2.1zM1406 167.8h2.1v2.1h-2.1zM1494.7 158.7h2.1v2.1h-2.1zM1445.4 163.5h2.1v2.1h-2.1zM1499 161.5h2.1v2.1h-2.1zM1433 143.6h2.1v2.1h-2.1zM1380 210.3h2.1v2.1h-2.1zM1469.2 221.2h2.1v2.1h-2.1zM1406.1 191.8h2.1v2.1h-2.1zM1414.6 161.9h2.1v2.1h-2.1zM1547.2 192.5h2.1v2.1h-2.1zM1476.2 172h2.1v2.1h-2.1zM1497.4 192.9h2.1v2.1h-2.1zM1425.5 208.1h2.1v2.1h-2.1zM1387 177.9h2.1v2.1h-2.1zM1430 106.4h2.1v2.1h-2.1zM1539.3 183h2.1v2.1h-2.1zM1444.1 205.7h2.1v2.1h-2.1zM1464.8 170h2.1v2.1h-2.1zM1516.8 195.2h2.1v2.1h-2.1zM1344.4 111.5h2.1v2.1h-2.1zM1502.9 161.3h2.1v2.1h-2.1zM1473 145.7h2.1v2.1h-2.1zM1447.8 166.3h2.1v2.1h-2.1zM1458.1 167.6h2.1v2.1h-2.1zM1434.6 179.6h2.1v2.1h-2.1zM1431.3 217.4h2.1v2.1h-2.1zM1410.8 178.8h2.1v2.1h-2.1zM1358 152.1h2.1v2.1h-2.1zM1378.3 152h2.1v2.1h-2.1zM1550.3 202.1h2.1v2.1h-2.1zM1390.7 135.9h2.1v2.1h-2.1zM1378.3 198.4h2.1v2.1h-2.1zM1492.2 201.4h2.1v2.1h-2.1zM1468 172.6h2.1v2.1h-2.1zM1416.5 206.7h2.1v2.1h-2.1zM1402.6 148.7h2.1v2.1h-2.1zM1361.1 187.6h2.1v2.1h-2.1zM1339.6 180.2h2.1v2.1h-2.1zM1333.5 192.4h2.1v2.1h-2.1zM1389.9 184.1h2.1v2.1h-2.1zM1442.6 161.7h2.1v2.1h-2.1zM1437.8 142.7h2.1v2.1h-2.1zM1486.3 197.4h2.1v2.1h-2.1zM1530 211.9h2.1v2.1h-2.1zM1447.1 126.7h2.1v2.1h-2.1zM1394.4 208.3h2.1v2.1h-2.1zM1548.2 208.4h2.1v2.1h-2.1zM1363 122.9h2.1v2.1h-2.1zM1471.8 189.3h2.1v2.1h-2.1zM1367.7 177h2.1v2.1h-2.1zM1458.3 183.4h2.1v2.1h-2.1zM1554.8 162.7h2.1v2.1h-2.1zM1352.1 222h2.1v2.1h-2.1zM1530.3 211h2.1v2.1h-2.1zM1356.8 237.9h2.1v2.1h-2.1zM1502.9 164.3h2.1v2.1h-2.1zM1412.3 158.3h2.1v2.1h-2.1zM1442 185.3h2.1v2.1h-2.1zM1415.5 161.1h2.1v2.1h-2.1zM1540 206.5h2.1v2.1h-2.1zM1441 130.3h2.1v2.1h-2.1zM1463.3 154.6h2.1v2.1h-2.1zM1449 171.2h2.1v2.1h-2.1zM1426.2 172.2h2.1v2.1h-2.1zM1376.5 188.9h2.1v2.1h-2.1zM1398.8 263.5h2.1v2.1h-2.1zM1518.1 180h2.1v2.1h-2.1zM1437.5 155h2.1v2.1h-2.1zM1431.5 135.2h2.1v2.1h-2.1zM1483.1 151h2.1v2.1h-2.1zM1543.5 151.8h2.1v2.1h-2.1zM1377.2 249.8h2.1v2.1h-2.1zM1523.6 175.2h2.1v2.1h-2.1zM1520.3 141.5h2.1v2.1h-2.1zM1378.5 187.9h2.1v2.1h-2.1zM1360.6 204.5h2.1v2.1h-2.1zM1548.9 175.8h2.1v2.1h-2.1zM1386.5 137.7h2.1v2.1h-2.1zM1335.8 211.5h2.1v2.1h-2.1zM1354.8 159.8h2.1v2.1h-2.1zM1395 183.4h2.1v2.1h-2.1zM1330.5 220.5h2.1v2.1h-2.1zM1409.4 104.7h2.1v2.1h-2.1zM1456.8 200.3h2.1v2.1h-2.1zM1507 199.2h2.1v2.1h-2.1zM1525.1 151.2h2.1v2.1h-2.1zM1527.4 187.6h2.1v2.1h-2.1zM1542.9 220.3h2.1v2.1h-2.1zM1420.8 187.4h2.1v2.1h-2.1zM1508.4 180.5h2.1v2.1h-2.1zM1470.8 168.8h2.1v2.1h-2.1zM1329.6 192.5h2.1v2.1h-2.1zM1367.2 168.5h2.1v2.1h-2.1zM1370.9 195.4h2.1v2.1h-2.1zM1372.9 125.2h2.1v2.1h-2.1zM1372.7 195.6h2.1v2.1h-2.1zM1397.6 215.8h2.1v2.1h-2.1zM1368.8 218.9h2.1v2.1h-2.1zM1379.2 154h2.1v2.1h-2.1zM1375.5 158.8h2.1v2.1h-2.1zM1474.4 205.4h2.1v2.1h-2.1zM1390.5 122.9h2.1v2.1h-2.1zM1350.3 195.1h2.1v2.1h-2.1zM1537.5 182.8h2.1v2.1h-2.1zM1416.2 162.7h2.1v2.1h-2.1zM1553.7 205h2.1v2.1h-2.1zM1479.6 168.4h2.1v2.1h-2.1zM1370.9 144.7h2.1v2.1h-2.1zM1351.6 165h2.1v2.1h-2.1zM1524.7 228.7h2.1v2.1h-2.1zM1390.2 205.3h2.1v2.1h-2.1zM1334.4 176.4h2.1v2.1h-2.1zM1479.3 153.5h2.1v2.1h-2.1zM1325.4 164h2.1v2.1h-2.1zM1338.7 161h2.1v2.1h-2.1zM1501.2 120.8h2.1v2.1h-2.1zM1389 155.7h2.1v2.1h-2.1zM1501.3 142.4h2.1v2.1h-2.1zM1460.8 205.7h2.1v2.1h-2.1zM1336.3 204.5h2.1v2.1h-2.1zM1541.4 224.1h2.1v2.1h-2.1zM1399 144.7h2.1v2.1h-2.1zM1490.4 186.6h2.1v2.1h-2.1zM1473.4 100.2h2.1v2.1h-2.1zM1412.7 161.9h2.1v2.1h-2.1zM1528.9 203.5h2.1v2.1h-2.1zM1336.4 108.4h2.1v2.1h-2.1zM1392.7 126.9h2.1v2.1h-2.1zM1540.3 190.2h2.1v2.1h-2.1zM1368.4 165.4h2.1v2.1h-2.1zM1422.9 115.9h2.1v2.1h-2.1zM1522.7 165.7h2.1v2.1h-2.1zM1381.9 149h2.1v2.1h-2.1zM1392.3 166.5h2.1v2.1h-2.1zM1374.7 197h2.1v2.1h-2.1zM1495.1 149.7h2.1v2.1h-2.1zM1444.6 196.5h2.1v2.1h-2.1zM1422.5 165.9h2.1v2.1h-2.1zM1531.8 151.2h2.1v2.1h-2.1zM1479.7 202.4h2.1v2.1h-2.1zM1351.2 161.4h2.1v2.1h-2.1zM1551.6 157.5h2.1v2.1h-2.1zM1480.1 135.5h2.1v2.1h-2.1zM1517.6 209.7h2.1v2.1h-2.1zM1455.4 190h2.1v2.1h-2.1zM1553.4 197.1h2.1v2.1h-2.1zM1408.7 170.5h2.1v2.1h-2.1zM1428.3 203h2.1v2.1h-2.1zM1448.2 154.6h2.1v2.1h-2.1zM1396.9 227.8h2.1v2.1h-2.1zM1444.4 108.3h2.1v2.1h-2.1zM1541 198.5h2.1v2.1h-2.1zM1499.8 128.8h2.1v2.1h-2.1zM1369 172.5h2.1v2.1h-2.1zM1506.2 175.8h2.1v2.1h-2.1zM1341.1 104.6h2.1v2.1h-2.1zM1361.5 178.4h2.1v2.1h-2.1zM1415.9 170.2h2.1v2.1h-2.1zM1472.3 166.7h2.1v2.1h-2.1zM1356.9 147.8h2.1v2.1h-2.1zM1460.5 146.5h2.1v2.1h-2.1zM1458.9 160.5h2.1v2.1h-2.1zM1544.7 169.7h2.1v2.1h-2.1zM1400.1 160.7h2.1v2.1h-2.1zM1546.2 165.1h2.1v2.1h-2.1zM1388.6 207.8h2.1v2.1h-2.1zM1523.6 235.8h2.1v2.1h-2.1zM1478.7 152.7h2.1v2.1h-2.1zM1473 162.1h2.1v2.1h-2.1zM1419 159.7h2.1v2.1h-2.1zM1346.7 194.1h2.1v2.1h-2.1zM1429 218h2.1v2.1h-2.1zM1431 172.8h2.1v2.1h-2.1zM1463.7 138.2h2.1v2.1h-2.1zM1335.4 214.3h2.1v2.1h-2.1zM1436.6 205.6h2.1v2.1h-2.1zM1532.1 130.7h2.1v2.1h-2.1zM1525.9 225.9h2.1v2.1h-2.1zM1427.1 178.9h2.1v2.1h-2.1zM1445.7 193.7h2.1v2.1h-2.1zM1532 187h2.1v2.1h-2.1zM1558.2 208.4h2.1v2.1h-2.1zM1379.4 223h2.1v2.1h-2.1zM1453.5 170.3h2.1v2.1h-2.1zM1456.8 187.5h2.1v2.1h-2.1zM1452.5 173.2h2.1v2.1h-2.1zM1384.1 214.5h2.1v2.1h-2.1zM1503.9 181.7h2.1v2.1h-2.1zM1461.8 207.1h2.1v2.1h-2.1zM1451.6 211.8h2.1v2.1h-2.1zM1567.4 137.2h2.1v2.1h-2.1zM1614.7 205h2.1v2.1h-2.1zM1585.6 154.3h2.1v2.1h-2.1zM1604.4 124.9h2.1v2.1h-2.1zM1589.6 130.1h2.1v2.1h-2.1zM1560 169.6h2.1v2.1h-2.1zM1620.1 234h2.1v2.1h-2.1zM1597.6 266.5h2.1v2.1h-2.1zM1568.4 161.7h2.1v2.1h-2.1zM1591.2 167.6h2.1v2.1h-2.1zM1573 189.4h2.1v2.1h-2.1zM1623.2 211.7h2.1v2.1h-2.1zM1592.4 186.1h2.1v2.1h-2.1zM1572.8 172.7h2.1v2.1h-2.1zM1618.2 162.6h2.1v2.1h-2.1zM1606.1 93.8h2.1v2.1h-2.1zM1576.2 196.5h2.1v2.1h-2.1zM1602.9 114.4h2.1v2.1h-2.1zM1572.6 229.6h2.1v2.1h-2.1zM1614 189.2h2.1v2.1h-2.1zM1589.6 173.8h2.1v2.1h-2.1zM1616.5 142.7h2.1v2.1h-2.1zM1565.4 193.4h2.1v2.1h-2.1zM1580.1 203.6h2.1v2.1h-2.1zM1591.8 212.5h2.1v2.1h-2.1zM1507.2 70.2h2.1v2.1h-2.1zM1449.8 79.9h2.1v2.1h-2.1zM1406.7 299.9h2.1v2.1h-2.1zM1415.2 303.2h2.1v2.1h-2.1zM1461 285.3h2.1v2.1h-2.1zM1470.5 284.8h2.1v2.1h-2.1zM1281.2 93.9h2.1v2.1h-2.1zM1481 262.3h2.1v2.1h-2.1z" fill="#7d7d7d"/><path d="M1236.7 167 L1237.7 167 L1238.7 167.1 L1239.7 167.1 L1240.7 167.2 L1241.7 167.2 L1242.7 167.3 L1243.7 167.3 L1244.7 167.3 L1245.7 167.4 L1246.7 167.4 L1247.7 167.5 L1248.7 167.5 L1249.7 167.5 L1250.7 167.6 L1251.7 167.6 L1252.7 167.7 L1253.7 167.7 L1254.7 167.8 L1255.7 167.8 L1256.7 167.8 L1257.7 167.9 L1258.7 167.9 L1259.7 168 L1260.7 168 L1261.7 168.1 L1262.7 168.1 L1263.7 168.1 L1264.7 168.2 L1265.7 168.2 L1266.7 168.3 L1267.7 168.3 L1268.7 168.4 L1269.7 168.4 L1270.7 168.4 L1271.7 168.5 L1272.7 168.5 L1273.7 168.6 L1274.7 168.6 L1275.7 168.7 L1276.7 168.7 L1277.7 168.8 L1278.7 168.8 L1279.7 168.9 L1280.7 168.9 L1281.7 168.9 L1282.7 169 L1283.7 169 L1284.7 169.1 L1285.7 169.1 L1286.7 169.2 L1287.7 169.2 L1288.7 169.3 L1289.7 169.3 L1290.7 169.4 L1291.7 169.4 L1292.7 169.4 L1293.7 169.5 L1294.7 169.5 L1295.7 169.6 L1296.7 169.6 L1297.7 169.7 L1298.7 169.7 L1299.7 169.8 L1300.7 169.8 L1301.7 169.9 L1302.7 169.9 L1303.7 170 L1304.7 170 L1305.7 170.1 L1306.7 170.1 L1307.7 170.2 L1308.7 170.2 L1309.7 170.3 L1310.7 170.3 L1311.7 170.4 L1312.7 170.4 L1313.7 170.5 L1314.7 170.5 L1315.7 170.5 L1316.7 170.6 L1317.7 170.6 L1318.7 170.7 L1319.7 170.7 L1320.7 170.8 L1321.7 170.8 L1322.7 170.9 L1323.7 170.9 L1324.7 171 L1325.7 171 L1326.7 171.1 L1327.7 171.1 L1328.7 171.2 L1329.7 171.2 L1330.7 171.3 L1331.7 171.3 L1332.7 171.4 L1333.7 171.4 L1334.7 171.5 L1335.7 171.6 L1336.7 171.6 L1337.7 171.7 L1338.7 171.7 L1339.7 171.8 L1340.7 171.8 L1341.7 171.9 L1342.7 171.9 L1343.7 172 L1344.7 172 L1345.7 172.1 L1346.7 172.1 L1347.7 172.2 L1348.7 172.2 L1349.7 172.3 L1350.7 172.3 L1351.7 172.4 L1352.7 172.4 L1353.7 172.5 L1354.7 172.5 L1355.7 172.6 L1356.7 172.6 L1357.7 172.7 L1358.7 172.8 L1359.7 172.8 L1360.7 172.9 L1361.7 172.9 L1362.7 173 L1363.7 173 L1364.7 173.1 L1365.7 173.1 L1366.7 173.2 L1367.7 173.2 L1368.7 173.3 L1369.7 173.3 L1370.7 173.4 L1371.7 173.5 L1372.7 173.5 L1373.7 173.6 L1374.7 173.6 L1375.7 173.7 L1376.7 173.7 L1377.7 173.8 L1378.7 173.8 L1379.7 173.9 L1380.7 174 L1381.7 174 L1382.7 174.1 L1383.7 174.1 L1384.7 174.2 L1385.7 174.2 L1386.7 174.3 L1387.7 174.3 L1388.7 174.4 L1389.7 174.5 L1390.7 174.5 L1391.7 174.6 L1392.7 174.6 L1393.7 174.7 L1394.7 174.7 L1395.7 174.8 L1396.7 174.9 L1397.7 174.9 L1398.7 175 L1399.7 175 L1400.7 175.1 L1401.7 175.1 L1402.7 175.2 L1403.7 175.3 L1404.7 175.3 L1405.7 175.4 L1406.7 175.4 L1407.7 175.5 L1408.7 175.5 L1409.7 175.6 L1410.7 175.7 L1411.7 175.7 L1412.7 175.8 L1413.7 175.8 L1414.7 175.9 L1415.7 176 L1416.7 176 L1417.7 176.1 L1418.7 176.1 L1419.7 176.2 L1420.7 176.2 L1421.7 176.3 L1422.7 176.4 L1423.7 176.4 L1424.7 176.5 L1425.7 176.5 L1426.7 176.6 L1427.7 176.7 L1428.7 176.7 L1429.7 176.8 L1430.7 176.8 L1431.7 176.9 L1432.7 177 L1433.7 177 L1434.7 177.1 L1435.7 177.1 L1436.7 177.2 L1437.7 177.3 L1438.7 177.3 L1439.7 177.4 L1440.7 177.5 L1441.7 177.5 L1442.7 177.6 L1443.7 177.6 L1444.7 177.7 L1445.7 177.8 L1446.7 177.8 L1447.7 177.9 L1448.7 177.9 L1449.7 178 L1450.7 178.1 L1451.7 178.1 L1452.7 178.2 L1453.7 178.3 L1454.7 178.3 L1455.7 178.4 L1456.7 178.4 L1457.7 178.5 L1458.7 178.6 L1459.7 178.6 L1460.7 178.7 L1461.7 178.8 L1462.7 178.8 L1463.7 178.9 L1464.7 178.9 L1465.7 179 L1466.7 179.1 L1467.7 179.1 L1468.7 179.2 L1469.7 179.3 L1470.7 179.3 L1471.7 179.4 L1472.7 179.4 L1473.7 179.5 L1474.7 179.6 L1475.7 179.6 L1476.7 179.7 L1477.7 179.8 L1478.7 179.8 L1479.7 179.9 L1480.7 180 L1481.7 180 L1482.7 180.1 L1483.7 180.2 L1484.7 180.2 L1485.7 180.3 L1486.7 180.3 L1487.7 180.4 L1488.7 180.5 L1489.7 180.5 L1490.7 180.6 L1491.7 180.7 L1492.7 180.7 L1493.7 180.8 L1494.7 180.9 L1495.7 180.9 L1496.7 181 L1497.7 181.1 L1498.7 181.1 L1499.7 181.2 L1500.7 181.3 L1501.7 181.3 L1502.7 181.4 L1503.7 181.5 L1504.7 181.5 L1505.7 181.6 L1506.7 181.7 L1507.7 181.7 L1508.7 181.8 L1509.7 181.9 L1510.7 181.9 L1511.7 182 L1512.7 182.1 L1513.7 182.1 L1514.7 182.2 L1515.7 182.3 L1516.7 182.3 L1517.7 182.4 L1518.7 182.5 L1519.7 182.5 L1520.7 182.6 L1521.7 182.7 L1522.7 182.7 L1523.7 182.8 L1524.7 182.9 L1525.7 182.9 L1526.7 183 L1527.7 183.1 L1528.7 183.1 L1529.7 183.2 L1530.7 183.3 L1531.7 183.3 L1532.7 183.4 L1533.7 183.5 L1534.7 183.6 L1535.7 183.6 L1536.7 183.7 L1537.7 183.8 L1538.7 183.8 L1539.7 183.9 L1540.7 184 L1541.7 184 L1542.7 184.1 L1543.7 184.2 L1544.7 184.2 L1545.7 184.3 L1546.7 184.4 L1547.7 184.5 L1548.7 184.5 L1549.7 184.6 L1550.7 184.7 L1551.7 184.7 L1552.7 184.8 L1553.7 184.9 L1554.7 184.9 L1555.7 185 L1556.7 185.1 L1557.7 185.2 L1558.7 185.2 L1559.7 185.3 L1560.7 185.4 L1561.7 185.4 L1562.7 185.5 L1563.7 185.6 L1564.7 185.6 L1565.7 185.7 L1566.7 185.8 L1567.7 185.9 L1568.7 185.9 L1569.7 186 L1570.7 186.1 L1571.7 186.1 L1572.7 186.2 L1573.7 186.3 L1574.7 186.4 L1575.7 186.4 L1576.7 186.5 L1577.7 186.6 L1578.7 186.6 L1579.7 186.7 L1580.7 186.8 L1581.7 186.9 L1582.7 186.9 L1583.7 187 L1584.7 187.1 L1585.7 187.1 L1586.7 187.2 L1587.7 187.3 L1588.7 187.4 L1589.7 187.4 L1590.7 187.5 L1591.7 187.6 L1592.7 187.7 L1593.7 187.7 L1594.7 187.8 L1595.7 187.9 L1596.7 187.9 L1597.7 188 L1598.7 188.1 L1599.7 188.2 L1600.7 188.2 L1601.7 188.3 L1602.7 188.4 L1603.7 188.5 L1604.7 188.5 L1605.7 188.6 L1606.7 188.7 L1607.7 188.8 L1608.7 188.8 L1609.7 188.9 L1610.7 189 L1611.7 189 L1612.7 189.1 L1613.7 189.2 L1614.7 189.3 L1615.7 189.3 L1616.7 189.4 L1617.7 189.5 L1618.7 189.6 L1619.7 189.6 L1620.7 189.7 L1621.7 189.8 L1622.7 189.9 L1623.7 189.9 L1624.7 190 L1625.7 190.1 L1626.7 190.2 L1627.7 190.2 L1628.7 190.3 L1629.7 190.4 L1630.7 190.5 L1631.4 190.5" fill="none" stroke="#1e1e1e" stroke-width="2.6" stroke-linejoin="round" stroke-linecap="round"/><path d="M1237.1 332.8v9.5M1244.1 332.8v9.5M1251 332.8v9.5M1253 332.8v9.5M1255.2 332.8v9.5M1270 332.8v9.5M1282 332.8v9.5M1293.9 332.8v9.5M1306.6 332.8v9.5M1316.4 332.8v9.5M1318 332.8v9.5M1320.6 332.8v9.5M1580 332.8v9.5M1583 332.8v9.5M1586 332.8v9.5M1589 332.8v9.5M1592 332.8v9.5M1596 332.8v9.5M1599 332.8v9.5M1602 332.8v9.5M1604 332.8v9.5M1607 332.8v9.5M1610 332.8v9.5M1613 332.8v9.5M1617 332.8v9.5M1620 332.8v9.5M1623 332.8v9.5M1631 332.8v9.5M1434.6 332.8v9.5M1422.2 332.8v9.5M1461.4 332.8v9.5M1495.8 332.8v9.5M1455.7 332.8v9.5M1462.4 332.8v9.5M1453.5 332.8v9.5M1349 332.8v9.5M1362.5 332.8v9.5M1428.4 332.8v9.5M1422.9 332.8v9.5M1461.6 332.8v9.5M1488.8 332.8v9.5M1411.5 332.8v9.5M1474.7 332.8v9.5M1428.2 332.8v9.5M1437.3 332.8v9.5M1380.9 332.8v9.5M1444.6 332.8v9.5M1514.3 332.8v9.5M1359.9 332.8v9.5M1432.8 332.8v9.5M1448.7 332.8v9.5M1445.7 332.8v9.5M1523.1 332.8v9.5M1480.6 332.8v9.5M1433.5 332.8v9.5M1500.5 332.8v9.5M1419.7 332.8v9.5M1422.2 332.8v9.5M1507.1 332.8v9.5M1531.3 332.8v9.5M1479.4 332.8v9.5M1390.6 332.8v9.5M1369 332.8v9.5M1493.2 332.8v9.5M1502.3 332.8v9.5M1409.7 332.8v9.5M1517.1 332.8v9.5M1420.7 332.8v9.5M1372 332.8v9.5M1447.6 332.8v9.5M1464.4 332.8v9.5M1388.9 332.8v9.5M1494.8 332.8v9.5M1428.3 332.8v9.5M1489.8 332.8v9.5M1469.2 332.8v9.5M1377.5 332.8v9.5M1383.8 332.8v9.5M1459.4 332.8v9.5M1431.3 332.8v9.5M1508.7 332.8v9.5M1448.2 332.8v9.5M1403 332.8v9.5M1541.4 332.8v9.5M1407.8 332.8v9.5M1400.9 332.8v9.5M1380 332.8v9.5M1510.2 332.8v9.5M1486.4 332.8v9.5M1419.9 332.8v9.5M1377.4 332.8v9.5M1473.6 332.8v9.5M1511.4 332.8v9.5M1423.7 332.8v9.5M1398.6 332.8v9.5M1432.8 332.8v9.5M1450 332.8v9.5M1447 332.8v9.5M1448.4 332.8v9.5M1414.1 332.8v9.5M1432.3 332.8v9.5M1509.7 332.8v9.5M1466.7 332.8v9.5M1570.2 332.8v9.5M1449.7 332.8v9.5M1428.1 332.8v9.5M1471.2 332.8v9.5M1516.6 332.8v9.5M1444.5 332.8v9.5M1454.4 332.8v9.5M1511.4 332.8v9.5M1460.8 332.8v9.5M1433.8 332.8v9.5M1379.8 332.8v9.5M1455.2 332.8v9.5M1360.5 332.8v9.5M1390.7 332.8v9.5M1411.2 332.8v9.5M1380 332.8v9.5M1409.6 332.8v9.5M1426.9 332.8v9.5M1425.6 332.8v9.5M1437 332.8v9.5M1480.2 332.8v9.5M1391.1 332.8v9.5M1507.9 332.8v9.5M1377 332.8v9.5M1379.2 332.8v9.5M1377.6 332.8v9.5M1474.9 332.8v9.5M1423.5 332.8v9.5M1420.9 332.8v9.5M1435.3 332.8v9.5M1502.5 332.8v9.5M1507.9 332.8v9.5M1478.3 332.8v9.5M1427 332.8v9.5M1407.4 332.8v9.5M1447.5 332.8v9.5M1507 332.8v9.5M1386.7 332.8v9.5M1451.6 332.8v9.5M1489.9 332.8v9.5M1462.6 332.8v9.5M1495.7 332.8v9.5M1431.1 332.8v9.5M1574.3 332.8v9.5M1408.4 332.8v9.5M1442 332.8v9.5M1482.5 332.8v9.5M1454.9 332.8v9.5M1411.1 332.8v9.5M1459.8 332.8v9.5M1516.9 332.8v9.5M1442.7 332.8v9.5M1422.7 332.8v9.5M1485.1 332.8v9.5M1551 332.8v9.5M1427.1 332.8v9.5M1419.8 332.8v9.5M1484.7 332.8v9.5M1567.4 332.8v9.5M1398.5 332.8v9.5M1476.7 332.8v9.5M1405.4 332.8v9.5M1405.1 332.8v9.5M1534.8 332.8v9.5M1399.6 332.8v9.5M1373.7 332.8v9.5M1515.3 332.8v9.5M1477.9 332.8v9.5M1436.9 332.8v9.5M1462.7 332.8v9.5M1465.2 332.8v9.5M1563.9 332.8v9.5M1422.8 332.8v9.5M1388.2 332.8v9.5M1448.8 332.8v9.5M1396 332.8v9.5M1421.8 332.8v9.5M1406.6 332.8v9.5M1409.1 332.8v9.5M1455 332.8v9.5M1431.4 332.8v9.5M1492.3 332.8v9.5M1359.8 332.8v9.5M1457.8 332.8v9.5M1410 332.8v9.5M1460.1 332.8v9.5M1400.3 332.8v9.5M1392.3 332.8v9.5M1467.2 332.8v9.5M1432.2 332.8v9.5M1452.2 332.8v9.5M1486.2 332.8v9.5M1433.8 332.8v9.5M1420.2 332.8v9.5M1452.9 332.8v9.5M1493.6 332.8v9.5M1434.7 332.8v9.5M1469.6 332.8v9.5M1391.4 332.8v9.5M1469.1 332.8v9.5M1485.9 332.8v9.5M1546.7 332.8v9.5M1519.8 332.8v9.5M1398.5 332.8v9.5M1415.5 332.8v9.5M1510.4 332.8v9.5M1469.3 332.8v9.5M1508 332.8v9.5M1344.5 332.8v9.5M1439.2 332.8v9.5M1431.4 332.8v9.5M1453.1 332.8v9.5M1411.8 332.8v9.5M1411.7 332.8v9.5M1423.5 332.8v9.5M1406.9 332.8v9.5M1416.3 332.8v9.5M1407.5 332.8v9.5M1398.9 332.8v9.5M1423.4 332.8v9.5M1500.7 332.8v9.5M1414 332.8v9.5M1421 332.8v9.5M1456.2 332.8v9.5M1404.5 332.8v9.5M1373.2 332.8v9.5M1442.9 332.8v9.5M1481 332.8v9.5M1369.7 332.8v9.5M1450 332.8v9.5M1442.6 332.8v9.5M1415.6 332.8v9.5M1498.8 332.8v9.5M1433.3 332.8v9.5M1434 332.8v9.5M1536.8 332.8v9.5M1434.7 332.8v9.5M1369.6 332.8v9.5M1567.5 332.8v9.5M1524.5 332.8v9.5M1494.8 332.8v9.5M1459.5 332.8v9.5M1500.9 332.8v9.5M1435 332.8v9.5M1494.1 332.8v9.5M1505.5 332.8v9.5M1460.9 332.8v9.5M1431.7 332.8v9.5M1430.7 332.8v9.5M1414 332.8v9.5M1428.6 332.8v9.5M1415.2 332.8v9.5M1451.8 332.8v9.5M1451.7 332.8v9.5M1426.9 332.8v9.5M1462.4 332.8v9.5M1552.4 332.8v9.5M1459.4 332.8v9.5M1441.4 332.8v9.5M1478 332.8v9.5M1361.1 332.8v9.5M1504.1 332.8v9.5M1455 332.8v9.5M1427.1 332.8v9.5M1486.3 332.8v9.5M1440.6 332.8v9.5M1400.9 332.8v9.5M1436.2 332.8v9.5M1403.6 332.8v9.5M1450 332.8v9.5M1434.8 332.8v9.5M1444.5 332.8v9.5M1384.1 332.8v9.5M1396.8 332.8v9.5M1525.1 332.8v9.5M1561.1 332.8v9.5M1498.9 332.8v9.5M1499.8 332.8v9.5M1524.9 332.8v9.5M1503.8 332.8v9.5M1499 332.8v9.5M1378.7 332.8v9.5M1449.1 332.8v9.5M1433.7 332.8v9.5M1478.6 332.8v9.5M1470.8 332.8v9.5M1448.8 332.8v9.5M1580.5 332.8v9.5M1502.5 332.8v9.5M1421 332.8v9.5M1451.1 332.8v9.5M1503.1 332.8v9.5M1436 332.8v9.5M1516.1 332.8v9.5M1472.2 332.8v9.5M1472.5 332.8v9.5M1453.1 332.8v9.5M1489.7 332.8v9.5M1397.3 332.8v9.5M1416.4 332.8v9.5M1407.5 332.8v9.5M1524.6 332.8v9.5M1429.5 332.8v9.5M1431.1 332.8v9.5M1441.3 332.8v9.5M1423.9 332.8v9.5M1350 332.8v9.5M1446.6 332.8v9.5M1399.7 332.8v9.5M1444.8 332.8v9.5M1407 332.8v9.5M1495.7 332.8v9.5M1446.5 332.8v9.5M1500 332.8v9.5M1434.1 332.8v9.5M1381 332.8v9.5M1470.3 332.8v9.5M1407.2 332.8v9.5M1415.6 332.8v9.5M1548.3 332.8v9.5M1477.2 332.8v9.5M1498.5 332.8v9.5M1426.6 332.8v9.5M1388 332.8v9.5M1431 332.8v9.5M1540.3 332.8v9.5M1445.1 332.8v9.5M1465.8 332.8v9.5M1517.8 332.8v9.5M1345.5 332.8v9.5M1503.9 332.8v9.5M1474.1 332.8v9.5M1448.8 332.8v9.5M1459.1 332.8v9.5M1435.6 332.8v9.5M1432.4 332.8v9.5M1411.8 332.8v9.5M1359.1 332.8v9.5M1379.3 332.8v9.5M1551.3 332.8v9.5M1391.7 332.8v9.5M1379.4 332.8v9.5M1493.2 332.8v9.5M1469 332.8v9.5M1417.6 332.8v9.5M1403.7 332.8v9.5M1362.1 332.8v9.5M1340.7 332.8v9.5M1334.6 332.8v9.5M1390.9 332.8v9.5M1443.6 332.8v9.5M1438.9 332.8v9.5M1487.3 332.8v9.5M1531.1 332.8v9.5M1448.2 332.8v9.5M1395.5 332.8v9.5M1549.2 332.8v9.5M1364.1 332.8v9.5M1472.9 332.8v9.5M1368.8 332.8v9.5M1459.3 332.8v9.5M1555.8 332.8v9.5M1353.2 332.8v9.5M1531.3 332.8v9.5M1357.8 332.8v9.5M1504 332.8v9.5M1413.4 332.8v9.5M1443.1 332.8v9.5M1416.5 332.8v9.5M1541 332.8v9.5M1442 332.8v9.5M1464.3 332.8v9.5M1450 332.8v9.5M1427.2 332.8v9.5M1377.5 332.8v9.5M1399.9 332.8v9.5M1519.2 332.8v9.5M1438.5 332.8v9.5M1432.5 332.8v9.5M1484.1 332.8v9.5M1544.5 332.8v9.5M1378.2 332.8v9.5M1524.7 332.8v9.5M1521.3 332.8v9.5M1379.5 332.8v9.5M1361.7 332.8v9.5M1550 332.8v9.5M1387.6 332.8v9.5M1336.8 332.8v9.5M1355.8 332.8v9.5M1396 332.8v9.5M1331.6 332.8v9.5M1410.4 332.8v9.5M1457.9 332.8v9.5M1508 332.8v9.5M1526.2 332.8v9.5M1528.4 332.8v9.5M1544 332.8v9.5M1421.8 332.8v9.5M1509.5 332.8v9.5M1471.8 332.8v9.5M1330.7 332.8v9.5M1368.2 332.8v9.5M1372 332.8v9.5M1374 332.8v9.5M1373.7 332.8v9.5M1398.7 332.8v9.5M1369.8 332.8v9.5M1380.3 332.8v9.5M1376.6 332.8v9.5M1475.5 332.8v9.5M1391.6 332.8v9.5M1351.4 332.8v9.5M1538.6 332.8v9.5M1417.3 332.8v9.5M1554.8 332.8v9.5M1480.6 332.8v9.5M1371.9 332.8v9.5M1352.7 332.8v9.5M1525.8 332.8v9.5M1391.3 332.8v9.5M1335.5 332.8v9.5M1480.4 332.8v9.5M1326.5 332.8v9.5M1339.8 332.8v9.5M1502.3 332.8v9.5M1390.1 332.8v9.5M1502.3 332.8v9.5M1461.8 332.8v9.5M1337.4 332.8v9.5M1542.5 332.8v9.5M1400 332.8v9.5M1491.5 332.8v9.5M1474.5 332.8v9.5M1413.7 332.8v9.5M1530 332.8v9.5M1337.4 332.8v9.5M1393.7 332.8v9.5M1541.3 332.8v9.5M1369.4 332.8v9.5M1423.9 332.8v9.5M1523.7 332.8v9.5M1383 332.8v9.5M1393.4 332.8v9.5M1375.8 332.8v9.5M1496.1 332.8v9.5M1445.6 332.8v9.5M1423.5 332.8v9.5M1532.9 332.8v9.5M1480.7 332.8v9.5M1352.3 332.8v9.5M1552.7 332.8v9.5M1481.2 332.8v9.5M1518.7 332.8v9.5M1456.5 332.8v9.5M1554.4 332.8v9.5M1409.8 332.8v9.5M1429.4 332.8v9.5M1449.3 332.8v9.5M1397.9 332.8v9.5M1445.5 332.8v9.5M1542.1 332.8v9.5M1500.9 332.8v9.5M1370 332.8v9.5M1507.2 332.8v9.5M1342.2 332.8v9.5M1362.5 332.8v9.5M1416.9 332.8v9.5M1473.4 332.8v9.5M1358 332.8v9.5M1461.6 332.8v9.5M1460 332.8v9.5M1545.7 332.8v9.5M1401.2 332.8v9.5M1547.3 332.8v9.5M1389.6 332.8v9.5M1524.7 332.8v9.5M1479.8 332.8v9.5M1474.1 332.8v9.5M1420 332.8v9.5M1347.7 332.8v9.5M1430.1 332.8v9.5M1432 332.8v9.5M1464.8 332.8v9.5M1336.5 332.8v9.5M1437.7 332.8v9.5M1533.2 332.8v9.5M1527 332.8v9.5M1428.1 332.8v9.5M1446.8 332.8v9.5M1533 332.8v9.5M1559.3 332.8v9.5M1380.4 332.8v9.5M1454.5 332.8v9.5M1457.9 332.8v9.5M1453.6 332.8v9.5M1385.2 332.8v9.5M1504.9 332.8v9.5M1462.9 332.8v9.5M1452.7 332.8v9.5M1568.5 332.8v9.5M1615.8 332.8v9.5M1586.7 332.8v9.5M1605.4 332.8v9.5M1590.7 332.8v9.5M1561 332.8v9.5M1621.1 332.8v9.5M1598.7 332.8v9.5M1569.5 332.8v9.5M1592.3 332.8v9.5M1574.1 332.8v9.5M1624.2 332.8v9.5M1593.4 332.8v9.5M1573.8 332.8v9.5M1619.2 332.8v9.5M1607.1 332.8v9.5M1577.2 332.8v9.5M1603.9 332.8v9.5M1573.6 332.8v9.5M1615 332.8v9.5M1590.6 332.8v9.5M1617.5 332.8v9.5M1566.5 332.8v9.5M1581.2 332.8v9.5M1592.8 332.8v9.5" stroke="#111" stroke-width="1.0" fill="none"/><rect x="1221.4" y="40.3" width="425.6" height="302" fill="none" stroke="#2e2e2e" stroke-width="2"/><text class="t" x="1193.7" y="307" transform="rotate(-90 1193.7 307)" text-anchor="middle" font-size="18.7" fill="#2a2a2a">-2</text><text class="t" x="1193.7" y="242.7" transform="rotate(-90 1193.7 242.7)" text-anchor="middle" font-size="18.7" fill="#2a2a2a">-1</text><text class="t" x="1193.7" y="178.4" transform="rotate(-90 1193.7 178.4)" text-anchor="middle" font-size="18.7" fill="#2a2a2a">0</text><text class="t" x="1193.7" y="114.1" transform="rotate(-90 1193.7 114.1)" text-anchor="middle" font-size="18.7" fill="#2a2a2a">1</text><text class="t" x="1193.7" y="49.8" transform="rotate(-90 1193.7 49.8)" text-anchor="middle" font-size="18.7" fill="#2a2a2a">2</text><text class="t" x="1269" y="383" text-anchor="middle" font-size="18.7" fill="#2a2a2a">-0.04</text><text class="t" x="1345.9" y="383" text-anchor="middle" font-size="18.7" fill="#2a2a2a">-0.02</text><text class="t" x="1422.8" y="383" text-anchor="middle" font-size="18.7" fill="#2a2a2a">0.00</text><text class="t" x="1499.7" y="383" text-anchor="middle" font-size="18.7" fill="#2a2a2a">0.02</text><text class="t" x="1576.6" y="383" text-anchor="middle" font-size="18.7" fill="#2a2a2a">0.04</text><path d="M1209.4 307H1221.4M1209.4 242.7H1221.4M1209.4 178.4H1221.4M1209.4 114.1H1221.4M1209.4 49.8H1221.4M1269 342.3V354.3M1345.9 342.3V354.3M1422.8 342.3V354.3M1499.7 342.3V354.3M1576.6 342.3V354.3" stroke="#2e2e2e" stroke-width="2" fill="none"/><text class="t" x="1434.2" y="427.9" text-anchor="middle" font-size="18.7" fill="#2a2a2a">uo</text><text class="t" x="1149.4" y="191.3" transform="rotate(-90 1149.4 191.3)" text-anchor="middle" font-size="18.7" fill="#2a2a2a">s(uo,1.32)</text></g><g><path d="M108.7 646.1 L109.7 646.5 L110.7 646.9 L111.7 647.3 L112.7 647.7 L113.7 648 L114.7 648.4 L115.7 648.8 L116.7 649.1 L117.7 649.5 L118.7 649.9 L119.7 650.2 L120.7 650.6 L121.7 651 L122.7 651.3 L123.7 651.7 L124.7 652 L125.7 652.4 L126.7 652.7 L127.7 653.1 L128.7 653.4 L129.7 653.8 L130.7 654.1 L131.7 654.5 L132.7 654.8 L133.7 655.1 L134.7 655.5 L135.7 655.8 L136.7 656.1 L137.7 656.5 L138.7 656.8 L139.7 657.1 L140.7 657.4 L141.7 657.8 L142.7 658.1 L143.7 658.4 L144.7 658.7 L145.7 659 L146.7 659.3 L147.7 659.7 L148.7 660 L149.7 660.3 L150.7 660.6 L151.7 660.9 L152.7 661.2 L153.7 661.5 L154.7 661.8 L155.7 662.1 L156.7 662.4 L157.7 662.7 L158.7 663 L159.7 663.2 L160.7 663.5 L161.7 663.8 L162.7 664.1 L163.7 664.4 L164.7 664.7 L165.7 664.9 L166.7 665.2 L167.7 665.5 L168.7 665.8 L169.7 666 L170.7 666.3 L171.7 666.6 L172.7 666.8 L173.7 667.1 L174.7 667.4 L175.7 667.6 L176.7 667.9 L177.7 668.1 L178.7 668.4 L179.7 668.6 L180.7 668.9 L181.7 669.1 L182.7 669.4 L183.7 669.6 L184.7 669.9 L185.7 670.1 L186.7 670.4 L187.7 670.6 L188.7 670.8 L189.7 671.1 L190.7 671.3 L191.7 671.5 L192.7 671.8 L193.7 672 L194.7 672.2 L195.7 672.4 L196.7 672.7 L197.7 672.9 L198.7 673.1 L199.7 673.3 L200.7 673.5 L201.7 673.8 L202.7 674 L203.7 674.2 L204.7 674.4 L205.7 674.6 L206.7 674.8 L207.7 675 L208.7 675.2 L209.7 675.4 L210.7 675.6 L211.7 675.8 L212.7 676 L213.7 676.2 L214.7 676.4 L215.7 676.6 L216.7 676.7 L217.7 676.9 L218.7 677.1 L219.7 677.3 L220.7 677.5 L221.7 677.7 L222.7 677.8 L223.7 678 L224.7 678.2 L225.7 678.3 L226.7 678.5 L227.7 678.7 L228.7 678.8 L229.7 679 L230.7 679.2 L231.7 679.3 L232.7 679.5 L233.7 679.6 L234.7 679.8 L235.7 680 L236.7 680.1 L237.7 680.3 L238.7 680.4 L239.7 680.6 L240.7 680.7 L241.7 680.8 L242.7 681 L243.7 681.1 L244.7 681.3 L245.7 681.4 L246.7 681.5 L247.7 681.7 L248.7 681.8 L249.7 681.9 L250.7 682 L251.7 682.2 L252.7 682.3 L253.7 682.4 L254.7 682.5 L255.7 682.7 L256.7 682.8 L257.7 682.9 L258.7 683 L259.7 683.1 L260.7 683.2 L261.7 683.3 L262.7 683.4 L263.7 683.5 L264.7 683.6 L265.7 683.7 L266.7 683.8 L267.7 683.9 L268.7 684 L269.7 684.1 L270.7 684.2 L271.7 684.3 L272.7 684.4 L273.7 684.5 L274.7 684.6 L275.7 684.7 L276.7 684.7 L277.7 684.8 L278.7 684.9 L279.7 685 L280.7 685 L281.7 685.1 L282.7 685.2 L283.7 685.3 L284.7 685.3 L285.7 685.4 L286.7 685.5 L287.7 685.5 L288.7 685.6 L289.7 685.7 L290.7 685.7 L291.7 685.8 L292.7 685.8 L293.7 685.9 L294.7 685.9 L295.7 686 L296.7 686 L297.7 686.1 L298.7 686.1 L299.7 686.2 L300.7 686.2 L301.7 686.2 L302.7 686.3 L303.7 686.3 L304.7 686.3 L305.7 686.4 L306.7 686.4 L307.7 686.4 L308.7 686.5 L309.7 686.5 L310.7 686.5 L311.7 686.5 L312.7 686.6 L313.7 686.6 L314.7 686.6 L315.7 686.6 L316.7 686.6 L317.7 686.6 L318.7 686.7 L319.7 686.7 L320.7 686.7 L321.7 686.7 L322.7 686.7 L323.7 686.7 L324.7 686.7 L325.7 686.7 L326.7 686.7 L327.7 686.7 L328.7 686.7 L329.7 686.7 L330.7 686.7 L331.7 686.6 L332.7 686.6 L333.7 686.6 L334.7 686.6 L335.7 686.6 L336.7 686.6 L337.7 686.5 L338.7 686.5 L339.7 686.5 L340.7 686.5 L341.7 686.4 L342.7 686.4 L343.7 686.4 L344.7 686.4 L345.7 686.3 L346.7 686.3 L347.7 686.2 L348.7 686.2 L349.7 686.2 L350.7 686.1 L351.7 686.1 L352.7 686 L353.7 686 L354.7 685.9 L355.7 685.9 L356.7 685.8 L357.7 685.8 L358.7 685.7 L359.7 685.7 L360.7 685.6 L361.7 685.6 L362.7 685.5 L363.7 685.4 L364.7 685.4 L365.7 685.3 L366.7 685.2 L367.7 685.2 L368.7 685.1 L369.7 685 L370.7 684.9 L371.7 684.9 L372.7 684.8 L373.7 684.7 L374.7 684.6 L375.7 684.5 L376.7 684.5 L377.7 684.4 L378.7 684.3 L379.7 684.2 L380.7 684.1 L381.7 684 L382.7 683.9 L383.7 683.8 L384.7 683.7 L385.7 683.6 L386.7 683.5 L387.7 683.4 L388.7 683.3 L389.7 683.2 L390.7 683.1 L391.7 683 L392.7 682.9 L393.7 682.8 L394.7 682.7 L395.7 682.5 L396.7 682.4 L397.7 682.3 L398.7 682.2 L399.7 682.1 L400.7 681.9 L401.7 681.8 L402.7 681.7 L403.7 681.6 L404.7 681.4 L405.7 681.3 L406.7 681.2 L407.7 681 L408.7 680.9 L409.7 680.8 L410.7 680.6 L411.7 680.5 L412.7 680.3 L413.7 680.2 L414.7 680.1 L415.7 679.9 L416.7 679.8 L417.7 679.6 L418.7 679.5 L419.7 679.3 L420.7 679.2 L421.7 679 L422.7 678.8 L423.7 678.7 L424.7 678.5 L425.7 678.4 L426.7 678.2 L427.7 678 L428.7 677.9 L429.7 677.7 L430.7 677.5 L431.7 677.3 L432.7 677.2 L433.7 677 L434.7 676.8 L435.7 676.6 L436.7 676.5 L437.7 676.3 L438.7 676.1 L439.7 675.9 L440.7 675.7 L441.7 675.5 L442.7 675.3 L443.7 675.2 L444.7 675 L445.7 674.8 L446.7 674.6 L447.7 674.4 L448.7 674.2 L449.7 674 L450.7 673.8 L451.7 673.6 L452.7 673.4 L453.7 673.2 L454.7 673 L455.7 672.7 L456.7 672.5 L457.7 672.3 L458.7 672.1 L459.7 671.9 L460.7 671.7 L461.7 671.5 L462.7 671.2 L463.7 671 L464.7 670.8 L465.7 670.6 L466.7 670.3 L467.7 670.1 L468.7 669.9 L469.7 669.7 L470.7 669.4 L471.7 669.2 L472.7 669 L473.7 668.7 L474.7 668.5 L475.7 668.2 L476.7 668 L477.7 667.8 L478.7 667.5 L479.7 667.3 L480.7 667 L481.7 666.8 L482.7 666.5 L483.7 666.3 L484.7 666 L485.7 665.8 L486.7 665.5 L487.7 665.2 L488.7 665 L489.7 664.7 L490.7 664.5 L491.7 664.2 L492.7 663.9 L493.7 663.7 L494.7 663.4 L495.7 663.1 L496.7 662.8 L497.7 662.6 L498.7 662.3 L499.7 662 L500.7 661.7 L501.7 661.5 L502.4 661.3 L502.4 704.6 L501.7 704.5 L500.7 704.5 L499.7 704.4 L498.7 704.3 L497.7 704.3 L496.7 704.2 L495.7 704.1 L494.7 704.1 L493.7 704 L492.7 704 L491.7 703.9 L490.7 703.8 L489.7 703.8 L488.7 703.7 L487.7 703.6 L486.7 703.6 L485.7 703.5 L484.7 703.5 L483.7 703.4 L482.7 703.3 L481.7 703.3 L480.7 703.2 L479.7 703.1 L478.7 703.1 L477.7 703 L476.7 702.9 L475.7 702.9 L474.7 702.8 L473.7 702.7 L472.7 702.7 L471.7 702.6 L470.7 702.6 L469.7 702.5 L468.7 702.4 L467.7 702.4 L466.7 702.3 L465.7 702.2 L464.7 702.2 L463.7 702.1 L462.7 702 L461.7 702 L460.7 701.9 L459.7 701.8 L458.7 701.8 L457.7 701.7 L456.7 701.6 L455.7 701.6 L454.7 701.5 L453.7 701.5 L452.7 701.4 L451.7 701.3 L450.7 701.3 L449.7 701.2 L448.7 701.1 L447.7 701.1 L446.7 701 L445.7 700.9 L444.7 700.9 L443.7 700.8 L442.7 700.7 L441.7 700.7 L440.7 700.6 L439.7 700.5 L438.7 700.5 L437.7 700.4 L436.7 700.3 L435.7 700.3 L434.7 700.2 L433.7 700.1 L432.7 700.1 L431.7 700 L430.7 700 L429.7 699.9 L428.7 699.8 L427.7 699.8 L426.7 699.7 L425.7 699.6 L424.7 699.6 L423.7 699.5 L422.7 699.4 L421.7 699.4 L420.7 699.3 L419.7 699.2 L418.7 699.2 L417.7 699.1 L416.7 699 L415.7 699 L414.7 698.9 L413.7 698.8 L412.7 698.8 L411.7 698.7 L410.7 698.6 L409.7 698.6 L408.7 698.5 L407.7 698.4 L406.7 698.4 L405.7 698.3 L404.7 698.2 L403.7 698.2 L402.7 698.1 L401.7 698.1 L400.7 698 L399.7 697.9 L398.7 697.9 L397.7 697.8 L396.7 697.7 L395.7 697.7 L394.7 697.6 L393.7 697.5 L392.7 697.5 L391.7 697.4 L390.7 697.3 L389.7 697.3 L388.7 697.2 L387.7 697.1 L386.7 697.1 L385.7 697 L384.7 696.9 L383.7 696.9 L382.7 696.8 L381.7 696.7 L380.7 696.7 L379.7 696.6 L378.7 696.6 L377.7 696.5 L376.7 696.4 L375.7 696.4 L374.7 696.3 L373.7 696.2 L372.7 696.2 L371.7 696.1 L370.7 696 L369.7 696 L368.7 695.9 L367.7 695.8 L366.7 695.8 L365.7 695.7 L364.7 695.6 L363.7 695.6 L362.7 695.5 L361.7 695.5 L360.7 695.4 L359.7 695.3 L358.7 695.3 L357.7 695.2 L356.7 695.1 L355.7 695.1 L354.7 695 L353.7 694.9 L352.7 694.9 L351.7 694.8 L350.7 694.7 L349.7 694.7 L348.7 694.6 L347.7 694.6 L346.7 694.5 L345.7 694.4 L344.7 694.4 L343.7 694.3 L342.7 694.2 L341.7 694.2 L340.7 694.1 L339.7 694 L338.7 694 L337.7 693.9 L336.7 693.9 L335.7 693.8 L334.7 693.7 L333.7 693.7 L332.7 693.6 L331.7 693.5 L330.7 693.5 L329.7 693.4 L328.7 693.4 L327.7 693.3 L326.7 693.2 L325.7 693.2 L324.7 693.1 L323.7 693 L322.7 693 L321.7 692.9 L320.7 692.9 L319.7 692.8 L318.7 692.7 L317.7 692.7 L316.7 692.6 L315.7 692.5 L314.7 692.5 L313.7 692.4 L312.7 692.4 L311.7 692.3 L310.7 692.2 L309.7 692.2 L308.7 692.1 L307.7 692.1 L306.7 692 L305.7 691.9 L304.7 691.9 L303.7 691.8 L302.7 691.8 L301.7 691.7 L300.7 691.6 L299.7 691.6 L298.7 691.5 L297.7 691.5 L296.7 691.4 L295.7 691.3 L294.7 691.3 L293.7 691.2 L292.7 691.2 L291.7 691.1 L290.7 691 L289.7 691 L288.7 690.9 L287.7 690.9 L286.7 690.8 L285.7 690.7 L284.7 690.7 L283.7 690.6 L282.7 690.6 L281.7 690.5 L280.7 690.4 L279.7 690.4 L278.7 690.3 L277.7 690.3 L276.7 690.2 L275.7 690.1 L274.7 690.1 L273.7 690 L272.7 690 L271.7 689.9 L270.7 689.9 L269.7 689.8 L268.7 689.7 L267.7 689.7 L266.7 689.6 L265.7 689.6 L264.7 689.5 L263.7 689.5 L262.7 689.4 L261.7 689.3 L260.7 689.3 L259.7 689.2 L258.7 689.2 L257.7 689.1 L256.7 689.1 L255.7 689 L254.7 689 L253.7 688.9 L252.7 688.8 L251.7 688.8 L250.7 688.7 L249.7 688.7 L248.7 688.6 L247.7 688.6 L246.7 688.5 L245.7 688.5 L244.7 688.4 L243.7 688.3 L242.7 688.3 L241.7 688.2 L240.7 688.2 L239.7 688.1 L238.7 688.1 L237.7 688 L236.7 688 L235.7 687.9 L234.7 687.9 L233.7 687.8 L232.7 687.8 L231.7 687.7 L230.7 687.7 L229.7 687.6 L228.7 687.5 L227.7 687.5 L226.7 687.4 L225.7 687.4 L224.7 687.3 L223.7 687.3 L222.7 687.2 L221.7 687.2 L220.7 687.1 L219.7 687.1 L218.7 687 L217.7 687 L216.7 686.9 L215.7 686.9 L214.7 686.8 L213.7 686.8 L212.7 686.7 L211.7 686.7 L210.7 686.6 L209.7 686.6 L208.7 686.5 L207.7 686.5 L206.7 686.4 L205.7 686.4 L204.7 686.3 L203.7 686.3 L202.7 686.2 L201.7 686.2 L200.7 686.1 L199.7 686.1 L198.7 686 L197.7 686 L196.7 686 L195.7 685.9 L194.7 685.9 L193.7 685.8 L192.7 685.8 L191.7 685.7 L190.7 685.7 L189.7 685.6 L188.7 685.6 L187.7 685.5 L186.7 685.5 L185.7 685.4 L184.7 685.4 L183.7 685.3 L182.7 685.3 L181.7 685.3 L180.7 685.2 L179.7 685.2 L178.7 685.1 L177.7 685.1 L176.7 685 L175.7 685 L174.7 684.9 L173.7 684.9 L172.7 684.9 L171.7 684.8 L170.7 684.8 L169.7 684.7 L168.7 684.7 L167.7 684.6 L166.7 684.6 L165.7 684.6 L164.7 684.5 L163.7 684.5 L162.7 684.4 L161.7 684.4 L160.7 684.4 L159.7 684.3 L158.7 684.3 L157.7 684.2 L156.7 684.2 L155.7 684.2 L154.7 684.1 L153.7 684.1 L152.7 684 L151.7 684 L150.7 684 L149.7 683.9 L148.7 683.9 L147.7 683.8 L146.7 683.8 L145.7 683.8 L144.7 683.7 L143.7 683.7 L142.7 683.7 L141.7 683.6 L140.7 683.6 L139.7 683.5 L138.7 683.5 L137.7 683.5 L136.7 683.4 L135.7 683.4 L134.7 683.4 L133.7 683.3 L132.7 683.3 L131.7 683.3 L130.7 683.2 L129.7 683.2 L128.7 683.1 L127.7 683.1 L126.7 683.1 L125.7 683 L124.7 683 L123.7 683 L122.7 682.9 L121.7 682.9 L120.7 682.9 L119.7 682.8 L118.7 682.8 L117.7 682.8 L116.7 682.8 L115.7 682.7 L114.7 682.7 L113.7 682.7 L112.7 682.6 L111.7 682.6 L110.7 682.6 L109.7 682.5 L108.7 682.5Z" fill="#add8e6"/><path d="M107 618.7h2.1v2.1h-2.1zM116 587.6h2.1v2.1h-2.1zM121 678.7h2.1v2.1h-2.1zM125.9 732.9h2.1v2.1h-2.1zM130.6 683.2h2.1v2.1h-2.1zM136.9 677.5h2.1v2.1h-2.1zM138.9 664.1h2.1v2.1h-2.1zM145.2 664.4h2.1v2.1h-2.1zM443.9 681.2h2.1v2.1h-2.1zM446.9 732.7h2.1v2.1h-2.1zM457.8 711.2h2.1v2.1h-2.1zM477.9 731h2.1v2.1h-2.1zM479.9 606.6h2.1v2.1h-2.1zM482.4 621.5h2.1v2.1h-2.1zM491.9 653.2h2.1v2.1h-2.1zM501.3 631.3h2.1v2.1h-2.1zM235.9 726.6h2.1v2.1h-2.1zM268.3 700.2h2.1v2.1h-2.1zM342 689.7h2.1v2.1h-2.1zM380.9 688.9h2.1v2.1h-2.1zM268.3 712.7h2.1v2.1h-2.1zM229.8 680.5h2.1v2.1h-2.1zM230.6 672h2.1v2.1h-2.1zM330.1 665.5h2.1v2.1h-2.1zM313.2 691.2h2.1v2.1h-2.1zM188.2 663.8h2.1v2.1h-2.1zM320.7 740.7h2.1v2.1h-2.1zM236.2 720.4h2.1v2.1h-2.1zM337.5 712.6h2.1v2.1h-2.1zM294.4 694.4h2.1v2.1h-2.1zM259 636.1h2.1v2.1h-2.1zM336.7 712.5h2.1v2.1h-2.1zM173.7 704.6h2.1v2.1h-2.1zM333.3 704.8h2.1v2.1h-2.1zM220 711.2h2.1v2.1h-2.1zM269.1 711.6h2.1v2.1h-2.1zM340 737.3h2.1v2.1h-2.1zM300.6 698.7h2.1v2.1h-2.1zM288 732.6h2.1v2.1h-2.1zM218.7 700.8h2.1v2.1h-2.1zM295.8 694.5h2.1v2.1h-2.1zM201.8 718.1h2.1v2.1h-2.1zM309.5 640.7h2.1v2.1h-2.1zM213.8 673.6h2.1v2.1h-2.1zM215 683.2h2.1v2.1h-2.1zM267.4 665.6h2.1v2.1h-2.1zM273.5 642.1h2.1v2.1h-2.1zM318.7 705.7h2.1v2.1h-2.1zM247.7 735.9h2.1v2.1h-2.1zM410.1 676.9h2.1v2.1h-2.1zM228.9 702.8h2.1v2.1h-2.1zM264.4 691.7h2.1v2.1h-2.1zM304.3 678.9h2.1v2.1h-2.1zM288.8 683.6h2.1v2.1h-2.1zM210.9 630.2h2.1v2.1h-2.1zM236.7 643.6h2.1v2.1h-2.1zM245 645.7h2.1v2.1h-2.1zM299.2 653.6h2.1v2.1h-2.1zM309.6 701.3h2.1v2.1h-2.1zM304.3 676.3h2.1v2.1h-2.1zM223 688.6h2.1v2.1h-2.1zM290.9 678.3h2.1v2.1h-2.1zM327.2 673.5h2.1v2.1h-2.1zM280.3 691.1h2.1v2.1h-2.1zM366.4 667.4h2.1v2.1h-2.1zM275.3 650.1h2.1v2.1h-2.1zM292.7 697.4h2.1v2.1h-2.1zM208.4 689.7h2.1v2.1h-2.1zM335.8 651.9h2.1v2.1h-2.1zM311.3 675.8h2.1v2.1h-2.1zM233.9 736h2.1v2.1h-2.1zM293.4 652.2h2.1v2.1h-2.1zM310.7 740h2.1v2.1h-2.1zM170.7 676.7h2.1v2.1h-2.1zM222.8 726.6h2.1v2.1h-2.1zM298.3 743.1h2.1v2.1h-2.1zM317.8 675.5h2.1v2.1h-2.1zM306.2 709.7h2.1v2.1h-2.1zM322.7 669.8h2.1v2.1h-2.1zM373.1 622.3h2.1v2.1h-2.1zM269.2 657.3h2.1v2.1h-2.1zM338.8 736.9h2.1v2.1h-2.1zM262.9 635.8h2.1v2.1h-2.1zM322.3 649.1h2.1v2.1h-2.1zM351.9 712.1h2.1v2.1h-2.1zM283.9 770.3h2.1v2.1h-2.1zM243.8 712.1h2.1v2.1h-2.1zM316.6 649.2h2.1v2.1h-2.1zM227.7 685.2h2.1v2.1h-2.1zM224.7 700.8h2.1v2.1h-2.1zM311 659.6h2.1v2.1h-2.1zM213.1 665.8h2.1v2.1h-2.1zM334 671.1h2.1v2.1h-2.1zM248.4 733.4h2.1v2.1h-2.1zM338.2 687.5h2.1v2.1h-2.1zM323.2 713.1h2.1v2.1h-2.1zM184.6 621.9h2.1v2.1h-2.1zM183.1 684.8h2.1v2.1h-2.1zM205.7 697.4h2.1v2.1h-2.1zM214.6 693.6h2.1v2.1h-2.1zM287.4 737h2.1v2.1h-2.1zM276.3 656.5h2.1v2.1h-2.1zM310.6 638.3h2.1v2.1h-2.1zM207.6 676.7h2.1v2.1h-2.1zM254.7 684.2h2.1v2.1h-2.1zM318.4 638.1h2.1v2.1h-2.1zM324.1 705.6h2.1v2.1h-2.1zM265.7 701.3h2.1v2.1h-2.1zM222.5 683.1h2.1v2.1h-2.1zM278.2 709.1h2.1v2.1h-2.1zM280.2 703.8h2.1v2.1h-2.1zM409.3 620.3h2.1v2.1h-2.1zM255.8 645.9h2.1v2.1h-2.1zM186.2 681.1h2.1v2.1h-2.1zM376.6 640.4h2.1v2.1h-2.1zM309.1 695.9h2.1v2.1h-2.1zM329.9 701.3h2.1v2.1h-2.1zM252.2 722.3h2.1v2.1h-2.1zM380.3 729.3h2.1v2.1h-2.1zM276.5 739.9h2.1v2.1h-2.1zM241 653.3h2.1v2.1h-2.1zM315.6 709.7h2.1v2.1h-2.1zM291.8 703.5h2.1v2.1h-2.1zM230.4 704.5h2.1v2.1h-2.1zM246.8 659h2.1v2.1h-2.1zM282.8 671.1h2.1v2.1h-2.1zM325.1 667.3h2.1v2.1h-2.1zM262.5 691.7h2.1v2.1h-2.1zM271.9 691.3h2.1v2.1h-2.1zM327.6 673.5h2.1v2.1h-2.1zM321.3 687.2h2.1v2.1h-2.1zM282.1 663.8h2.1v2.1h-2.1zM285.9 681.4h2.1v2.1h-2.1zM280.8 691.8h2.1v2.1h-2.1zM277.7 681.7h2.1v2.1h-2.1zM353.9 699.6h2.1v2.1h-2.1zM283.1 677.9h2.1v2.1h-2.1zM265.4 668.7h2.1v2.1h-2.1zM285.6 677.8h2.1v2.1h-2.1zM419.6 679.2h2.1v2.1h-2.1zM261.5 661.7h2.1v2.1h-2.1zM340 644.2h2.1v2.1h-2.1zM342.7 704h2.1v2.1h-2.1zM236.2 667.6h2.1v2.1h-2.1zM312.3 662h2.1v2.1h-2.1zM246.7 700.1h2.1v2.1h-2.1zM197.7 655.2h2.1v2.1h-2.1zM305.1 700.4h2.1v2.1h-2.1zM289.5 717.5h2.1v2.1h-2.1zM309.5 660.6h2.1v2.1h-2.1zM253.4 701.8h2.1v2.1h-2.1zM355.6 682.6h2.1v2.1h-2.1zM268 696h2.1v2.1h-2.1zM314.2 724.1h2.1v2.1h-2.1zM215.9 669.9h2.1v2.1h-2.1zM318.1 696.4h2.1v2.1h-2.1zM284.6 732.8h2.1v2.1h-2.1zM394.1 715.7h2.1v2.1h-2.1zM254.5 705.5h2.1v2.1h-2.1zM268.7 711.2h2.1v2.1h-2.1zM337.5 683.4h2.1v2.1h-2.1zM255.6 686.8h2.1v2.1h-2.1zM315.7 688.8h2.1v2.1h-2.1zM344.1 770.5h2.1v2.1h-2.1zM267.3 686.2h2.1v2.1h-2.1zM275.7 709.6h2.1v2.1h-2.1zM262.7 690.9h2.1v2.1h-2.1zM296.6 667.7h2.1v2.1h-2.1zM306.8 609.5h2.1v2.1h-2.1zM255.3 629.4h2.1v2.1h-2.1zM280.7 723.6h2.1v2.1h-2.1zM355 683.3h2.1v2.1h-2.1zM310.6 626.5h2.1v2.1h-2.1zM263.2 684.6h2.1v2.1h-2.1zM274.6 676.7h2.1v2.1h-2.1zM326 667.7h2.1v2.1h-2.1zM294.6 685.4h2.1v2.1h-2.1zM322.5 679.4h2.1v2.1h-2.1zM271.6 670.3h2.1v2.1h-2.1zM404 730.8h2.1v2.1h-2.1zM325.4 708h2.1v2.1h-2.1zM222.8 685.2h2.1v2.1h-2.1zM421.5 759.5h2.1v2.1h-2.1zM312 726.7h2.1v2.1h-2.1zM293.3 682.3h2.1v2.1h-2.1zM245.1 604.8h2.1v2.1h-2.1zM333.5 720.7h2.1v2.1h-2.1zM306.2 647.6h2.1v2.1h-2.1zM294.2 694h2.1v2.1h-2.1zM289.7 659.1h2.1v2.1h-2.1zM439.9 691.9h2.1v2.1h-2.1zM299.6 674.6h2.1v2.1h-2.1zM331.9 672.2h2.1v2.1h-2.1zM283.6 691.2h2.1v2.1h-2.1zM298.8 701.7h2.1v2.1h-2.1zM266.2 698.3h2.1v2.1h-2.1zM400.2 735.9h2.1v2.1h-2.1zM279.6 707h2.1v2.1h-2.1zM296.1 727h2.1v2.1h-2.1zM327.2 668.7h2.1v2.1h-2.1zM297.9 690.2h2.1v2.1h-2.1zM352.3 619.2h2.1v2.1h-2.1zM402.3 634.3h2.1v2.1h-2.1zM308.1 667.9h2.1v2.1h-2.1zM340.4 728.7h2.1v2.1h-2.1zM205.7 699.6h2.1v2.1h-2.1zM231.4 706.8h2.1v2.1h-2.1zM239 660.5h2.1v2.1h-2.1zM253.3 747.3h2.1v2.1h-2.1zM254 657.1h2.1v2.1h-2.1zM282.1 709.8h2.1v2.1h-2.1zM333.1 659.8h2.1v2.1h-2.1zM282.6 708.9h2.1v2.1h-2.1zM205.9 692.3h2.1v2.1h-2.1zM306.5 676.4h2.1v2.1h-2.1zM332.1 696.6h2.1v2.1h-2.1zM150.7 709h2.1v2.1h-2.1zM316.3 722.5h2.1v2.1h-2.1zM249.7 714.8h2.1v2.1h-2.1zM337.2 717.8h2.1v2.1h-2.1zM274.2 725h2.1v2.1h-2.1zM299.3 655.9h2.1v2.1h-2.1zM338 719.4h2.1v2.1h-2.1zM297.6 697.1h2.1v2.1h-2.1zM256.4 710.3h2.1v2.1h-2.1zM223.7 641.8h2.1v2.1h-2.1zM257.9 730.9h2.1v2.1h-2.1zM258.8 725.5h2.1v2.1h-2.1zM287.3 696.6h2.1v2.1h-2.1zM313.9 651.9h2.1v2.1h-2.1zM379.4 649.3h2.1v2.1h-2.1zM357.7 658h2.1v2.1h-2.1zM317.5 691.8h2.1v2.1h-2.1zM253.1 696.2h2.1v2.1h-2.1zM252.1 684.5h2.1v2.1h-2.1zM271.5 698.1h2.1v2.1h-2.1zM306.2 769.8h2.1v2.1h-2.1zM300.6 746.5h2.1v2.1h-2.1zM239.8 672.3h2.1v2.1h-2.1zM275.1 732.8h2.1v2.1h-2.1zM236.8 700.6h2.1v2.1h-2.1zM302 718.6h2.1v2.1h-2.1zM190.4 707.6h2.1v2.1h-2.1zM320 703.3h2.1v2.1h-2.1zM374.4 691.4h2.1v2.1h-2.1zM365.5 684.8h2.1v2.1h-2.1zM292.3 634.7h2.1v2.1h-2.1zM163.5 690.9h2.1v2.1h-2.1zM255.8 654.9h2.1v2.1h-2.1zM218.1 695.3h2.1v2.1h-2.1zM256.3 676.2h2.1v2.1h-2.1zM290.5 661.1h2.1v2.1h-2.1zM407.1 690.6h2.1v2.1h-2.1zM343.5 687.4h2.1v2.1h-2.1zM246.1 597.5h2.1v2.1h-2.1zM401.2 671.7h2.1v2.1h-2.1zM277.1 701.2h2.1v2.1h-2.1zM308.7 692.8h2.1v2.1h-2.1zM192.2 634h2.1v2.1h-2.1zM266.2 694.8h2.1v2.1h-2.1zM283.5 653.1h2.1v2.1h-2.1zM332.4 682.8h2.1v2.1h-2.1zM396.5 692.7h2.1v2.1h-2.1zM274.7 695.8h2.1v2.1h-2.1zM273.6 638h2.1v2.1h-2.1zM288.7 676h2.1v2.1h-2.1zM262.3 634.1h2.1v2.1h-2.1zM292.8 664.3h2.1v2.1h-2.1zM303.4 654h2.1v2.1h-2.1zM251.4 686.6h2.1v2.1h-2.1zM331.4 725.7h2.1v2.1h-2.1zM329.6 760.3h2.1v2.1h-2.1zM244.9 731.7h2.1v2.1h-2.1zM325.4 670.2h2.1v2.1h-2.1zM233.4 668.6h2.1v2.1h-2.1zM322.1 730.2h2.1v2.1h-2.1zM272.6 733.3h2.1v2.1h-2.1zM253.6 672.1h2.1v2.1h-2.1zM299.9 668.1h2.1v2.1h-2.1zM292.5 709.7h2.1v2.1h-2.1zM299.2 661h2.1v2.1h-2.1zM233 662.2h2.1v2.1h-2.1zM398.8 679.6h2.1v2.1h-2.1zM298.5 674.2h2.1v2.1h-2.1zM374.4 659h2.1v2.1h-2.1zM341.9 701.6h2.1v2.1h-2.1zM294.5 700.8h2.1v2.1h-2.1zM256.9 663.6h2.1v2.1h-2.1zM318 690.5h2.1v2.1h-2.1zM295.6 629.6h2.1v2.1h-2.1zM351.1 733.3h2.1v2.1h-2.1zM282.2 664h2.1v2.1h-2.1zM255.8 684.7h2.1v2.1h-2.1zM257.9 674.8h2.1v2.1h-2.1zM286.4 695.6h2.1v2.1h-2.1zM236.5 689.2h2.1v2.1h-2.1zM345.6 673.8h2.1v2.1h-2.1zM223.8 673.3h2.1v2.1h-2.1zM298.9 730.5h2.1v2.1h-2.1zM306.1 695.4h2.1v2.1h-2.1zM308.3 726h2.1v2.1h-2.1zM244.7 640.2h2.1v2.1h-2.1zM247.5 745.2h2.1v2.1h-2.1zM331.8 702.5h2.1v2.1h-2.1zM252.8 682.1h2.1v2.1h-2.1zM274.9 652.6h2.1v2.1h-2.1zM303.1 692.8h2.1v2.1h-2.1zM325.3 706.6h2.1v2.1h-2.1zM231.8 661.5h2.1v2.1h-2.1zM399.6 732.3h2.1v2.1h-2.1zM220 673.3h2.1v2.1h-2.1zM166.4 683.8h2.1v2.1h-2.1zM310.4 736.8h2.1v2.1h-2.1zM252.9 608.3h2.1v2.1h-2.1zM380.7 691.3h2.1v2.1h-2.1zM250.7 661.4h2.1v2.1h-2.1zM271.1 704.2h2.1v2.1h-2.1zM262.1 657.3h2.1v2.1h-2.1zM326.2 721.2h2.1v2.1h-2.1zM233.5 678.2h2.1v2.1h-2.1zM269 667.5h2.1v2.1h-2.1zM262.6 746.1h2.1v2.1h-2.1zM264.3 649h2.1v2.1h-2.1zM333.1 690.9h2.1v2.1h-2.1zM306.6 639.9h2.1v2.1h-2.1zM261.9 632.7h2.1v2.1h-2.1zM293.3 616.2h2.1v2.1h-2.1zM327.6 724h2.1v2.1h-2.1zM271.2 671.5h2.1v2.1h-2.1zM311.1 668.4h2.1v2.1h-2.1zM355.5 676.3h2.1v2.1h-2.1zM324.1 658h2.1v2.1h-2.1zM317.2 688.2h2.1v2.1h-2.1zM254.9 679.8h2.1v2.1h-2.1zM236.9 693.4h2.1v2.1h-2.1zM304.2 693.2h2.1v2.1h-2.1zM303.1 661.9h2.1v2.1h-2.1zM274.3 696.5h2.1v2.1h-2.1zM325 700.4h2.1v2.1h-2.1zM395.1 658.9h2.1v2.1h-2.1zM175.1 622.8h2.1v2.1h-2.1zM257.6 717h2.1v2.1h-2.1zM348.9 712.3h2.1v2.1h-2.1zM256.9 673.6h2.1v2.1h-2.1zM295.3 655.9h2.1v2.1h-2.1zM291.6 739.1h2.1v2.1h-2.1zM213.4 703.3h2.1v2.1h-2.1zM351.2 650.7h2.1v2.1h-2.1zM201.9 713.7h2.1v2.1h-2.1zM294 605.1h2.1v2.1h-2.1zM276.4 711.5h2.1v2.1h-2.1zM244.9 711.5h2.1v2.1h-2.1zM248.7 689.1h2.1v2.1h-2.1zM278.5 642.3h2.1v2.1h-2.1zM305.2 658.7h2.1v2.1h-2.1zM309.1 679.3h2.1v2.1h-2.1zM313.2 677.2h2.1v2.1h-2.1zM303.9 638.2h2.1v2.1h-2.1zM283.9 668.9h2.1v2.1h-2.1zM361.5 683.7h2.1v2.1h-2.1zM213.4 672.8h2.1v2.1h-2.1zM293.8 667h2.1v2.1h-2.1zM304.3 734.6h2.1v2.1h-2.1zM191.4 700.3h2.1v2.1h-2.1zM313.7 655.6h2.1v2.1h-2.1zM253.4 666.1h2.1v2.1h-2.1zM389.8 663.3h2.1v2.1h-2.1zM270.5 636.9h2.1v2.1h-2.1zM170.8 608.4h2.1v2.1h-2.1zM195 641.4h2.1v2.1h-2.1zM280.3 721h2.1v2.1h-2.1zM300.8 699h2.1v2.1h-2.1zM279.5 742.5h2.1v2.1h-2.1zM265.9 718.8h2.1v2.1h-2.1zM383.4 726.2h2.1v2.1h-2.1zM337.1 611.9h2.1v2.1h-2.1zM305.5 696h2.1v2.1h-2.1zM279.8 718h2.1v2.1h-2.1zM246.6 702.9h2.1v2.1h-2.1zM276 691.1h2.1v2.1h-2.1zM342.7 660.4h2.1v2.1h-2.1zM289.1 663.2h2.1v2.1h-2.1zM286.9 758.3h2.1v2.1h-2.1zM172 743.9h2.1v2.1h-2.1zM336.4 687.4h2.1v2.1h-2.1zM311.9 632.2h2.1v2.1h-2.1zM214.2 634.3h2.1v2.1h-2.1zM354.9 673.9h2.1v2.1h-2.1zM398.9 669.8h2.1v2.1h-2.1zM230.1 636h2.1v2.1h-2.1zM334.6 647.3h2.1v2.1h-2.1zM227.6 657.9h2.1v2.1h-2.1zM319.1 628.4h2.1v2.1h-2.1zM240.7 745.2h2.1v2.1h-2.1zM351 680.9h2.1v2.1h-2.1zM251.3 762.4h2.1v2.1h-2.1zM188.9 654.2h2.1v2.1h-2.1zM298.5 718.5h2.1v2.1h-2.1zM356.6 702h2.1v2.1h-2.1zM254.5 662.5h2.1v2.1h-2.1zM190.7 656.3h2.1v2.1h-2.1zM340.9 668.8h2.1v2.1h-2.1zM245 686.2h2.1v2.1h-2.1zM307.3 671.4h2.1v2.1h-2.1zM391.5 702.8h2.1v2.1h-2.1zM210.3 654.6h2.1v2.1h-2.1zM312 665.6h2.1v2.1h-2.1zM292.2 742.3h2.1v2.1h-2.1zM372.8 687h2.1v2.1h-2.1zM281.5 719.3h2.1v2.1h-2.1zM339.5 729.4h2.1v2.1h-2.1zM393.1 663h2.1v2.1h-2.1zM347.9 727.3h2.1v2.1h-2.1zM278.8 693.1h2.1v2.1h-2.1zM416.2 664.3h2.1v2.1h-2.1zM330 683.9h2.1v2.1h-2.1zM391.3 723h2.1v2.1h-2.1zM181.9 722.7h2.1v2.1h-2.1zM297.9 707.6h2.1v2.1h-2.1zM297.4 718.7h2.1v2.1h-2.1zM389.9 698.7h2.1v2.1h-2.1zM279.3 689.3h2.1v2.1h-2.1zM429.7 699.4h2.1v2.1h-2.1zM166.8 605.7h2.1v2.1h-2.1zM416.9 633.8h2.1v2.1h-2.1zM418 681.7h2.1v2.1h-2.1zM378.3 668.1h2.1v2.1h-2.1zM197.6 678h2.1v2.1h-2.1zM390.3 690.6h2.1v2.1h-2.1zM301.2 735.1h2.1v2.1h-2.1zM304.1 682.6h2.1v2.1h-2.1zM343.9 735.7h2.1v2.1h-2.1zM409.9 665.1h2.1v2.1h-2.1zM210.5 693.9h2.1v2.1h-2.1zM423.7 646.1h2.1v2.1h-2.1zM209.7 667.3h2.1v2.1h-2.1zM362.6 703.2h2.1v2.1h-2.1zM276.4 665.6h2.1v2.1h-2.1zM424.9 660.3h2.1v2.1h-2.1zM187.6 711.8h2.1v2.1h-2.1zM229.1 681.7h2.1v2.1h-2.1zM180.6 667.6h2.1v2.1h-2.1zM190.7 653h2.1v2.1h-2.1zM366.7 655.2h2.1v2.1h-2.1zM195.2 699.9h2.1v2.1h-2.1zM432.6 697.8h2.1v2.1h-2.1zM382 680.2h2.1v2.1h-2.1zM169.2 685.1h2.1v2.1h-2.1zM299 639.9h2.1v2.1h-2.1zM339.9 681.7h2.1v2.1h-2.1zM424.1 727.4h2.1v2.1h-2.1zM379.6 714.3h2.1v2.1h-2.1zM288.8 709.8h2.1v2.1h-2.1zM202.6 682.4h2.1v2.1h-2.1zM276.5 688.1h2.1v2.1h-2.1zM431.7 740.2h2.1v2.1h-2.1zM202.3 705.5h2.1v2.1h-2.1zM181.5 710.8h2.1v2.1h-2.1zM312.1 629.8h2.1v2.1h-2.1zM357.8 733h2.1v2.1h-2.1zM386.7 653h2.1v2.1h-2.1zM408.4 701.9h2.1v2.1h-2.1zM225.9 633.3h2.1v2.1h-2.1zM193.7 693.2h2.1v2.1h-2.1zM206.8 680.6h2.1v2.1h-2.1zM171.2 615.7h2.1v2.1h-2.1zM425.1 682.9h2.1v2.1h-2.1zM177.4 703.3h2.1v2.1h-2.1zM436 692.8h2.1v2.1h-2.1zM275.9 679.5h2.1v2.1h-2.1zM278.6 692h2.1v2.1h-2.1zM358 682.7h2.1v2.1h-2.1zM279.1 708.7h2.1v2.1h-2.1zM287.4 707.4h2.1v2.1h-2.1zM191.4 640.6h2.1v2.1h-2.1zM369.6 711.8h2.1v2.1h-2.1zM197.7 685.6h2.1v2.1h-2.1zM278 667.6h2.1v2.1h-2.1zM172.2 664.8h2.1v2.1h-2.1zM308.7 684.4h2.1v2.1h-2.1zM438.6 671.9h2.1v2.1h-2.1zM191.1 745.2h2.1v2.1h-2.1zM375.3 692.8h2.1v2.1h-2.1zM432.8 659.4h2.1v2.1h-2.1zM153.4 681.3h2.1v2.1h-2.1zM177.6 671.5h2.1v2.1h-2.1zM211.5 646.1h2.1v2.1h-2.1zM389 653.8h2.1v2.1h-2.1zM373.2 678h2.1v2.1h-2.1zM354.4 703.7h2.1v2.1h-2.1zM399.2 661.6h2.1v2.1h-2.1zM251.8 716h2.1v2.1h-2.1zM192.5 694.9h2.1v2.1h-2.1zM305.8 660.9h2.1v2.1h-2.1zM429.6 651h2.1v2.1h-2.1zM225.4 718.6h2.1v2.1h-2.1zM340.6 728.5h2.1v2.1h-2.1zM224.2 677.5h2.1v2.1h-2.1zM220.3 680.8h2.1v2.1h-2.1zM163.6 676.6h2.1v2.1h-2.1zM413.5 714.3h2.1v2.1h-2.1zM176.5 660.9h2.1v2.1h-2.1zM347.3 729.3h2.1v2.1h-2.1zM334.6 592.9h2.1v2.1h-2.1zM184.6 706.5h2.1v2.1h-2.1zM195.8 648.1h2.1v2.1h-2.1zM152.8 635.5h2.1v2.1h-2.1zM159.7 683.7h2.1v2.1h-2.1zM158.5 658.4h2.1v2.1h-2.1zM152.7 655.5h2.1v2.1h-2.1zM160.4 632.5h2.1v2.1h-2.1zM158.8 689.6h2.1v2.1h-2.1zM158.2 712.1h2.1v2.1h-2.1zM150.1 655.8h2.1v2.1h-2.1zM149.6 702h2.1v2.1h-2.1zM151.8 700.5h2.1v2.1h-2.1zM274.6 578h2.1v2.1h-2.1zM239.4 587.5h2.1v2.1h-2.1zM234.9 812h2.1v2.1h-2.1zM383.9 797h2.1v2.1h-2.1zM392.6 794.4h2.1v2.1h-2.1zM412.8 812h2.1v2.1h-2.1zM420.8 600.2h2.1v2.1h-2.1zM323.3 602.9h2.1v2.1h-2.1z" fill="#7d7d7d"/><path d="M108.7 663.8 L109.7 664 L110.7 664.2 L111.7 664.5 L112.7 664.7 L113.7 664.9 L114.7 665.1 L115.7 665.3 L116.7 665.5 L117.7 665.7 L118.7 665.9 L119.7 666.1 L120.7 666.4 L121.7 666.6 L122.7 666.8 L123.7 667 L124.7 667.2 L125.7 667.4 L126.7 667.6 L127.7 667.8 L128.7 668 L129.7 668.2 L130.7 668.4 L131.7 668.6 L132.7 668.8 L133.7 668.9 L134.7 669.1 L135.7 669.3 L136.7 669.5 L137.7 669.7 L138.7 669.9 L139.7 670.1 L140.7 670.3 L141.7 670.5 L142.7 670.6 L143.7 670.8 L144.7 671 L145.7 671.2 L146.7 671.4 L147.7 671.6 L148.7 671.7 L149.7 671.9 L150.7 672.1 L151.7 672.3 L152.7 672.4 L153.7 672.6 L154.7 672.8 L155.7 673 L156.7 673.1 L157.7 673.3 L158.7 673.5 L159.7 673.6 L160.7 673.8 L161.7 674 L162.7 674.1 L163.7 674.3 L164.7 674.5 L165.7 674.6 L166.7 674.8 L167.7 675 L168.7 675.1 L169.7 675.3 L170.7 675.4 L171.7 675.6 L172.7 675.8 L173.7 675.9 L174.7 676.1 L175.7 676.2 L176.7 676.4 L177.7 676.5 L178.7 676.7 L179.7 676.8 L180.7 677 L181.7 677.1 L182.7 677.3 L183.7 677.4 L184.7 677.6 L185.7 677.7 L186.7 677.9 L187.7 678 L188.7 678.1 L189.7 678.3 L190.7 678.4 L191.7 678.6 L192.7 678.7 L193.7 678.8 L194.7 679 L195.7 679.1 L196.7 679.2 L197.7 679.4 L198.7 679.5 L199.7 679.6 L200.7 679.8 L201.7 679.9 L202.7 680 L203.7 680.2 L204.7 680.3 L205.7 680.4 L206.7 680.5 L207.7 680.7 L208.7 680.8 L209.7 680.9 L210.7 681 L211.7 681.2 L212.7 681.3 L213.7 681.4 L214.7 681.5 L215.7 681.6 L216.7 681.7 L217.7 681.9 L218.7 682 L219.7 682.1 L220.7 682.2 L221.7 682.3 L222.7 682.4 L223.7 682.5 L224.7 682.7 L225.7 682.8 L226.7 682.9 L227.7 683 L228.7 683.1 L229.7 683.2 L230.7 683.3 L231.7 683.4 L232.7 683.5 L233.7 683.6 L234.7 683.7 L235.7 683.8 L236.7 683.9 L237.7 684 L238.7 684.1 L239.7 684.2 L240.7 684.3 L241.7 684.4 L242.7 684.5 L243.7 684.6 L244.7 684.7 L245.7 684.8 L246.7 684.8 L247.7 684.9 L248.7 685 L249.7 685.1 L250.7 685.2 L251.7 685.3 L252.7 685.4 L253.7 685.5 L254.7 685.5 L255.7 685.6 L256.7 685.7 L257.7 685.8 L258.7 685.9 L259.7 686 L260.7 686 L261.7 686.1 L262.7 686.2 L263.7 686.3 L264.7 686.3 L265.7 686.4 L266.7 686.5 L267.7 686.6 L268.7 686.6 L269.7 686.7 L270.7 686.8 L271.7 686.8 L272.7 686.9 L273.7 687 L274.7 687 L275.7 687.1 L276.7 687.2 L277.7 687.2 L278.7 687.3 L279.7 687.4 L280.7 687.4 L281.7 687.5 L282.7 687.6 L283.7 687.6 L284.7 687.7 L285.7 687.7 L286.7 687.8 L287.7 687.8 L288.7 687.9 L289.7 688 L290.7 688 L291.7 688.1 L292.7 688.1 L293.7 688.2 L294.7 688.2 L295.7 688.3 L296.7 688.3 L297.7 688.4 L298.7 688.4 L299.7 688.5 L300.7 688.5 L301.7 688.6 L302.7 688.6 L303.7 688.6 L304.7 688.7 L305.7 688.7 L306.7 688.8 L307.7 688.8 L308.7 688.9 L309.7 688.9 L310.7 688.9 L311.7 689 L312.7 689 L313.7 689 L314.7 689.1 L315.7 689.1 L316.7 689.1 L317.7 689.2 L318.7 689.2 L319.7 689.2 L320.7 689.3 L321.7 689.3 L322.7 689.3 L323.7 689.4 L324.7 689.4 L325.7 689.4 L326.7 689.4 L327.7 689.5 L328.7 689.5 L329.7 689.5 L330.7 689.5 L331.7 689.6 L332.7 689.6 L333.7 689.6 L334.7 689.6 L335.7 689.6 L336.7 689.6 L337.7 689.7 L338.7 689.7 L339.7 689.7 L340.7 689.7 L341.7 689.7 L342.7 689.7 L343.7 689.8 L344.7 689.8 L345.7 689.8 L346.7 689.8 L347.7 689.8 L348.7 689.8 L349.7 689.8 L350.7 689.8 L351.7 689.8 L352.7 689.8 L353.7 689.8 L354.7 689.8 L355.7 689.8 L356.7 689.9 L357.7 689.9 L358.7 689.9 L359.7 689.9 L360.7 689.9 L361.7 689.9 L362.7 689.9 L363.7 689.9 L364.7 689.8 L365.7 689.8 L366.7 689.8 L367.7 689.8 L368.7 689.8 L369.7 689.8 L370.7 689.8 L371.7 689.8 L372.7 689.8 L373.7 689.8 L374.7 689.8 L375.7 689.8 L376.7 689.8 L377.7 689.7 L378.7 689.7 L379.7 689.7 L380.7 689.7 L381.7 689.7 L382.7 689.7 L383.7 689.7 L384.7 689.6 L385.7 689.6 L386.7 689.6 L387.7 689.6 L388.7 689.6 L389.7 689.5 L390.7 689.5 L391.7 689.5 L392.7 689.5 L393.7 689.4 L394.7 689.4 L395.7 689.4 L396.7 689.4 L397.7 689.3 L398.7 689.3 L399.7 689.3 L400.7 689.3 L401.7 689.2 L402.7 689.2 L403.7 689.2 L404.7 689.1 L405.7 689.1 L406.7 689.1 L407.7 689 L408.7 689 L409.7 689 L410.7 688.9 L411.7 688.9 L412.7 688.9 L413.7 688.8 L414.7 688.8 L415.7 688.7 L416.7 688.7 L417.7 688.7 L418.7 688.6 L419.7 688.6 L420.7 688.5 L421.7 688.5 L422.7 688.5 L423.7 688.4 L424.7 688.4 L425.7 688.3 L426.7 688.3 L427.7 688.2 L428.7 688.2 L429.7 688.1 L430.7 688.1 L431.7 688 L432.7 688 L433.7 687.9 L434.7 687.9 L435.7 687.8 L436.7 687.8 L437.7 687.7 L438.7 687.7 L439.7 687.6 L440.7 687.5 L441.7 687.5 L442.7 687.4 L443.7 687.4 L444.7 687.3 L445.7 687.3 L446.7 687.2 L447.7 687.1 L448.7 687.1 L449.7 687 L450.7 687 L451.7 686.9 L452.7 686.8 L453.7 686.8 L454.7 686.7 L455.7 686.6 L456.7 686.6 L457.7 686.5 L458.7 686.4 L459.7 686.4 L460.7 686.3 L461.7 686.2 L462.7 686.2 L463.7 686.1 L464.7 686 L465.7 685.9 L466.7 685.9 L467.7 685.8 L468.7 685.7 L469.7 685.6 L470.7 685.6 L471.7 685.5 L472.7 685.4 L473.7 685.3 L474.7 685.3 L475.7 685.2 L476.7 685.1 L477.7 685 L478.7 684.9 L479.7 684.9 L480.7 684.8 L481.7 684.7 L482.7 684.6 L483.7 684.5 L484.7 684.5 L485.7 684.4 L486.7 684.3 L487.7 684.2 L488.7 684.1 L489.7 684 L490.7 683.9 L491.7 683.8 L492.7 683.8 L493.7 683.7 L494.7 683.6 L495.7 683.5 L496.7 683.4 L497.7 683.3 L498.7 683.2 L499.7 683.1 L500.7 683 L501.7 682.9 L502.4 682.9" fill="none" stroke="#1e1e1e" stroke-width="2.6" stroke-linejoin="round" stroke-linecap="round"/><path d="M108.1 840.8v9.5M117.1 840.8v9.5M122 840.8v9.5M126.9 840.8v9.5M131.7 840.8v9.5M138 840.8v9.5M140 840.8v9.5M146.3 840.8v9.5M445 840.8v9.5M448 840.8v9.5M458.9 840.8v9.5M479 840.8v9.5M481 840.8v9.5M483.5 840.8v9.5M493 840.8v9.5M502.4 840.8v9.5M236.9 840.8v9.5M269.3 840.8v9.5M343 840.8v9.5M381.9 840.8v9.5M269.3 840.8v9.5M230.8 840.8v9.5M231.6 840.8v9.5M331.1 840.8v9.5M314.2 840.8v9.5M189.2 840.8v9.5M321.7 840.8v9.5M237.2 840.8v9.5M338.6 840.8v9.5M295.4 840.8v9.5M260.1 840.8v9.5M337.7 840.8v9.5M174.7 840.8v9.5M334.4 840.8v9.5M221.1 840.8v9.5M270.1 840.8v9.5M341 840.8v9.5M301.7 840.8v9.5M289 840.8v9.5M219.7 840.8v9.5M296.8 840.8v9.5M202.9 840.8v9.5M310.6 840.8v9.5M214.8 840.8v9.5M216.1 840.8v9.5M268.5 840.8v9.5M274.5 840.8v9.5M319.7 840.8v9.5M248.8 840.8v9.5M411.1 840.8v9.5M229.9 840.8v9.5M265.5 840.8v9.5M305.3 840.8v9.5M289.8 840.8v9.5M211.9 840.8v9.5M237.8 840.8v9.5M246.1 840.8v9.5M300.2 840.8v9.5M310.6 840.8v9.5M305.3 840.8v9.5M224 840.8v9.5M292 840.8v9.5M328.3 840.8v9.5M281.3 840.8v9.5M367.4 840.8v9.5M276.4 840.8v9.5M293.7 840.8v9.5M209.4 840.8v9.5M336.8 840.8v9.5M312.4 840.8v9.5M235 840.8v9.5M294.4 840.8v9.5M311.8 840.8v9.5M171.8 840.8v9.5M223.9 840.8v9.5M299.4 840.8v9.5M318.8 840.8v9.5M307.3 840.8v9.5M323.8 840.8v9.5M374.1 840.8v9.5M270.3 840.8v9.5M339.8 840.8v9.5M263.9 840.8v9.5M323.3 840.8v9.5M353 840.8v9.5M285 840.8v9.5M244.9 840.8v9.5M317.7 840.8v9.5M228.7 840.8v9.5M225.7 840.8v9.5M312 840.8v9.5M214.2 840.8v9.5M335 840.8v9.5M249.5 840.8v9.5M339.3 840.8v9.5M324.2 840.8v9.5M185.7 840.8v9.5M184.2 840.8v9.5M206.7 840.8v9.5M215.7 840.8v9.5M288.4 840.8v9.5M277.4 840.8v9.5M311.7 840.8v9.5M208.6 840.8v9.5M255.7 840.8v9.5M319.5 840.8v9.5M325.1 840.8v9.5M266.8 840.8v9.5M223.6 840.8v9.5M279.2 840.8v9.5M281.3 840.8v9.5M410.4 840.8v9.5M256.9 840.8v9.5M187.3 840.8v9.5M377.6 840.8v9.5M310.2 840.8v9.5M331 840.8v9.5M253.3 840.8v9.5M381.3 840.8v9.5M277.5 840.8v9.5M242 840.8v9.5M316.6 840.8v9.5M292.8 840.8v9.5M231.5 840.8v9.5M247.9 840.8v9.5M283.9 840.8v9.5M326.2 840.8v9.5M263.5 840.8v9.5M273 840.8v9.5M328.6 840.8v9.5M322.4 840.8v9.5M283.1 840.8v9.5M286.9 840.8v9.5M281.9 840.8v9.5M278.7 840.8v9.5M354.9 840.8v9.5M284.2 840.8v9.5M266.5 840.8v9.5M286.6 840.8v9.5M420.6 840.8v9.5M262.6 840.8v9.5M341.1 840.8v9.5M343.7 840.8v9.5M237.2 840.8v9.5M313.3 840.8v9.5M247.8 840.8v9.5M198.8 840.8v9.5M306.1 840.8v9.5M290.6 840.8v9.5M310.5 840.8v9.5M254.4 840.8v9.5M356.7 840.8v9.5M269.1 840.8v9.5M315.3 840.8v9.5M217 840.8v9.5M319.1 840.8v9.5M285.6 840.8v9.5M395.1 840.8v9.5M255.5 840.8v9.5M269.7 840.8v9.5M338.5 840.8v9.5M256.6 840.8v9.5M316.8 840.8v9.5M345.1 840.8v9.5M268.3 840.8v9.5M276.8 840.8v9.5M263.8 840.8v9.5M297.6 840.8v9.5M307.8 840.8v9.5M256.3 840.8v9.5M281.7 840.8v9.5M356.1 840.8v9.5M311.6 840.8v9.5M264.2 840.8v9.5M275.6 840.8v9.5M327 840.8v9.5M295.6 840.8v9.5M323.5 840.8v9.5M272.7 840.8v9.5M405.1 840.8v9.5M326.4 840.8v9.5M223.9 840.8v9.5M422.6 840.8v9.5M313.1 840.8v9.5M294.3 840.8v9.5M246.1 840.8v9.5M334.6 840.8v9.5M307.2 840.8v9.5M295.2 840.8v9.5M290.7 840.8v9.5M441 840.8v9.5M300.6 840.8v9.5M332.9 840.8v9.5M284.6 840.8v9.5M299.8 840.8v9.5M267.2 840.8v9.5M401.3 840.8v9.5M280.7 840.8v9.5M297.1 840.8v9.5M328.3 840.8v9.5M298.9 840.8v9.5M353.3 840.8v9.5M403.3 840.8v9.5M309.1 840.8v9.5M341.5 840.8v9.5M206.8 840.8v9.5M232.5 840.8v9.5M240 840.8v9.5M254.4 840.8v9.5M255.1 840.8v9.5M283.1 840.8v9.5M334.2 840.8v9.5M283.6 840.8v9.5M207 840.8v9.5M307.6 840.8v9.5M333.2 840.8v9.5M151.8 840.8v9.5M317.3 840.8v9.5M250.7 840.8v9.5M338.2 840.8v9.5M275.3 840.8v9.5M300.4 840.8v9.5M339 840.8v9.5M298.6 840.8v9.5M257.4 840.8v9.5M224.8 840.8v9.5M259 840.8v9.5M259.8 840.8v9.5M288.3 840.8v9.5M314.9 840.8v9.5M380.4 840.8v9.5M358.8 840.8v9.5M318.6 840.8v9.5M254.2 840.8v9.5M253.1 840.8v9.5M272.5 840.8v9.5M307.3 840.8v9.5M301.6 840.8v9.5M240.9 840.8v9.5M276.1 840.8v9.5M237.8 840.8v9.5M303.1 840.8v9.5M191.4 840.8v9.5M321.1 840.8v9.5M375.4 840.8v9.5M366.6 840.8v9.5M293.4 840.8v9.5M164.6 840.8v9.5M256.9 840.8v9.5M219.1 840.8v9.5M257.4 840.8v9.5M291.5 840.8v9.5M408.1 840.8v9.5M344.5 840.8v9.5M247.2 840.8v9.5M402.2 840.8v9.5M278.1 840.8v9.5M309.7 840.8v9.5M193.2 840.8v9.5M267.3 840.8v9.5M284.5 840.8v9.5M333.4 840.8v9.5M397.6 840.8v9.5M275.7 840.8v9.5M274.6 840.8v9.5M289.7 840.8v9.5M263.4 840.8v9.5M293.9 840.8v9.5M304.4 840.8v9.5M252.4 840.8v9.5M332.4 840.8v9.5M330.6 840.8v9.5M245.9 840.8v9.5M326.5 840.8v9.5M234.5 840.8v9.5M323.2 840.8v9.5M273.6 840.8v9.5M254.6 840.8v9.5M300.9 840.8v9.5M293.5 840.8v9.5M300.2 840.8v9.5M234.1 840.8v9.5M399.9 840.8v9.5M299.5 840.8v9.5M375.5 840.8v9.5M343 840.8v9.5M295.6 840.8v9.5M258 840.8v9.5M319.1 840.8v9.5M296.6 840.8v9.5M352.2 840.8v9.5M283.3 840.8v9.5M256.9 840.8v9.5M259 840.8v9.5M287.5 840.8v9.5M237.5 840.8v9.5M346.7 840.8v9.5M224.8 840.8v9.5M299.9 840.8v9.5M307.2 840.8v9.5M309.3 840.8v9.5M245.8 840.8v9.5M248.5 840.8v9.5M332.8 840.8v9.5M253.9 840.8v9.5M276 840.8v9.5M304.2 840.8v9.5M326.3 840.8v9.5M232.9 840.8v9.5M400.6 840.8v9.5M221 840.8v9.5M167.5 840.8v9.5M311.5 840.8v9.5M254 840.8v9.5M381.8 840.8v9.5M251.7 840.8v9.5M272.1 840.8v9.5M263.1 840.8v9.5M327.3 840.8v9.5M234.6 840.8v9.5M270.1 840.8v9.5M263.7 840.8v9.5M265.3 840.8v9.5M334.1 840.8v9.5M307.6 840.8v9.5M262.9 840.8v9.5M294.4 840.8v9.5M328.6 840.8v9.5M272.2 840.8v9.5M312.1 840.8v9.5M356.6 840.8v9.5M325.2 840.8v9.5M318.3 840.8v9.5M255.9 840.8v9.5M238 840.8v9.5M305.2 840.8v9.5M304.1 840.8v9.5M275.4 840.8v9.5M326.1 840.8v9.5M396.2 840.8v9.5M176.1 840.8v9.5M258.6 840.8v9.5M350 840.8v9.5M257.9 840.8v9.5M296.4 840.8v9.5M292.6 840.8v9.5M214.4 840.8v9.5M352.3 840.8v9.5M203 840.8v9.5M295 840.8v9.5M277.5 840.8v9.5M246 840.8v9.5M249.8 840.8v9.5M279.6 840.8v9.5M306.3 840.8v9.5M310.2 840.8v9.5M314.3 840.8v9.5M304.9 840.8v9.5M284.9 840.8v9.5M362.5 840.8v9.5M214.5 840.8v9.5M294.9 840.8v9.5M305.3 840.8v9.5M192.4 840.8v9.5M314.7 840.8v9.5M254.4 840.8v9.5M390.8 840.8v9.5M271.6 840.8v9.5M171.8 840.8v9.5M196 840.8v9.5M281.4 840.8v9.5M301.9 840.8v9.5M280.5 840.8v9.5M266.9 840.8v9.5M384.4 840.8v9.5M338.1 840.8v9.5M306.5 840.8v9.5M280.9 840.8v9.5M247.7 840.8v9.5M277 840.8v9.5M343.7 840.8v9.5M290.1 840.8v9.5M287.9 840.8v9.5M173.1 840.8v9.5M337.4 840.8v9.5M313 840.8v9.5M215.2 840.8v9.5M355.9 840.8v9.5M400 840.8v9.5M231.1 840.8v9.5M335.7 840.8v9.5M228.7 840.8v9.5M320.2 840.8v9.5M241.7 840.8v9.5M352.1 840.8v9.5M252.4 840.8v9.5M189.9 840.8v9.5M299.5 840.8v9.5M357.7 840.8v9.5M255.5 840.8v9.5M191.7 840.8v9.5M341.9 840.8v9.5M246.1 840.8v9.5M308.3 840.8v9.5M392.6 840.8v9.5M211.4 840.8v9.5M313 840.8v9.5M293.3 840.8v9.5M373.8 840.8v9.5M282.6 840.8v9.5M340.6 840.8v9.5M394.2 840.8v9.5M348.9 840.8v9.5M279.9 840.8v9.5M417.3 840.8v9.5M331 840.8v9.5M392.3 840.8v9.5M183 840.8v9.5M299 840.8v9.5M298.4 840.8v9.5M391 840.8v9.5M280.4 840.8v9.5M430.7 840.8v9.5M167.8 840.8v9.5M417.9 840.8v9.5M419.1 840.8v9.5M379.3 840.8v9.5M198.6 840.8v9.5M391.3 840.8v9.5M302.2 840.8v9.5M305.2 840.8v9.5M344.9 840.8v9.5M411 840.8v9.5M211.6 840.8v9.5M424.7 840.8v9.5M210.7 840.8v9.5M363.7 840.8v9.5M277.5 840.8v9.5M425.9 840.8v9.5M188.6 840.8v9.5M230.2 840.8v9.5M181.6 840.8v9.5M191.8 840.8v9.5M367.8 840.8v9.5M196.2 840.8v9.5M433.6 840.8v9.5M383 840.8v9.5M170.3 840.8v9.5M300 840.8v9.5M341 840.8v9.5M425.1 840.8v9.5M380.7 840.8v9.5M289.8 840.8v9.5M203.6 840.8v9.5M277.6 840.8v9.5M432.7 840.8v9.5M203.3 840.8v9.5M182.6 840.8v9.5M313.1 840.8v9.5M358.8 840.8v9.5M387.7 840.8v9.5M409.4 840.8v9.5M226.9 840.8v9.5M194.7 840.8v9.5M207.8 840.8v9.5M172.3 840.8v9.5M426.2 840.8v9.5M178.4 840.8v9.5M437 840.8v9.5M276.9 840.8v9.5M279.6 840.8v9.5M359.1 840.8v9.5M280.2 840.8v9.5M288.4 840.8v9.5M192.5 840.8v9.5M370.6 840.8v9.5M198.7 840.8v9.5M279.1 840.8v9.5M173.2 840.8v9.5M309.8 840.8v9.5M439.6 840.8v9.5M192.1 840.8v9.5M376.3 840.8v9.5M433.9 840.8v9.5M154.4 840.8v9.5M178.7 840.8v9.5M212.5 840.8v9.5M390 840.8v9.5M374.2 840.8v9.5M355.4 840.8v9.5M400.3 840.8v9.5M252.8 840.8v9.5M193.6 840.8v9.5M306.9 840.8v9.5M430.7 840.8v9.5M226.5 840.8v9.5M341.7 840.8v9.5M225.3 840.8v9.5M221.4 840.8v9.5M164.7 840.8v9.5M414.6 840.8v9.5M177.6 840.8v9.5M348.4 840.8v9.5M335.7 840.8v9.5M185.7 840.8v9.5M196.8 840.8v9.5M153.8 840.8v9.5M160.8 840.8v9.5M159.6 840.8v9.5M153.8 840.8v9.5M161.5 840.8v9.5M159.8 840.8v9.5M159.2 840.8v9.5M151.2 840.8v9.5M150.6 840.8v9.5M152.9 840.8v9.5" stroke="#111" stroke-width="1.0" fill="none"/><rect x="93" y="548.3" width="425.6" height="302" fill="none" stroke="#2e2e2e" stroke-width="2"/><text class="t" x="65.3" y="815" transform="rotate(-90 65.3 815)" text-anchor="middle" font-size="18.7" fill="#2a2a2a">-2</text><text class="t" x="65.3" y="750.7" transform="rotate(-90 65.3 750.7)" text-anchor="middle" font-size="18.7" fill="#2a2a2a">-1</text><text class="t" x="65.3" y="686.4" transform="rotate(-90 65.3 686.4)" text-anchor="middle" font-size="18.7" fill="#2a2a2a">0</text><text class="t" x="65.3" y="622.1" transform="rotate(-90 65.3 622.1)" text-anchor="middle" font-size="18.7" fill="#2a2a2a">1</text><text class="t" x="65.3" y="557.8" transform="rotate(-90 65.3 557.8)" text-anchor="middle" font-size="18.7" fill="#2a2a2a">2</text><text class="t" x="124.3" y="891" text-anchor="middle" font-size="18.7" fill="#2a2a2a">-0.04</text><text class="t" x="202.4" y="891" text-anchor="middle" font-size="18.7" fill="#2a2a2a">-0.02</text><text class="t" x="280.5" y="891" text-anchor="middle" font-size="18.7" fill="#2a2a2a">0.00</text><text class="t" x="358.6" y="891" text-anchor="middle" font-size="18.7" fill="#2a2a2a">0.02</text><text class="t" x="436.7" y="891" text-anchor="middle" font-size="18.7" fill="#2a2a2a">0.04</text><text class="t" x="514.8" y="891" text-anchor="middle" font-size="18.7" fill="#2a2a2a">0.06</text><path d="M81 815H93M81 750.7H93M81 686.4H93M81 622.1H93M81 557.8H93M124.3 850.3V862.3M202.4 850.3V862.3M280.5 850.3V862.3M358.6 850.3V862.3M436.7 850.3V862.3M514.8 850.3V862.3" stroke="#2e2e2e" stroke-width="2" fill="none"/><text class="t" x="305.8" y="935.9" text-anchor="middle" font-size="18.7" fill="#2a2a2a">vo</text><text class="t" x="21" y="699.3" transform="rotate(-90 21 699.3)" text-anchor="middle" font-size="18.7" fill="#2a2a2a">s(vo,2.31)</text></g><g><path d="M672.5 658.9 L673.5 659.4 L674.5 659.9 L675.5 660.4 L676.5 660.8 L677.5 661.3 L678.5 661.8 L679.5 662.2 L680.5 662.7 L681.5 663.1 L682.5 663.6 L683.5 664 L684.5 664.5 L685.5 664.9 L686.5 665.4 L687.5 665.8 L688.5 666.2 L689.5 666.7 L690.5 667.1 L691.5 667.5 L692.5 668 L693.5 668.4 L694.5 668.8 L695.5 669.2 L696.5 669.6 L697.5 670 L698.5 670.4 L699.5 670.8 L700.5 671.2 L701.5 671.6 L702.5 672 L703.5 672.4 L704.5 672.8 L705.5 673.2 L706.5 673.6 L707.5 673.9 L708.5 674.3 L709.5 674.7 L710.5 675.1 L711.5 675.4 L712.5 675.8 L713.5 676.2 L714.5 676.5 L715.5 676.9 L716.5 677.2 L717.5 677.6 L718.5 677.9 L719.5 678.3 L720.5 678.6 L721.5 679 L722.5 679.3 L723.5 679.6 L724.5 680 L725.5 680.3 L726.5 680.6 L727.5 681 L728.5 681.3 L729.5 681.6 L730.5 681.9 L731.5 682.3 L732.5 682.6 L733.5 682.9 L734.5 683.2 L735.5 683.5 L736.5 683.8 L737.5 684.1 L738.5 684.4 L739.5 684.7 L740.5 685 L741.5 685.3 L742.5 685.6 L743.5 685.9 L744.5 686.2 L745.5 686.5 L746.5 686.8 L747.5 687.1 L748.5 687.3 L749.5 687.6 L750.5 687.9 L751.5 688.2 L752.5 688.5 L753.5 688.7 L754.5 689 L755.5 689.3 L756.5 689.5 L757.5 689.8 L758.5 690.1 L759.5 690.3 L760.5 690.6 L761.5 690.8 L762.5 691.1 L763.5 691.3 L764.5 691.6 L765.5 691.8 L766.5 692.1 L767.5 692.3 L768.5 692.6 L769.5 692.8 L770.5 693.1 L771.5 693.3 L772.5 693.5 L773.5 693.8 L774.5 694 L775.5 694.3 L776.5 694.5 L777.5 694.7 L778.5 694.9 L779.5 695.2 L780.5 695.4 L781.5 695.6 L782.5 695.9 L783.5 696.1 L784.5 696.3 L785.5 696.5 L786.5 696.7 L787.5 697 L788.5 697.2 L789.5 697.4 L790.5 697.6 L791.5 697.8 L792.5 698 L793.5 698.2 L794.5 698.4 L795.5 698.6 L796.5 698.8 L797.5 699 L798.5 699.3 L799.5 699.5 L800.5 699.7 L801.5 699.9 L802.5 700.1 L803.5 700.3 L804.5 700.4 L805.5 700.6 L806.5 700.8 L807.5 701 L808.5 701.2 L809.5 701.4 L810.5 701.6 L811.5 701.8 L812.5 702 L813.5 702.2 L814.5 702.4 L815.5 702.5 L816.5 702.7 L817.5 702.9 L818.5 703.1 L819.5 703.3 L820.5 703.5 L821.5 703.6 L822.5 703.8 L823.5 704 L824.5 704.2 L825.5 704.4 L826.5 704.5 L827.5 704.7 L828.5 704.9 L829.5 705.1 L830.5 705.3 L831.5 705.4 L832.5 705.6 L833.5 705.8 L834.5 706 L835.5 706.1 L836.5 706.3 L837.5 706.5 L838.5 706.6 L839.5 706.8 L840.5 707 L841.5 707.2 L842.5 707.3 L843.5 707.5 L844.5 707.7 L845.5 707.8 L846.5 708 L847.5 708.2 L848.5 708.3 L849.5 708.5 L850.5 708.7 L851.5 708.8 L852.5 709 L853.5 709.2 L854.5 709.3 L855.5 709.5 L856.5 709.7 L857.5 709.8 L858.5 710 L859.5 710.2 L860.5 710.3 L861.5 710.5 L862.5 710.7 L863.5 710.8 L864.5 711 L865.5 711.2 L866.5 711.3 L867.5 711.5 L868.5 711.7 L869.5 711.8 L870.5 712 L871.5 712.2 L872.5 712.3 L873.5 712.5 L874.5 712.7 L875.5 712.8 L876.5 713 L877.5 713.2 L878.5 713.3 L879.5 713.5 L880.5 713.7 L881.5 713.8 L882.5 714 L883.5 714.2 L884.5 714.3 L885.5 714.5 L886.5 714.7 L887.5 714.9 L888.5 715 L889.5 715.2 L890.5 715.4 L891.5 715.5 L892.5 715.7 L893.5 715.9 L894.5 716 L895.5 716.2 L896.5 716.4 L897.5 716.6 L898.5 716.7 L899.5 716.9 L900.5 717.1 L901.5 717.2 L902.5 717.4 L903.5 717.6 L904.5 717.8 L905.5 717.9 L906.5 718.1 L907.5 718.3 L908.5 718.5 L909.5 718.6 L910.5 718.8 L911.5 719 L912.5 719.2 L913.5 719.3 L914.5 719.5 L915.5 719.7 L916.5 719.9 L917.5 720 L918.5 720.2 L919.5 720.4 L920.5 720.6 L921.5 720.7 L922.5 720.9 L923.5 721.1 L924.5 721.3 L925.5 721.4 L926.5 721.6 L927.5 721.8 L928.5 722 L929.5 722.1 L930.5 722.3 L931.5 722.5 L932.5 722.7 L933.5 722.9 L934.5 723 L935.5 723.2 L936.5 723.4 L937.5 723.6 L938.5 723.7 L939.5 723.9 L940.5 724.1 L941.5 724.3 L942.5 724.5 L943.5 724.6 L944.5 724.8 L945.5 725 L946.5 725.2 L947.5 725.4 L948.5 725.6 L949.5 725.7 L950.5 725.9 L951.5 726.1 L952.5 726.3 L953.5 726.5 L954.5 726.6 L955.5 726.8 L956.5 727 L957.5 727.2 L958.5 727.4 L959.5 727.6 L960.5 727.7 L961.5 727.9 L962.5 728.1 L963.5 728.3 L964.5 728.5 L965.5 728.7 L966.5 728.8 L967.5 729 L968.5 729.2 L969.5 729.4 L970.5 729.6 L971.5 729.8 L972.5 729.9 L973.5 730.1 L974.5 730.3 L975.5 730.5 L976.5 730.7 L977.5 730.9 L978.5 731.1 L979.5 731.2 L980.5 731.4 L981.5 731.6 L982.5 731.8 L983.5 732 L984.5 732.2 L985.5 732.4 L986.5 732.6 L987.5 732.7 L988.5 732.9 L989.5 733.1 L990.5 733.3 L991.5 733.5 L992.5 733.7 L993.5 733.9 L994.5 734.1 L995.5 734.3 L996.5 734.4 L997.5 734.6 L998.5 734.8 L999.5 735 L1000.5 735.2 L1001.5 735.4 L1002.5 735.6 L1003.5 735.8 L1004.5 736 L1005.5 736.2 L1006.5 736.3 L1007.5 736.5 L1008.5 736.7 L1009.5 736.9 L1010.5 737.1 L1011.5 737.3 L1012.5 737.5 L1013.5 737.7 L1014.5 737.9 L1015.5 738.1 L1016.5 738.3 L1017.5 738.5 L1018.5 738.6 L1019.5 738.8 L1020.5 739 L1021.5 739.2 L1022.5 739.4 L1023.5 739.6 L1024.5 739.8 L1025.5 740 L1026.5 740.2 L1027.5 740.4 L1028.5 740.6 L1029.5 740.8 L1030.5 741 L1031.5 741.2 L1032.5 741.4 L1033.5 741.6 L1034.5 741.8 L1035.5 741.9 L1036.5 742.1 L1037.5 742.3 L1038.5 742.5 L1039.5 742.7 L1040.5 742.9 L1041.5 743.1 L1042.5 743.3 L1043.5 743.5 L1044.5 743.7 L1045.5 743.9 L1046.5 744.1 L1047.5 744.3 L1048.5 744.5 L1049.5 744.7 L1050.5 744.9 L1051.5 745.1 L1052.5 745.3 L1053.5 745.5 L1054.5 745.7 L1055.5 745.9 L1056.5 746.1 L1057.5 746.3 L1058.5 746.5 L1059.5 746.7 L1060.5 746.9 L1061.5 747.1 L1062.5 747.3 L1063.5 747.5 L1064.5 747.7 L1065.5 747.9 L1066.5 748.1 L1066.9 748.2 L1066.9 837.8 L1066.5 837.6 L1065.5 837.2 L1064.5 836.8 L1063.5 836.3 L1062.5 835.9 L1061.5 835.4 L1060.5 835 L1059.5 834.6 L1058.5 834.1 L1057.5 833.7 L1056.5 833.2 L1055.5 832.8 L1054.5 832.3 L1053.5 831.9 L1052.5 831.5 L1051.5 831 L1050.5 830.6 L1049.5 830.1 L1048.5 829.7 L1047.5 829.2 L1046.5 828.8 L1045.5 828.4 L1044.5 827.9 L1043.5 827.5 L1042.5 827 L1041.5 826.6 L1040.5 826.1 L1039.5 825.7 L1038.5 825.3 L1037.5 824.8 L1036.5 824.4 L1035.5 823.9 L1034.5 823.5 L1033.5 823 L1032.5 822.6 L1031.5 822.1 L1030.5 821.7 L1029.5 821.2 L1028.5 820.8 L1027.5 820.4 L1026.5 819.9 L1025.5 819.5 L1024.5 819 L1023.5 818.6 L1022.5 818.1 L1021.5 817.7 L1020.5 817.2 L1019.5 816.8 L1018.5 816.3 L1017.5 815.9 L1016.5 815.4 L1015.5 815 L1014.5 814.5 L1013.5 814.1 L1012.5 813.6 L1011.5 813.2 L1010.5 812.7 L1009.5 812.3 L1008.5 811.8 L1007.5 811.4 L1006.5 811 L1005.5 810.5 L1004.5 810.1 L1003.5 809.6 L1002.5 809.2 L1001.5 808.7 L1000.5 808.3 L999.5 807.8 L998.5 807.4 L997.5 806.9 L996.5 806.4 L995.5 806 L994.5 805.5 L993.5 805.1 L992.5 804.6 L991.5 804.2 L990.5 803.7 L989.5 803.3 L988.5 802.8 L987.5 802.4 L986.5 801.9 L985.5 801.5 L984.5 801 L983.5 800.6 L982.5 800.1 L981.5 799.7 L980.5 799.2 L979.5 798.8 L978.5 798.3 L977.5 797.8 L976.5 797.4 L975.5 796.9 L974.5 796.5 L973.5 796 L972.5 795.6 L971.5 795.1 L970.5 794.7 L969.5 794.2 L968.5 793.8 L967.5 793.3 L966.5 792.8 L965.5 792.4 L964.5 791.9 L963.5 791.5 L962.5 791 L961.5 790.6 L960.5 790.1 L959.5 789.6 L958.5 789.2 L957.5 788.7 L956.5 788.3 L955.5 787.8 L954.5 787.4 L953.5 786.9 L952.5 786.4 L951.5 786 L950.5 785.5 L949.5 785.1 L948.5 784.6 L947.5 784.1 L946.5 783.7 L945.5 783.2 L944.5 782.8 L943.5 782.3 L942.5 781.8 L941.5 781.4 L940.5 780.9 L939.5 780.5 L938.5 780 L937.5 779.5 L936.5 779.1 L935.5 778.6 L934.5 778.2 L933.5 777.7 L932.5 777.2 L931.5 776.8 L930.5 776.3 L929.5 775.8 L928.5 775.4 L927.5 774.9 L926.5 774.4 L925.5 774 L924.5 773.5 L923.5 773.1 L922.5 772.6 L921.5 772.1 L920.5 771.7 L919.5 771.2 L918.5 770.7 L917.5 770.3 L916.5 769.8 L915.5 769.3 L914.5 768.9 L913.5 768.4 L912.5 767.9 L911.5 767.5 L910.5 767 L909.5 766.5 L908.5 766.1 L907.5 765.6 L906.5 765.1 L905.5 764.7 L904.5 764.2 L903.5 763.7 L902.5 763.3 L901.5 762.8 L900.5 762.3 L899.5 761.9 L898.5 761.4 L897.5 760.9 L896.5 760.5 L895.5 760 L894.5 759.5 L893.5 759.1 L892.5 758.6 L891.5 758.1 L890.5 757.6 L889.5 757.2 L888.5 756.7 L887.5 756.2 L886.5 755.8 L885.5 755.3 L884.5 754.8 L883.5 754.4 L882.5 753.9 L881.5 753.4 L880.5 752.9 L879.5 752.5 L878.5 752 L877.5 751.5 L876.5 751 L875.5 750.6 L874.5 750.1 L873.5 749.6 L872.5 749.2 L871.5 748.7 L870.5 748.2 L869.5 747.7 L868.5 747.3 L867.5 746.8 L866.5 746.3 L865.5 745.8 L864.5 745.4 L863.5 744.9 L862.5 744.4 L861.5 743.9 L860.5 743.5 L859.5 743 L858.5 742.5 L857.5 742 L856.5 741.6 L855.5 741.1 L854.5 740.6 L853.5 740.1 L852.5 739.7 L851.5 739.2 L850.5 738.7 L849.5 738.2 L848.5 737.8 L847.5 737.3 L846.5 736.8 L845.5 736.4 L844.5 735.9 L843.5 735.4 L842.5 734.9 L841.5 734.5 L840.5 734 L839.5 733.5 L838.5 733.1 L837.5 732.6 L836.5 732.1 L835.5 731.7 L834.5 731.2 L833.5 730.7 L832.5 730.3 L831.5 729.8 L830.5 729.3 L829.5 728.9 L828.5 728.4 L827.5 727.9 L826.5 727.5 L825.5 727 L824.5 726.6 L823.5 726.1 L822.5 725.6 L821.5 725.2 L820.5 724.7 L819.5 724.3 L818.5 723.8 L817.5 723.3 L816.5 722.9 L815.5 722.4 L814.5 722 L813.5 721.5 L812.5 721.1 L811.5 720.6 L810.5 720.2 L809.5 719.7 L808.5 719.3 L807.5 718.8 L806.5 718.4 L805.5 717.9 L804.5 717.5 L803.5 717 L802.5 716.6 L801.5 716.2 L800.5 715.7 L799.5 715.3 L798.5 714.8 L797.5 714.4 L796.5 714 L795.5 713.5 L794.5 713.1 L793.5 712.7 L792.5 712.2 L791.5 711.8 L790.5 711.4 L789.5 710.9 L788.5 710.5 L787.5 710.1 L786.5 709.7 L785.5 709.2 L784.5 708.8 L783.5 708.4 L782.5 708 L781.5 707.6 L780.5 707.2 L779.5 706.7 L778.5 706.3 L777.5 705.9 L776.5 705.5 L775.5 705.1 L774.5 704.7 L773.5 704.3 L772.5 703.9 L771.5 703.5 L770.5 703.1 L769.5 702.7 L768.5 702.3 L767.5 701.9 L766.5 701.5 L765.5 701.1 L764.5 700.7 L763.5 700.3 L762.5 699.9 L761.5 699.6 L760.5 699.2 L759.5 698.8 L758.5 698.4 L757.5 698 L756.5 697.7 L755.5 697.3 L754.5 696.9 L753.5 696.5 L752.5 696.2 L751.5 695.8 L750.5 695.5 L749.5 695.1 L748.5 694.7 L747.5 694.4 L746.5 694 L745.5 693.7 L744.5 693.3 L743.5 693 L742.5 692.6 L741.5 692.3 L740.5 691.9 L739.5 691.6 L738.5 691.2 L737.5 690.9 L736.5 690.6 L735.5 690.2 L734.5 689.9 L733.5 689.6 L732.5 689.2 L731.5 688.9 L730.5 688.6 L729.5 688.3 L728.5 688 L727.5 687.6 L726.5 687.3 L725.5 687 L724.5 686.7 L723.5 686.4 L722.5 686.1 L721.5 685.8 L720.5 685.5 L719.5 685.2 L718.5 684.9 L717.5 684.6 L716.5 684.3 L715.5 684.1 L714.5 683.8 L713.5 683.5 L712.5 683.2 L711.5 682.9 L710.5 682.7 L709.5 682.4 L708.5 682.1 L707.5 681.9 L706.5 681.6 L705.5 681.4 L704.5 681.1 L703.5 680.8 L702.5 680.6 L701.5 680.4 L700.5 680.1 L699.5 679.9 L698.5 679.6 L697.5 679.4 L696.5 679.2 L695.5 678.9 L694.5 678.7 L693.5 678.5 L692.5 678.3 L691.5 678 L690.5 677.8 L689.5 677.6 L688.5 677.4 L687.5 677.2 L686.5 677 L685.5 676.8 L684.5 676.6 L683.5 676.4 L682.5 676.2 L681.5 676 L680.5 675.8 L679.5 675.7 L678.5 675.5 L677.5 675.3 L676.5 675.1 L675.5 675 L674.5 674.8 L673.5 674.6 L672.5 674.5Z" fill="#add8e6"/><path d="M794.2 733.8h2.1v2.1h-2.1zM796 697.2h2.1v2.1h-2.1zM798 699.3h2.1v2.1h-2.1zM801.2 711.1h2.1v2.1h-2.1zM813 699.4h2.1v2.1h-2.1zM815 759.3h2.1v2.1h-2.1zM820 685.9h2.1v2.1h-2.1zM833.2 675.1h2.1v2.1h-2.1zM849 741.7h2.1v2.1h-2.1zM851 718.1h2.1v2.1h-2.1zM852.7 679h2.1v2.1h-2.1zM859.7 751h2.1v2.1h-2.1zM864.5 754h2.1v2.1h-2.1zM866 701.9h2.1v2.1h-2.1zM868.7 692.2h2.1v2.1h-2.1zM887.2 762.7h2.1v2.1h-2.1zM909.2 766.7h2.1v2.1h-2.1zM929.1 775.6h2.1v2.1h-2.1zM936.6 742.4h2.1v2.1h-2.1zM943 782.7h2.1v2.1h-2.1zM957 813.5h2.1v2.1h-2.1zM967.5 787h2.1v2.1h-2.1zM974.7 787.5h2.1v2.1h-2.1zM979.5 804.4h2.1v2.1h-2.1zM983.6 784.7h2.1v2.1h-2.1zM986.5 770.2h2.1v2.1h-2.1zM988.7 782.2h2.1v2.1h-2.1zM990.7 802.6h2.1v2.1h-2.1zM991.8 781.8h2.1v2.1h-2.1zM993.2 794.4h2.1v2.1h-2.1zM997.2 760.7h2.1v2.1h-2.1zM1010.5 774.7h2.1v2.1h-2.1zM1017.5 732.1h2.1v2.1h-2.1zM1029.5 812.5h2.1v2.1h-2.1zM1053.5 802.8h2.1v2.1h-2.1zM1065.9 762h2.1v2.1h-2.1zM705.2 694.6h2.1v2.1h-2.1zM696.1 651.1h2.1v2.1h-2.1zM682.5 689h2.1v2.1h-2.1zM708 742.9h2.1v2.1h-2.1zM740.4 695.4h2.1v2.1h-2.1zM772.6 677.6h2.1v2.1h-2.1zM697.2 662.2h2.1v2.1h-2.1zM740.3 698.6h2.1v2.1h-2.1zM697.2 662.9h2.1v2.1h-2.1zM738.3 710.9h2.1v2.1h-2.1zM739.7 629h2.1v2.1h-2.1zM701.8 722.6h2.1v2.1h-2.1zM735.8 683.8h2.1v2.1h-2.1zM709.5 678.7h2.1v2.1h-2.1zM716.2 723.7h2.1v2.1h-2.1zM720.3 714.7h2.1v2.1h-2.1zM695.7 617.5h2.1v2.1h-2.1zM692.7 629.3h2.1v2.1h-2.1zM686.4 700.5h2.1v2.1h-2.1zM722.9 670.7h2.1v2.1h-2.1zM683.8 641.5h2.1v2.1h-2.1zM722.2 708.6h2.1v2.1h-2.1zM714 676h2.1v2.1h-2.1zM709.9 691.8h2.1v2.1h-2.1zM718.1 654.6h2.1v2.1h-2.1zM745.6 675.2h2.1v2.1h-2.1zM768.5 691.2h2.1v2.1h-2.1zM727 692.8h2.1v2.1h-2.1zM702 708.9h2.1v2.1h-2.1zM748.5 638.6h2.1v2.1h-2.1zM692.6 646.6h2.1v2.1h-2.1zM702.3 651.4h2.1v2.1h-2.1zM745.1 692.9h2.1v2.1h-2.1zM728.3 660.1h2.1v2.1h-2.1zM710.6 680.3h2.1v2.1h-2.1zM716.6 715.8h2.1v2.1h-2.1zM701.4 679.5h2.1v2.1h-2.1zM712.3 718h2.1v2.1h-2.1zM723.7 681.5h2.1v2.1h-2.1zM720.3 622.9h2.1v2.1h-2.1zM719.8 679.7h2.1v2.1h-2.1zM704.2 685.5h2.1v2.1h-2.1zM705.1 655.3h2.1v2.1h-2.1zM729.3 679.2h2.1v2.1h-2.1zM724.5 723.5h2.1v2.1h-2.1zM699.3 689.4h2.1v2.1h-2.1zM702.6 640.4h2.1v2.1h-2.1zM709.8 636.7h2.1v2.1h-2.1zM712.9 699.8h2.1v2.1h-2.1zM720.3 700h2.1v2.1h-2.1zM693.9 634h2.1v2.1h-2.1zM715.4 673h2.1v2.1h-2.1zM729.4 686.4h2.1v2.1h-2.1zM707.5 708.8h2.1v2.1h-2.1zM732.2 711.4h2.1v2.1h-2.1zM707.5 753h2.1v2.1h-2.1zM703.1 653.7h2.1v2.1h-2.1zM706 618.8h2.1v2.1h-2.1zM705.9 673.4h2.1v2.1h-2.1zM735.9 719.1h2.1v2.1h-2.1zM714.2 642.9h2.1v2.1h-2.1zM705.2 642.1h2.1v2.1h-2.1zM719.3 688.5h2.1v2.1h-2.1zM732.5 686.1h2.1v2.1h-2.1zM703.2 717.7h2.1v2.1h-2.1zM722.3 666.4h2.1v2.1h-2.1zM692.3 757.6h2.1v2.1h-2.1zM685.9 699.2h2.1v2.1h-2.1zM702.6 704.9h2.1v2.1h-2.1zM723.9 640.1h2.1v2.1h-2.1zM702.9 691.3h2.1v2.1h-2.1zM700.5 734.7h2.1v2.1h-2.1zM746 681.3h2.1v2.1h-2.1zM683.6 728.1h2.1v2.1h-2.1zM720.2 707.6h2.1v2.1h-2.1zM739.2 727.6h2.1v2.1h-2.1zM708.4 692h2.1v2.1h-2.1zM713.5 713.1h2.1v2.1h-2.1zM696.1 616.7h2.1v2.1h-2.1zM707.1 672.8h2.1v2.1h-2.1zM733.7 671.1h2.1v2.1h-2.1zM714.1 682.6h2.1v2.1h-2.1zM691.9 658.8h2.1v2.1h-2.1zM752.5 651.4h2.1v2.1h-2.1zM730.7 698h2.1v2.1h-2.1zM706.8 687.3h2.1v2.1h-2.1zM711 677.9h2.1v2.1h-2.1zM728.2 714.5h2.1v2.1h-2.1zM735.4 674.2h2.1v2.1h-2.1zM718 711.1h2.1v2.1h-2.1zM691.3 697.2h2.1v2.1h-2.1zM704.6 647.4h2.1v2.1h-2.1zM702.4 702.5h2.1v2.1h-2.1zM721.4 672.5h2.1v2.1h-2.1zM731.4 696.5h2.1v2.1h-2.1zM704.9 663.2h2.1v2.1h-2.1zM698.9 717.6h2.1v2.1h-2.1zM707.4 692.8h2.1v2.1h-2.1zM706.6 590.6h2.1v2.1h-2.1zM715.6 648.7h2.1v2.1h-2.1zM730.3 643.1h2.1v2.1h-2.1zM722.9 673h2.1v2.1h-2.1zM715 702h2.1v2.1h-2.1zM725.4 685.2h2.1v2.1h-2.1zM693.3 615.7h2.1v2.1h-2.1zM719.8 611.6h2.1v2.1h-2.1zM694.2 672.8h2.1v2.1h-2.1zM760 684.4h2.1v2.1h-2.1zM728.2 710.6h2.1v2.1h-2.1zM723.1 700.4h2.1v2.1h-2.1zM705.8 684.7h2.1v2.1h-2.1zM715.7 725.5h2.1v2.1h-2.1zM690.3 683.1h2.1v2.1h-2.1zM711.6 701.9h2.1v2.1h-2.1zM725 667.6h2.1v2.1h-2.1zM699.3 687.6h2.1v2.1h-2.1zM714.8 735.3h2.1v2.1h-2.1zM726 646.4h2.1v2.1h-2.1zM732.4 644.1h2.1v2.1h-2.1zM698.7 659h2.1v2.1h-2.1zM686.2 706.8h2.1v2.1h-2.1zM703.4 677.7h2.1v2.1h-2.1zM697.5 649.7h2.1v2.1h-2.1zM735.9 705.7h2.1v2.1h-2.1zM774.7 696.7h2.1v2.1h-2.1zM715.3 679.3h2.1v2.1h-2.1zM705.5 633h2.1v2.1h-2.1zM707.4 616h2.1v2.1h-2.1zM705.7 691.1h2.1v2.1h-2.1zM708.6 659.4h2.1v2.1h-2.1zM697.6 697.2h2.1v2.1h-2.1zM701 741.3h2.1v2.1h-2.1zM714.3 706.8h2.1v2.1h-2.1zM702.8 636.2h2.1v2.1h-2.1zM687 679.4h2.1v2.1h-2.1zM715.2 660.4h2.1v2.1h-2.1zM692.8 682.8h2.1v2.1h-2.1zM692.9 702h2.1v2.1h-2.1zM722.7 671.9h2.1v2.1h-2.1zM692 691.1h2.1v2.1h-2.1zM730.9 689.6h2.1v2.1h-2.1zM690.1 688h2.1v2.1h-2.1zM694.9 701.1h2.1v2.1h-2.1zM692.3 670.8h2.1v2.1h-2.1zM678.6 705.4h2.1v2.1h-2.1zM758.6 736.3h2.1v2.1h-2.1zM753.3 663.5h2.1v2.1h-2.1zM742.5 683.7h2.1v2.1h-2.1zM723 681.6h2.1v2.1h-2.1zM692.8 609.5h2.1v2.1h-2.1zM772.8 668.7h2.1v2.1h-2.1zM700.1 716.9h2.1v2.1h-2.1zM702.9 695.4h2.1v2.1h-2.1zM706.7 679.7h2.1v2.1h-2.1zM724.6 690h2.1v2.1h-2.1zM711.5 710.5h2.1v2.1h-2.1zM742.2 650.1h2.1v2.1h-2.1zM732.5 734.4h2.1v2.1h-2.1zM702.5 657.3h2.1v2.1h-2.1zM722.1 669.8h2.1v2.1h-2.1zM746 655.9h2.1v2.1h-2.1zM713.5 689.7h2.1v2.1h-2.1zM716.1 652.2h2.1v2.1h-2.1zM700.5 672.3h2.1v2.1h-2.1zM717.2 650.9h2.1v2.1h-2.1zM730.1 722.1h2.1v2.1h-2.1zM702.1 718.1h2.1v2.1h-2.1zM723.1 657.1h2.1v2.1h-2.1zM705.3 632h2.1v2.1h-2.1zM709.9 635.4h2.1v2.1h-2.1zM732.4 710.4h2.1v2.1h-2.1zM710 634.4h2.1v2.1h-2.1zM694.6 643.4h2.1v2.1h-2.1zM732.6 681.8h2.1v2.1h-2.1zM732.4 733h2.1v2.1h-2.1zM732.7 686.5h2.1v2.1h-2.1zM731 675.1h2.1v2.1h-2.1zM691.5 693.8h2.1v2.1h-2.1zM698.5 618.3h2.1v2.1h-2.1zM721.9 645.6h2.1v2.1h-2.1zM705 707.5h2.1v2.1h-2.1zM687.6 706.3h2.1v2.1h-2.1zM710.3 695.8h2.1v2.1h-2.1zM728.6 696.8h2.1v2.1h-2.1zM706.1 666.8h2.1v2.1h-2.1zM708 669.3h2.1v2.1h-2.1zM688.1 728.4h2.1v2.1h-2.1zM725.6 650.3h2.1v2.1h-2.1zM736.5 727.8h2.1v2.1h-2.1zM719.8 679.4h2.1v2.1h-2.1zM729.8 633.2h2.1v2.1h-2.1zM704 694.1h2.1v2.1h-2.1zM704.7 649.9h2.1v2.1h-2.1zM735.1 699.1h2.1v2.1h-2.1zM708.1 689.1h2.1v2.1h-2.1zM721.3 757.4h2.1v2.1h-2.1zM744.9 669.6h2.1v2.1h-2.1zM687.4 606.1h2.1v2.1h-2.1zM705.8 690.1h2.1v2.1h-2.1zM709.9 699.1h2.1v2.1h-2.1zM685.1 662h2.1v2.1h-2.1zM691.1 647.6h2.1v2.1h-2.1zM720.1 697.4h2.1v2.1h-2.1zM695.6 696.1h2.1v2.1h-2.1zM694.6 659.5h2.1v2.1h-2.1zM794.8 732.5h2.1v2.1h-2.1zM709.2 679.6h2.1v2.1h-2.1zM724.2 680.1h2.1v2.1h-2.1zM700.4 635.7h2.1v2.1h-2.1zM676.7 645.8h2.1v2.1h-2.1zM724.7 704.6h2.1v2.1h-2.1zM696.2 714.7h2.1v2.1h-2.1zM692.2 709.9h2.1v2.1h-2.1zM699.5 671.9h2.1v2.1h-2.1zM724.2 677.6h2.1v2.1h-2.1zM737.5 658.9h2.1v2.1h-2.1zM702.2 649.7h2.1v2.1h-2.1zM697.7 662.3h2.1v2.1h-2.1zM699.9 706.4h2.1v2.1h-2.1zM717.2 719.3h2.1v2.1h-2.1zM695.4 685.1h2.1v2.1h-2.1zM731.3 703.4h2.1v2.1h-2.1zM728.5 653.2h2.1v2.1h-2.1zM706.8 671h2.1v2.1h-2.1zM724.6 705.5h2.1v2.1h-2.1zM710.1 680h2.1v2.1h-2.1zM690.6 690.8h2.1v2.1h-2.1zM727.6 641.1h2.1v2.1h-2.1zM708.5 727.1h2.1v2.1h-2.1zM722.1 671.7h2.1v2.1h-2.1zM702 654.8h2.1v2.1h-2.1zM704.4 679.7h2.1v2.1h-2.1zM688.8 550.1h2.1v2.1h-2.1zM723.2 671.4h2.1v2.1h-2.1zM711.4 743.8h2.1v2.1h-2.1zM720.9 662.5h2.1v2.1h-2.1zM709.3 708.7h2.1v2.1h-2.1zM715.8 624.7h2.1v2.1h-2.1zM719.9 635h2.1v2.1h-2.1zM744.5 636.8h2.1v2.1h-2.1zM718.8 725.8h2.1v2.1h-2.1zM765.8 633.7h2.1v2.1h-2.1zM712.9 688.3h2.1v2.1h-2.1zM733.9 658.5h2.1v2.1h-2.1zM711.7 699.8h2.1v2.1h-2.1zM687.6 635.4h2.1v2.1h-2.1zM713.3 656.5h2.1v2.1h-2.1zM696 685.7h2.1v2.1h-2.1zM711.8 621.3h2.1v2.1h-2.1zM700 607.7h2.1v2.1h-2.1zM723.1 747.9h2.1v2.1h-2.1zM713.1 681.5h2.1v2.1h-2.1zM690.4 688h2.1v2.1h-2.1zM695.3 673.4h2.1v2.1h-2.1zM723.6 694.2h2.1v2.1h-2.1zM704.7 676.6h2.1v2.1h-2.1zM710.4 691.5h2.1v2.1h-2.1zM721.3 640.8h2.1v2.1h-2.1zM693.9 587.2h2.1v2.1h-2.1zM722.5 660.1h2.1v2.1h-2.1zM717.7 731.6h2.1v2.1h-2.1zM711.5 657.1h2.1v2.1h-2.1zM707 616.7h2.1v2.1h-2.1zM724.7 733h2.1v2.1h-2.1zM721.9 716.1h2.1v2.1h-2.1zM738.1 667.7h2.1v2.1h-2.1zM696.8 698.8h2.1v2.1h-2.1zM713.9 697h2.1v2.1h-2.1zM759.8 652.9h2.1v2.1h-2.1zM735.8 726.4h2.1v2.1h-2.1zM735.2 707.5h2.1v2.1h-2.1zM718.3 696h2.1v2.1h-2.1zM712.3 715.6h2.1v2.1h-2.1zM716.3 616.9h2.1v2.1h-2.1zM693.9 669.6h2.1v2.1h-2.1zM715.1 731.3h2.1v2.1h-2.1zM703.9 718.6h2.1v2.1h-2.1zM747.2 642.1h2.1v2.1h-2.1zM741.5 709.6h2.1v2.1h-2.1zM724 661.6h2.1v2.1h-2.1zM694.1 686.1h2.1v2.1h-2.1zM685.8 645.7h2.1v2.1h-2.1zM699.9 720.6h2.1v2.1h-2.1zM731.3 755h2.1v2.1h-2.1zM737.9 723.2h2.1v2.1h-2.1zM731.2 722h2.1v2.1h-2.1zM715.8 688.3h2.1v2.1h-2.1zM742.6 684.5h2.1v2.1h-2.1zM719.6 732.7h2.1v2.1h-2.1zM756.9 723.8h2.1v2.1h-2.1zM743.5 701.1h2.1v2.1h-2.1zM717.1 662h2.1v2.1h-2.1zM736.8 652.5h2.1v2.1h-2.1zM723.9 713.9h2.1v2.1h-2.1zM739.3 718.6h2.1v2.1h-2.1zM750.8 694.3h2.1v2.1h-2.1zM690.2 677.6h2.1v2.1h-2.1zM698.9 629.9h2.1v2.1h-2.1zM730.6 664h2.1v2.1h-2.1zM703.7 646.8h2.1v2.1h-2.1zM687.7 691.7h2.1v2.1h-2.1zM718.7 677.1h2.1v2.1h-2.1zM743.2 691.2h2.1v2.1h-2.1zM747.1 668.3h2.1v2.1h-2.1zM747.5 695.3h2.1v2.1h-2.1zM782.9 649.5h2.1v2.1h-2.1zM725.3 743.3h2.1v2.1h-2.1zM709.3 681.6h2.1v2.1h-2.1zM722.5 701h2.1v2.1h-2.1zM723.9 699.7h2.1v2.1h-2.1zM713.8 654.2h2.1v2.1h-2.1zM775.4 746.9h2.1v2.1h-2.1zM695 681.8h2.1v2.1h-2.1zM715.7 677.9h2.1v2.1h-2.1zM692.5 709.2h2.1v2.1h-2.1zM694.1 646.3h2.1v2.1h-2.1zM702.8 700.3h2.1v2.1h-2.1zM716.1 741.2h2.1v2.1h-2.1zM701.5 662.5h2.1v2.1h-2.1zM699.4 692.6h2.1v2.1h-2.1zM709.5 637.5h2.1v2.1h-2.1zM708.4 688.8h2.1v2.1h-2.1zM706.6 689.5h2.1v2.1h-2.1zM690.2 621.2h2.1v2.1h-2.1zM699.2 731.3h2.1v2.1h-2.1zM797 776.5h2.1v2.1h-2.1zM702.6 616.9h2.1v2.1h-2.1zM702.5 692.9h2.1v2.1h-2.1zM742.7 678h2.1v2.1h-2.1zM726.4 678.1h2.1v2.1h-2.1zM688.9 687.9h2.1v2.1h-2.1zM709.7 683h2.1v2.1h-2.1zM715.2 676.2h2.1v2.1h-2.1zM707 689.5h2.1v2.1h-2.1zM701.1 665.3h2.1v2.1h-2.1zM692.9 682.8h2.1v2.1h-2.1zM722.6 662.8h2.1v2.1h-2.1zM725.1 714.9h2.1v2.1h-2.1zM696.4 742.7h2.1v2.1h-2.1zM692.7 676.3h2.1v2.1h-2.1zM704.6 669.2h2.1v2.1h-2.1zM737.3 734.3h2.1v2.1h-2.1zM703.4 613.9h2.1v2.1h-2.1zM715.2 676.6h2.1v2.1h-2.1zM706.1 642h2.1v2.1h-2.1zM748.9 674.8h2.1v2.1h-2.1zM717.7 648h2.1v2.1h-2.1zM716.9 673.3h2.1v2.1h-2.1zM693 715.1h2.1v2.1h-2.1zM687.7 645.2h2.1v2.1h-2.1zM711.6 673.7h2.1v2.1h-2.1zM688.9 710.9h2.1v2.1h-2.1zM712.4 697.9h2.1v2.1h-2.1zM708.5 704h2.1v2.1h-2.1zM754.6 690.3h2.1v2.1h-2.1zM714.6 664.5h2.1v2.1h-2.1zM768.9 683.9h2.1v2.1h-2.1zM704.6 665.5h2.1v2.1h-2.1zM715.1 638.2h2.1v2.1h-2.1zM710.1 602.2h2.1v2.1h-2.1zM685.8 654.5h2.1v2.1h-2.1zM716 688.7h2.1v2.1h-2.1zM711.5 661.3h2.1v2.1h-2.1zM722 719h2.1v2.1h-2.1zM709.7 717.3h2.1v2.1h-2.1zM718.1 684.6h2.1v2.1h-2.1zM702.8 665.9h2.1v2.1h-2.1zM739.3 703.2h2.1v2.1h-2.1zM721.9 666.1h2.1v2.1h-2.1zM678.4 661.9h2.1v2.1h-2.1zM723.2 655.6h2.1v2.1h-2.1zM701.7 654.8h2.1v2.1h-2.1zM719.3 701.1h2.1v2.1h-2.1zM789.1 690.9h2.1v2.1h-2.1zM710.1 695.5h2.1v2.1h-2.1zM723.2 683.4h2.1v2.1h-2.1zM695.8 677.1h2.1v2.1h-2.1zM707.7 689.4h2.1v2.1h-2.1zM704.1 604.9h2.1v2.1h-2.1zM730 671.7h2.1v2.1h-2.1zM690.7 682.7h2.1v2.1h-2.1zM733.9 734.6h2.1v2.1h-2.1zM777.9 718.4h2.1v2.1h-2.1zM688.3 756.1h2.1v2.1h-2.1zM698.6 718.6h2.1v2.1h-2.1zM792.9 710.9h2.1v2.1h-2.1zM698.4 633.8h2.1v2.1h-2.1zM714.2 671.2h2.1v2.1h-2.1zM795 699.6h2.1v2.1h-2.1zM784.7 706.5h2.1v2.1h-2.1zM730.8 698.7h2.1v2.1h-2.1zM764.6 653.7h2.1v2.1h-2.1zM741.5 706.2h2.1v2.1h-2.1zM775.4 691.1h2.1v2.1h-2.1zM727.3 663.2h2.1v2.1h-2.1zM757.3 652.3h2.1v2.1h-2.1zM684.4 678h2.1v2.1h-2.1zM688.3 655.4h2.1v2.1h-2.1zM723.4 609.6h2.1v2.1h-2.1zM739 690.7h2.1v2.1h-2.1zM753.7 686.6h2.1v2.1h-2.1zM770.8 644h2.1v2.1h-2.1zM677.8 689.4h2.1v2.1h-2.1zM765.6 687.5h2.1v2.1h-2.1zM758.9 707.2h2.1v2.1h-2.1zM734.3 645.9h2.1v2.1h-2.1zM740 670.6h2.1v2.1h-2.1zM741.8 700.9h2.1v2.1h-2.1zM739.2 709.9h2.1v2.1h-2.1zM770.1 675h2.1v2.1h-2.1zM681.4 582.7h2.1v2.1h-2.1zM776.4 706.9h2.1v2.1h-2.1zM746.5 682.9h2.1v2.1h-2.1zM798.4 752.3h2.1v2.1h-2.1zM711.8 645.5h2.1v2.1h-2.1zM723.9 698.2h2.1v2.1h-2.1zM721.2 633.5h2.1v2.1h-2.1zM747.5 700h2.1v2.1h-2.1zM795.1 693.7h2.1v2.1h-2.1zM677.2 675h2.1v2.1h-2.1zM766.7 694.2h2.1v2.1h-2.1zM734.9 680.4h2.1v2.1h-2.1zM699.6 726.4h2.1v2.1h-2.1zM749.3 729.4h2.1v2.1h-2.1zM766.1 696.5h2.1v2.1h-2.1zM719.4 650.9h2.1v2.1h-2.1zM720.6 654.7h2.1v2.1h-2.1zM697.3 709.2h2.1v2.1h-2.1zM736.5 688.2h2.1v2.1h-2.1zM700.5 651.4h2.1v2.1h-2.1zM774.5 676.8h2.1v2.1h-2.1zM716.3 725.2h2.1v2.1h-2.1zM788.3 707.4h2.1v2.1h-2.1zM683.7 641h2.1v2.1h-2.1zM681.6 719h2.1v2.1h-2.1zM680 681.1h2.1v2.1h-2.1zM719.7 635.6h2.1v2.1h-2.1zM695.9 632.6h2.1v2.1h-2.1zM742.7 699h2.1v2.1h-2.1zM729.4 660.1h2.1v2.1h-2.1zM728.9 669.8h2.1v2.1h-2.1zM778.3 759.8h2.1v2.1h-2.1zM792.3 769.3h2.1v2.1h-2.1zM756.7 752.8h2.1v2.1h-2.1zM718.5 696.9h2.1v2.1h-2.1zM750.6 700.5h2.1v2.1h-2.1zM750.6 654.4h2.1v2.1h-2.1zM732.9 647.3h2.1v2.1h-2.1zM755.9 696.9h2.1v2.1h-2.1zM773.3 704.2h2.1v2.1h-2.1zM683.4 702h2.1v2.1h-2.1zM695.5 701.5h2.1v2.1h-2.1zM788.8 720h2.1v2.1h-2.1zM740.3 709.3h2.1v2.1h-2.1zM766.6 705.8h2.1v2.1h-2.1zM767 740.7h2.1v2.1h-2.1zM739.4 652.5h2.1v2.1h-2.1zM691.7 738.9h2.1v2.1h-2.1zM772.9 719.1h2.1v2.1h-2.1zM782.9 658.3h2.1v2.1h-2.1zM690.2 682.2h2.1v2.1h-2.1zM690.1 729.8h2.1v2.1h-2.1zM788 684.3h2.1v2.1h-2.1zM693.5 691.6h2.1v2.1h-2.1zM728.7 683.1h2.1v2.1h-2.1zM692.5 722.3h2.1v2.1h-2.1zM687.1 679.8h2.1v2.1h-2.1zM683.5 650.5h2.1v2.1h-2.1zM719.8 697.6h2.1v2.1h-2.1zM695.1 690.5h2.1v2.1h-2.1zM789.5 708.5h2.1v2.1h-2.1zM775.7 682.3h2.1v2.1h-2.1zM788.9 658.2h2.1v2.1h-2.1zM758.8 693.8h2.1v2.1h-2.1zM774.6 646.6h2.1v2.1h-2.1zM759.6 666.8h2.1v2.1h-2.1zM697.1 677.7h2.1v2.1h-2.1zM743.7 725.5h2.1v2.1h-2.1zM680.9 699.4h2.1v2.1h-2.1zM748.8 634h2.1v2.1h-2.1zM700.7 565.2h2.1v2.1h-2.1zM703.9 578.9h2.1v2.1h-2.1zM711.9 592.2h2.1v2.1h-2.1zM685.7 596.5h2.1v2.1h-2.1zM731 810.2h2.1v2.1h-2.1zM703.9 784.8h2.1v2.1h-2.1zM716.6 786.4h2.1v2.1h-2.1z" fill="#7d7d7d"/><path d="M672.5 666.7 L673.5 667 L674.5 667.3 L675.5 667.7 L676.5 668 L677.5 668.3 L678.5 668.6 L679.5 668.9 L680.5 669.3 L681.5 669.6 L682.5 669.9 L683.5 670.2 L684.5 670.5 L685.5 670.9 L686.5 671.2 L687.5 671.5 L688.5 671.8 L689.5 672.1 L690.5 672.5 L691.5 672.8 L692.5 673.1 L693.5 673.4 L694.5 673.7 L695.5 674.1 L696.5 674.4 L697.5 674.7 L698.5 675 L699.5 675.3 L700.5 675.7 L701.5 676 L702.5 676.3 L703.5 676.6 L704.5 676.9 L705.5 677.3 L706.5 677.6 L707.5 677.9 L708.5 678.2 L709.5 678.5 L710.5 678.9 L711.5 679.2 L712.5 679.5 L713.5 679.8 L714.5 680.1 L715.5 680.5 L716.5 680.8 L717.5 681.1 L718.5 681.4 L719.5 681.7 L720.5 682.1 L721.5 682.4 L722.5 682.7 L723.5 683 L724.5 683.4 L725.5 683.7 L726.5 684 L727.5 684.3 L728.5 684.6 L729.5 685 L730.5 685.3 L731.5 685.6 L732.5 685.9 L733.5 686.2 L734.5 686.6 L735.5 686.9 L736.5 687.2 L737.5 687.5 L738.5 687.8 L739.5 688.2 L740.5 688.5 L741.5 688.8 L742.5 689.1 L743.5 689.4 L744.5 689.8 L745.5 690.1 L746.5 690.4 L747.5 690.7 L748.5 691 L749.5 691.4 L750.5 691.7 L751.5 692 L752.5 692.3 L753.5 692.6 L754.5 693 L755.5 693.3 L756.5 693.6 L757.5 693.9 L758.5 694.2 L759.5 694.6 L760.5 694.9 L761.5 695.2 L762.5 695.5 L763.5 695.8 L764.5 696.2 L765.5 696.5 L766.5 696.8 L767.5 697.1 L768.5 697.4 L769.5 697.8 L770.5 698.1 L771.5 698.4 L772.5 698.7 L773.5 699 L774.5 699.4 L775.5 699.7 L776.5 700 L777.5 700.3 L778.5 700.6 L779.5 701 L780.5 701.3 L781.5 701.6 L782.5 701.9 L783.5 702.2 L784.5 702.6 L785.5 702.9 L786.5 703.2 L787.5 703.5 L788.5 703.8 L789.5 704.2 L790.5 704.5 L791.5 704.8 L792.5 705.1 L793.5 705.4 L794.5 705.8 L795.5 706.1 L796.5 706.4 L797.5 706.7 L798.5 707 L799.5 707.4 L800.5 707.7 L801.5 708 L802.5 708.3 L803.5 708.6 L804.5 709 L805.5 709.3 L806.5 709.6 L807.5 709.9 L808.5 710.2 L809.5 710.6 L810.5 710.9 L811.5 711.2 L812.5 711.5 L813.5 711.8 L814.5 712.2 L815.5 712.5 L816.5 712.8 L817.5 713.1 L818.5 713.4 L819.5 713.8 L820.5 714.1 L821.5 714.4 L822.5 714.7 L823.5 715.1 L824.5 715.4 L825.5 715.7 L826.5 716 L827.5 716.3 L828.5 716.7 L829.5 717 L830.5 717.3 L831.5 717.6 L832.5 717.9 L833.5 718.3 L834.5 718.6 L835.5 718.9 L836.5 719.2 L837.5 719.5 L838.5 719.9 L839.5 720.2 L840.5 720.5 L841.5 720.8 L842.5 721.1 L843.5 721.5 L844.5 721.8 L845.5 722.1 L846.5 722.4 L847.5 722.7 L848.5 723.1 L849.5 723.4 L850.5 723.7 L851.5 724 L852.5 724.3 L853.5 724.7 L854.5 725 L855.5 725.3 L856.5 725.6 L857.5 725.9 L858.5 726.3 L859.5 726.6 L860.5 726.9 L861.5 727.2 L862.5 727.5 L863.5 727.9 L864.5 728.2 L865.5 728.5 L866.5 728.8 L867.5 729.1 L868.5 729.5 L869.5 729.8 L870.5 730.1 L871.5 730.4 L872.5 730.7 L873.5 731.1 L874.5 731.4 L875.5 731.7 L876.5 732 L877.5 732.3 L878.5 732.7 L879.5 733 L880.5 733.3 L881.5 733.6 L882.5 733.9 L883.5 734.3 L884.5 734.6 L885.5 734.9 L886.5 735.2 L887.5 735.5 L888.5 735.9 L889.5 736.2 L890.5 736.5 L891.5 736.8 L892.5 737.1 L893.5 737.5 L894.5 737.8 L895.5 738.1 L896.5 738.4 L897.5 738.7 L898.5 739.1 L899.5 739.4 L900.5 739.7 L901.5 740 L902.5 740.3 L903.5 740.7 L904.5 741 L905.5 741.3 L906.5 741.6 L907.5 741.9 L908.5 742.3 L909.5 742.6 L910.5 742.9 L911.5 743.2 L912.5 743.5 L913.5 743.9 L914.5 744.2 L915.5 744.5 L916.5 744.8 L917.5 745.1 L918.5 745.5 L919.5 745.8 L920.5 746.1 L921.5 746.4 L922.5 746.7 L923.5 747.1 L924.5 747.4 L925.5 747.7 L926.5 748 L927.5 748.4 L928.5 748.7 L929.5 749 L930.5 749.3 L931.5 749.6 L932.5 750 L933.5 750.3 L934.5 750.6 L935.5 750.9 L936.5 751.2 L937.5 751.6 L938.5 751.9 L939.5 752.2 L940.5 752.5 L941.5 752.8 L942.5 753.2 L943.5 753.5 L944.5 753.8 L945.5 754.1 L946.5 754.4 L947.5 754.8 L948.5 755.1 L949.5 755.4 L950.5 755.7 L951.5 756 L952.5 756.4 L953.5 756.7 L954.5 757 L955.5 757.3 L956.5 757.6 L957.5 758 L958.5 758.3 L959.5 758.6 L960.5 758.9 L961.5 759.2 L962.5 759.6 L963.5 759.9 L964.5 760.2 L965.5 760.5 L966.5 760.8 L967.5 761.2 L968.5 761.5 L969.5 761.8 L970.5 762.1 L971.5 762.4 L972.5 762.8 L973.5 763.1 L974.5 763.4 L975.5 763.7 L976.5 764 L977.5 764.4 L978.5 764.7 L979.5 765 L980.5 765.3 L981.5 765.6 L982.5 766 L983.5 766.3 L984.5 766.6 L985.5 766.9 L986.5 767.2 L987.5 767.6 L988.5 767.9 L989.5 768.2 L990.5 768.5 L991.5 768.8 L992.5 769.2 L993.5 769.5 L994.5 769.8 L995.5 770.1 L996.5 770.4 L997.5 770.8 L998.5 771.1 L999.5 771.4 L1000.5 771.7 L1001.5 772 L1002.5 772.4 L1003.5 772.7 L1004.5 773 L1005.5 773.3 L1006.5 773.6 L1007.5 774 L1008.5 774.3 L1009.5 774.6 L1010.5 774.9 L1011.5 775.2 L1012.5 775.6 L1013.5 775.9 L1014.5 776.2 L1015.5 776.5 L1016.5 776.8 L1017.5 777.2 L1018.5 777.5 L1019.5 777.8 L1020.5 778.1 L1021.5 778.4 L1022.5 778.8 L1023.5 779.1 L1024.5 779.4 L1025.5 779.7 L1026.5 780.1 L1027.5 780.4 L1028.5 780.7 L1029.5 781 L1030.5 781.3 L1031.5 781.7 L1032.5 782 L1033.5 782.3 L1034.5 782.6 L1035.5 782.9 L1036.5 783.3 L1037.5 783.6 L1038.5 783.9 L1039.5 784.2 L1040.5 784.5 L1041.5 784.9 L1042.5 785.2 L1043.5 785.5 L1044.5 785.8 L1045.5 786.1 L1046.5 786.5 L1047.5 786.8 L1048.5 787.1 L1049.5 787.4 L1050.5 787.7 L1051.5 788.1 L1052.5 788.4 L1053.5 788.7 L1054.5 789 L1055.5 789.3 L1056.5 789.7 L1057.5 790 L1058.5 790.3 L1059.5 790.6 L1060.5 790.9 L1061.5 791.3 L1062.5 791.6 L1063.5 791.9 L1064.5 792.2 L1065.5 792.5 L1066.5 792.9 L1066.9 793" fill="none" stroke="#1e1e1e" stroke-width="2.6" stroke-linejoin="round" stroke-linecap="round"/><path d="M795.3 840.8v9.5M797 840.8v9.5M799 840.8v9.5M802.3 840.8v9.5M814 840.8v9.5M816 840.8v9.5M821 840.8v9.5M834.3 840.8v9.5M850 840.8v9.5M852 840.8v9.5M853.7 840.8v9.5M860.7 840.8v9.5M865.5 840.8v9.5M867 840.8v9.5M869.7 840.8v9.5M888.3 840.8v9.5M910.3 840.8v9.5M930.1 840.8v9.5M937.6 840.8v9.5M944 840.8v9.5M958 840.8v9.5M968.5 840.8v9.5M975.7 840.8v9.5M980.5 840.8v9.5M984.6 840.8v9.5M987.5 840.8v9.5M989.7 840.8v9.5M991.7 840.8v9.5M992.8 840.8v9.5M994.3 840.8v9.5M998.3 840.8v9.5M1011.5 840.8v9.5M1018.5 840.8v9.5M1030.6 840.8v9.5M1054.5 840.8v9.5M1066.9 840.8v9.5M706.3 840.8v9.5M697.1 840.8v9.5M683.5 840.8v9.5M709.1 840.8v9.5M741.4 840.8v9.5M773.7 840.8v9.5M698.3 840.8v9.5M741.4 840.8v9.5M698.3 840.8v9.5M739.3 840.8v9.5M740.7 840.8v9.5M702.8 840.8v9.5M736.8 840.8v9.5M710.5 840.8v9.5M717.3 840.8v9.5M721.3 840.8v9.5M696.8 840.8v9.5M693.8 840.8v9.5M687.4 840.8v9.5M724 840.8v9.5M684.8 840.8v9.5M723.3 840.8v9.5M715.1 840.8v9.5M710.9 840.8v9.5M719.2 840.8v9.5M746.7 840.8v9.5M769.5 840.8v9.5M728 840.8v9.5M703.1 840.8v9.5M749.6 840.8v9.5M693.6 840.8v9.5M703.4 840.8v9.5M746.1 840.8v9.5M729.4 840.8v9.5M711.6 840.8v9.5M717.7 840.8v9.5M702.5 840.8v9.5M713.4 840.8v9.5M724.7 840.8v9.5M721.3 840.8v9.5M720.8 840.8v9.5M705.2 840.8v9.5M706.2 840.8v9.5M730.3 840.8v9.5M725.5 840.8v9.5M700.3 840.8v9.5M703.6 840.8v9.5M710.8 840.8v9.5M714 840.8v9.5M721.3 840.8v9.5M695 840.8v9.5M716.4 840.8v9.5M730.5 840.8v9.5M708.5 840.8v9.5M733.2 840.8v9.5M708.5 840.8v9.5M704.2 840.8v9.5M707.1 840.8v9.5M706.9 840.8v9.5M737 840.8v9.5M715.3 840.8v9.5M706.2 840.8v9.5M720.3 840.8v9.5M733.5 840.8v9.5M704.3 840.8v9.5M723.3 840.8v9.5M693.4 840.8v9.5M686.9 840.8v9.5M703.7 840.8v9.5M725 840.8v9.5M704 840.8v9.5M701.6 840.8v9.5M747.1 840.8v9.5M684.7 840.8v9.5M721.2 840.8v9.5M740.2 840.8v9.5M709.4 840.8v9.5M714.5 840.8v9.5M697.1 840.8v9.5M708.2 840.8v9.5M734.7 840.8v9.5M715.1 840.8v9.5M693 840.8v9.5M753.6 840.8v9.5M731.7 840.8v9.5M707.8 840.8v9.5M712.1 840.8v9.5M729.3 840.8v9.5M736.4 840.8v9.5M719.1 840.8v9.5M692.3 840.8v9.5M705.7 840.8v9.5M703.5 840.8v9.5M722.4 840.8v9.5M732.5 840.8v9.5M705.9 840.8v9.5M700 840.8v9.5M708.4 840.8v9.5M707.7 840.8v9.5M716.7 840.8v9.5M731.4 840.8v9.5M723.9 840.8v9.5M716 840.8v9.5M726.4 840.8v9.5M694.4 840.8v9.5M720.8 840.8v9.5M695.2 840.8v9.5M761 840.8v9.5M729.3 840.8v9.5M724.1 840.8v9.5M706.9 840.8v9.5M716.7 840.8v9.5M691.3 840.8v9.5M712.7 840.8v9.5M726.1 840.8v9.5M700.3 840.8v9.5M715.8 840.8v9.5M727.1 840.8v9.5M733.4 840.8v9.5M699.8 840.8v9.5M687.2 840.8v9.5M704.4 840.8v9.5M698.5 840.8v9.5M736.9 840.8v9.5M775.8 840.8v9.5M716.4 840.8v9.5M706.6 840.8v9.5M708.5 840.8v9.5M706.7 840.8v9.5M709.7 840.8v9.5M698.7 840.8v9.5M702.1 840.8v9.5M715.4 840.8v9.5M703.9 840.8v9.5M688.1 840.8v9.5M716.2 840.8v9.5M693.9 840.8v9.5M693.9 840.8v9.5M723.8 840.8v9.5M693.1 840.8v9.5M731.9 840.8v9.5M691.1 840.8v9.5M695.9 840.8v9.5M693.3 840.8v9.5M679.6 840.8v9.5M759.6 840.8v9.5M754.3 840.8v9.5M743.6 840.8v9.5M724.1 840.8v9.5M693.9 840.8v9.5M773.8 840.8v9.5M701.2 840.8v9.5M704 840.8v9.5M707.7 840.8v9.5M725.6 840.8v9.5M712.5 840.8v9.5M743.2 840.8v9.5M733.5 840.8v9.5M703.5 840.8v9.5M723.2 840.8v9.5M747.1 840.8v9.5M714.5 840.8v9.5M717.2 840.8v9.5M701.5 840.8v9.5M718.3 840.8v9.5M731.1 840.8v9.5M703.2 840.8v9.5M724.1 840.8v9.5M706.3 840.8v9.5M711 840.8v9.5M733.5 840.8v9.5M711 840.8v9.5M695.6 840.8v9.5M733.7 840.8v9.5M733.4 840.8v9.5M733.7 840.8v9.5M732 840.8v9.5M692.6 840.8v9.5M699.6 840.8v9.5M722.9 840.8v9.5M706 840.8v9.5M688.7 840.8v9.5M711.3 840.8v9.5M729.6 840.8v9.5M707.2 840.8v9.5M709 840.8v9.5M689.2 840.8v9.5M726.7 840.8v9.5M737.5 840.8v9.5M720.8 840.8v9.5M730.9 840.8v9.5M705 840.8v9.5M705.7 840.8v9.5M736.2 840.8v9.5M709.2 840.8v9.5M722.4 840.8v9.5M746 840.8v9.5M688.5 840.8v9.5M706.8 840.8v9.5M710.9 840.8v9.5M686.2 840.8v9.5M692.2 840.8v9.5M721.2 840.8v9.5M696.6 840.8v9.5M695.7 840.8v9.5M795.9 840.8v9.5M710.2 840.8v9.5M725.2 840.8v9.5M701.5 840.8v9.5M677.8 840.8v9.5M725.7 840.8v9.5M697.3 840.8v9.5M693.3 840.8v9.5M700.5 840.8v9.5M725.2 840.8v9.5M738.5 840.8v9.5M703.2 840.8v9.5M698.8 840.8v9.5M701 840.8v9.5M718.3 840.8v9.5M696.5 840.8v9.5M732.4 840.8v9.5M729.6 840.8v9.5M707.9 840.8v9.5M725.6 840.8v9.5M711.1 840.8v9.5M691.6 840.8v9.5M728.6 840.8v9.5M709.5 840.8v9.5M723.2 840.8v9.5M703.1 840.8v9.5M705.5 840.8v9.5M689.9 840.8v9.5M724.3 840.8v9.5M712.5 840.8v9.5M722 840.8v9.5M710.4 840.8v9.5M716.8 840.8v9.5M721 840.8v9.5M745.5 840.8v9.5M719.9 840.8v9.5M766.9 840.8v9.5M714 840.8v9.5M735 840.8v9.5M712.8 840.8v9.5M688.7 840.8v9.5M714.4 840.8v9.5M697.1 840.8v9.5M712.8 840.8v9.5M701.1 840.8v9.5M724.1 840.8v9.5M714.1 840.8v9.5M691.5 840.8v9.5M696.4 840.8v9.5M724.7 840.8v9.5M705.8 840.8v9.5M711.4 840.8v9.5M722.3 840.8v9.5M694.9 840.8v9.5M723.6 840.8v9.5M718.8 840.8v9.5M712.5 840.8v9.5M708 840.8v9.5M725.8 840.8v9.5M723 840.8v9.5M739.2 840.8v9.5M697.9 840.8v9.5M714.9 840.8v9.5M760.8 840.8v9.5M736.8 840.8v9.5M736.3 840.8v9.5M719.4 840.8v9.5M713.3 840.8v9.5M717.3 840.8v9.5M694.9 840.8v9.5M716.2 840.8v9.5M704.9 840.8v9.5M748.2 840.8v9.5M742.6 840.8v9.5M725 840.8v9.5M695.1 840.8v9.5M686.8 840.8v9.5M701 840.8v9.5M732.4 840.8v9.5M739 840.8v9.5M732.2 840.8v9.5M716.9 840.8v9.5M743.7 840.8v9.5M720.6 840.8v9.5M757.9 840.8v9.5M744.5 840.8v9.5M718.1 840.8v9.5M737.9 840.8v9.5M725 840.8v9.5M740.4 840.8v9.5M751.8 840.8v9.5M691.3 840.8v9.5M700 840.8v9.5M731.7 840.8v9.5M704.7 840.8v9.5M688.8 840.8v9.5M719.7 840.8v9.5M744.2 840.8v9.5M748.2 840.8v9.5M748.5 840.8v9.5M784 840.8v9.5M726.4 840.8v9.5M710.3 840.8v9.5M723.5 840.8v9.5M725 840.8v9.5M714.8 840.8v9.5M776.5 840.8v9.5M696 840.8v9.5M716.8 840.8v9.5M693.5 840.8v9.5M695.2 840.8v9.5M703.8 840.8v9.5M717.2 840.8v9.5M702.6 840.8v9.5M700.4 840.8v9.5M710.6 840.8v9.5M709.4 840.8v9.5M707.6 840.8v9.5M691.2 840.8v9.5M700.2 840.8v9.5M798 840.8v9.5M703.6 840.8v9.5M703.6 840.8v9.5M743.7 840.8v9.5M727.5 840.8v9.5M690 840.8v9.5M710.7 840.8v9.5M716.3 840.8v9.5M708 840.8v9.5M702.2 840.8v9.5M694 840.8v9.5M723.6 840.8v9.5M726.1 840.8v9.5M697.5 840.8v9.5M693.7 840.8v9.5M705.6 840.8v9.5M738.3 840.8v9.5M704.4 840.8v9.5M716.2 840.8v9.5M707.2 840.8v9.5M749.9 840.8v9.5M718.8 840.8v9.5M717.9 840.8v9.5M694 840.8v9.5M688.7 840.8v9.5M712.7 840.8v9.5M689.9 840.8v9.5M713.4 840.8v9.5M709.6 840.8v9.5M755.7 840.8v9.5M715.6 840.8v9.5M769.9 840.8v9.5M705.7 840.8v9.5M716.1 840.8v9.5M711.1 840.8v9.5M686.8 840.8v9.5M717.1 840.8v9.5M712.5 840.8v9.5M723.1 840.8v9.5M710.7 840.8v9.5M719.2 840.8v9.5M703.8 840.8v9.5M740.4 840.8v9.5M722.9 840.8v9.5M679.5 840.8v9.5M724.2 840.8v9.5M702.8 840.8v9.5M720.4 840.8v9.5M790.1 840.8v9.5M711.1 840.8v9.5M724.2 840.8v9.5M696.9 840.8v9.5M708.8 840.8v9.5M705.1 840.8v9.5M731.1 840.8v9.5M691.8 840.8v9.5M735 840.8v9.5M779 840.8v9.5M689.3 840.8v9.5M699.6 840.8v9.5M794 840.8v9.5M699.5 840.8v9.5M715.3 840.8v9.5M796.1 840.8v9.5M785.8 840.8v9.5M731.8 840.8v9.5M765.7 840.8v9.5M742.6 840.8v9.5M776.4 840.8v9.5M728.3 840.8v9.5M758.3 840.8v9.5M685.4 840.8v9.5M689.3 840.8v9.5M724.5 840.8v9.5M740.1 840.8v9.5M754.7 840.8v9.5M771.8 840.8v9.5M678.8 840.8v9.5M766.7 840.8v9.5M759.9 840.8v9.5M735.3 840.8v9.5M741.1 840.8v9.5M742.9 840.8v9.5M740.3 840.8v9.5M771.2 840.8v9.5M682.4 840.8v9.5M777.5 840.8v9.5M747.6 840.8v9.5M799.4 840.8v9.5M712.8 840.8v9.5M724.9 840.8v9.5M722.2 840.8v9.5M748.5 840.8v9.5M796.2 840.8v9.5M678.2 840.8v9.5M767.7 840.8v9.5M735.9 840.8v9.5M700.6 840.8v9.5M750.4 840.8v9.5M767.1 840.8v9.5M720.5 840.8v9.5M721.6 840.8v9.5M698.3 840.8v9.5M737.6 840.8v9.5M701.5 840.8v9.5M775.6 840.8v9.5M717.3 840.8v9.5M789.4 840.8v9.5M684.7 840.8v9.5M682.6 840.8v9.5M681.1 840.8v9.5M720.8 840.8v9.5M696.9 840.8v9.5M743.8 840.8v9.5M730.5 840.8v9.5M729.9 840.8v9.5M779.4 840.8v9.5M793.4 840.8v9.5M757.8 840.8v9.5M719.5 840.8v9.5M751.7 840.8v9.5M751.7 840.8v9.5M734 840.8v9.5M756.9 840.8v9.5M774.3 840.8v9.5M684.4 840.8v9.5M696.6 840.8v9.5M789.8 840.8v9.5M741.3 840.8v9.5M767.6 840.8v9.5M768 840.8v9.5M740.5 840.8v9.5M692.7 840.8v9.5M774 840.8v9.5M784 840.8v9.5M691.3 840.8v9.5M691.1 840.8v9.5M789.1 840.8v9.5M694.6 840.8v9.5M729.8 840.8v9.5M693.5 840.8v9.5M688.1 840.8v9.5M684.6 840.8v9.5M720.9 840.8v9.5M696.2 840.8v9.5M790.6 840.8v9.5M776.8 840.8v9.5M790 840.8v9.5M759.9 840.8v9.5M775.6 840.8v9.5M760.7 840.8v9.5M698.1 840.8v9.5M744.7 840.8v9.5M681.9 840.8v9.5M749.9 840.8v9.5" stroke="#111" stroke-width="1.0" fill="none"/><rect x="657" y="548.3" width="425.6" height="302" fill="none" stroke="#2e2e2e" stroke-width="2"/><text class="t" x="629.3" y="815" transform="rotate(-90 629.3 815)" text-anchor="middle" font-size="18.7" fill="#2a2a2a">-2</text><text class="t" x="629.3" y="750.7" transform="rotate(-90 629.3 750.7)" text-anchor="middle" font-size="18.7" fill="#2a2a2a">-1</text><text class="t" x="629.3" y="686.4" transform="rotate(-90 629.3 686.4)" text-anchor="middle" font-size="18.7" fill="#2a2a2a">0</text><text class="t" x="629.3" y="622.1" transform="rotate(-90 629.3 622.1)" text-anchor="middle" font-size="18.7" fill="#2a2a2a">1</text><text class="t" x="629.3" y="557.8" transform="rotate(-90 629.3 557.8)" text-anchor="middle" font-size="18.7" fill="#2a2a2a">2</text><text class="t" x="727.9" y="891" text-anchor="middle" font-size="18.7" fill="#2a2a2a">20</text><text class="t" x="809.2" y="891" text-anchor="middle" font-size="18.7" fill="#2a2a2a">40</text><text class="t" x="890.5" y="891" text-anchor="middle" font-size="18.7" fill="#2a2a2a">60</text><text class="t" x="971.8" y="891" text-anchor="middle" font-size="18.7" fill="#2a2a2a">80</text><text class="t" x="1053.1" y="891" text-anchor="middle" font-size="18.7" fill="#2a2a2a">100</text><path d="M645 815H657M645 750.7H657M645 686.4H657M645 622.1H657M645 557.8H657M727.9 850.3V862.3M809.2 850.3V862.3M890.5 850.3V862.3M971.8 850.3V862.3M1053.1 850.3V862.3" stroke="#2e2e2e" stroke-width="2" fill="none"/><text class="t" x="869.8" y="935.9" text-anchor="middle" font-size="18.7" fill="#2a2a2a">nppv</text><text class="t" x="585" y="699.3" transform="rotate(-90 585 699.3)" text-anchor="middle" font-size="18.7" fill="#2a2a2a">s(nppv,1)</text></g><text x="7" y="24.1" font-size="30" font-weight="bold" fill="#000">A</text><text x="564" y="24.1" font-size="30" font-weight="bold" fill="#000">B</text><text x="1135" y="24.1" font-size="30" font-weight="bold" fill="#000">C</text><text x="7" y="537.8" font-size="30" font-weight="bold" fill="#000">D</text><text x="564" y="537.8" font-size="30" font-weight="bold" fill="#000">E</text></g></svg></body></html>
